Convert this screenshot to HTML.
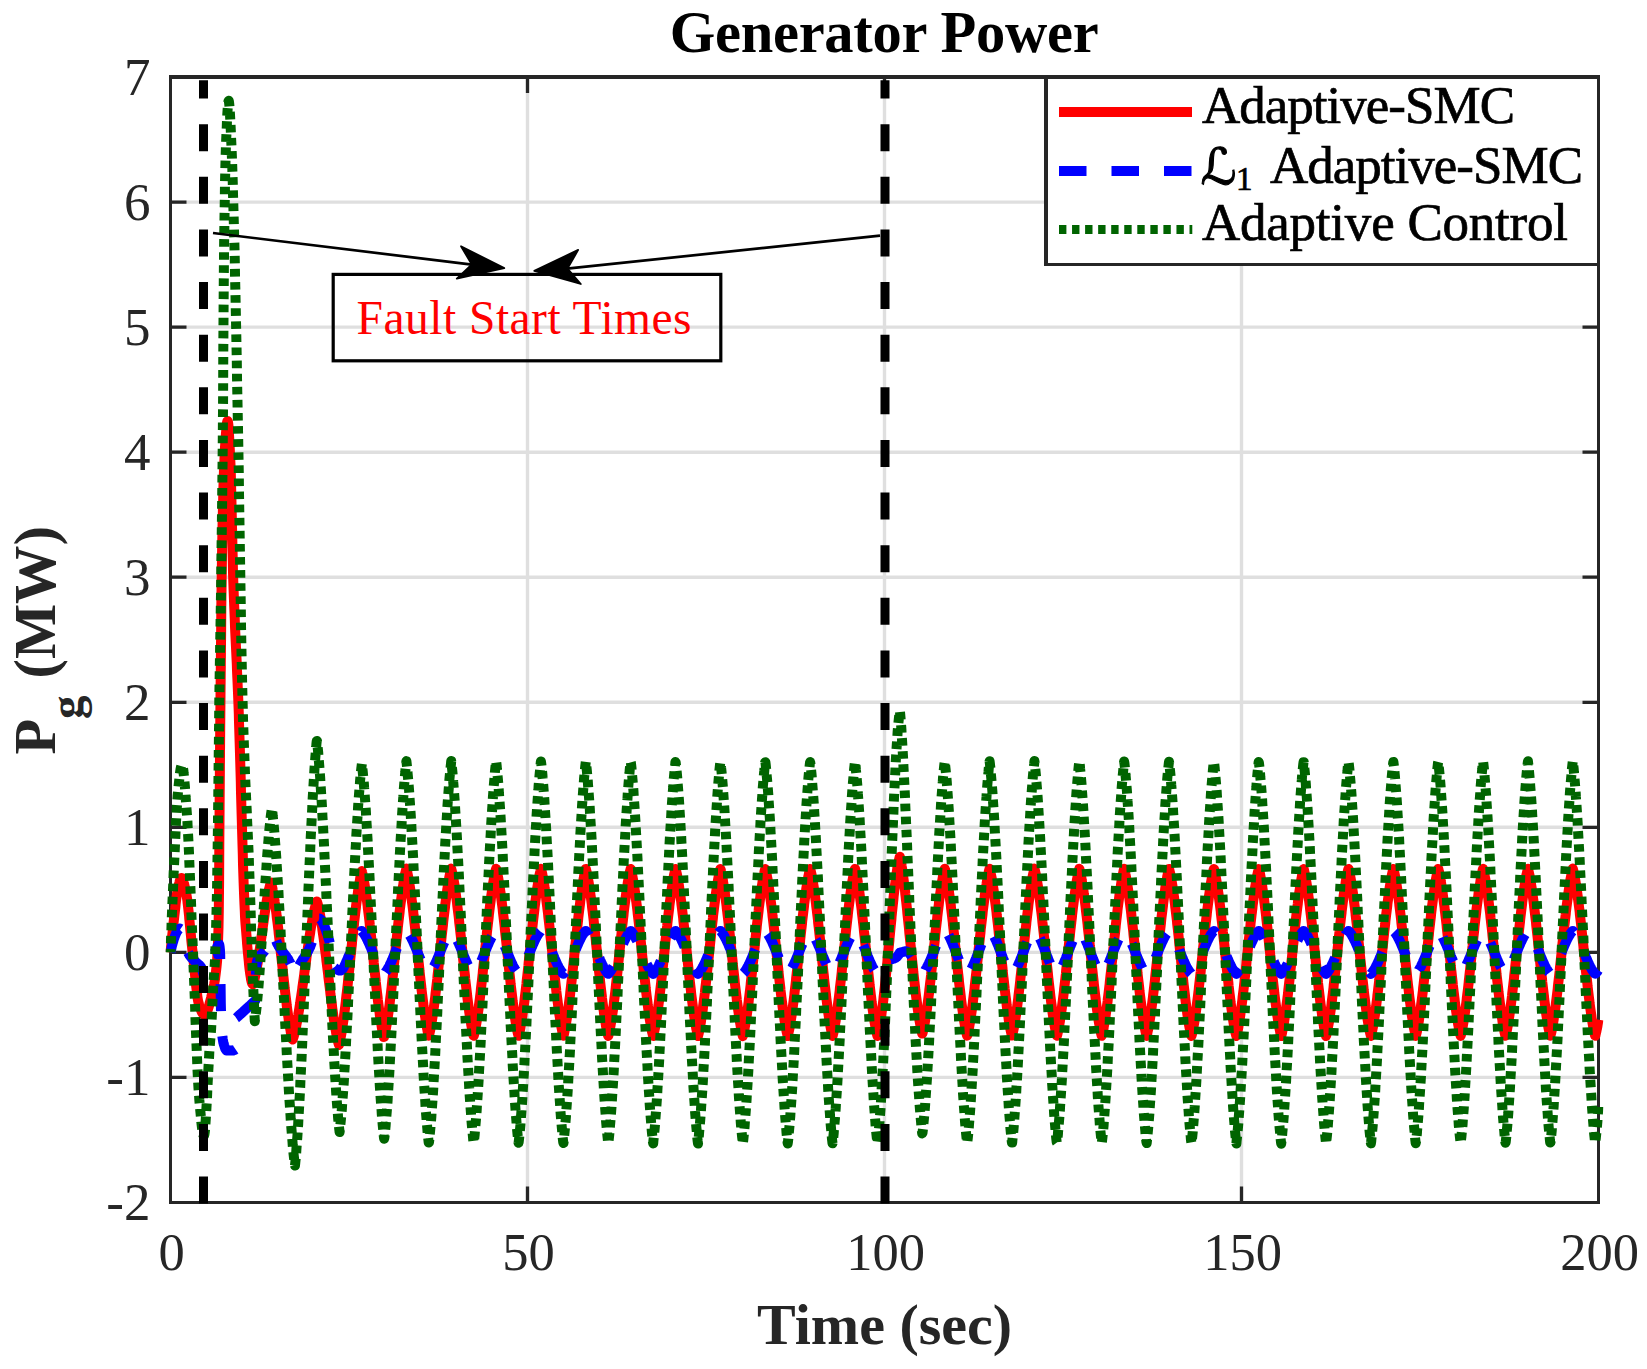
<!DOCTYPE html>
<html lang="en"><head><meta charset="utf-8"><title>Generator Power</title>
<style>html,body{margin:0;padding:0;background:#fff}svg{display:block}</style></head>
<body>
<svg width="1647" height="1369" viewBox="0 0 1647 1369" font-family="'Liberation Serif','Times New Roman',Times,serif">
<rect width="1647" height="1369" fill="#fff"/>
<clipPath id="ax"><rect x="165.5" y="77.0" width="1438.0" height="1125.5"/></clipPath>
<path d="M527.5 77.0V1202.5M884.5 77.0V1202.5M1241.5 77.0V1202.5M170.5 1077.4H1598.5M170.5 952.4H1598.5M170.5 827.3H1598.5M170.5 702.3H1598.5M170.5 577.2H1598.5M170.5 452.2H1598.5M170.5 327.1H1598.5M170.5 202.1H1598.5" stroke="#dfdfdf" stroke-width="3.4" fill="none"/>
<path d="M527.5 1202.5v-16M527.5 77.0v16M884.5 1202.5v-16M884.5 77.0v16M1241.5 1202.5v-16M1241.5 77.0v16M170.5 1077.4h16M1598.5 1077.4h-16M170.5 952.4h16M1598.5 952.4h-16M170.5 827.3h16M1598.5 827.3h-16M170.5 702.3h16M1598.5 702.3h-16M170.5 577.2h16M1598.5 577.2h-16M170.5 452.2h16M1598.5 452.2h-16M170.5 327.1h16M1598.5 327.1h-16M170.5 202.1h16M1598.5 202.1h-16" stroke="#262626" stroke-width="3.3" fill="none"/>
<path d="M170.5 1202.5V75.0M1598.5 1202.5V75.0M169.0 1202.5H1600.0" stroke="#262626" stroke-width="3" fill="none"/>
<path d="M169.0 77.0H1600.0" stroke="#262626" stroke-width="4" fill="none"/>
<g clip-path="url(#ax)" fill="none" stroke-linejoin="round">
<path d="M170.5 952.4L170.8 949.5L171.1 946.6L171.4 943.8L171.6 941.0L171.9 938.3L172.2 935.5L172.5 932.8L172.8 930.2L173.1 927.5L173.4 925.0L173.6 922.4L173.9 919.9L174.2 917.4L174.5 914.8L174.8 912.2L175.1 909.5L175.4 906.9L175.6 904.3L175.9 901.7L176.2 899.3L176.5 897.0L176.8 894.9L177.1 893.0L177.4 891.3L177.6 889.9L177.9 888.6L178.2 887.3L178.5 886.0L178.8 884.8L179.1 883.6L179.4 882.5L179.6 881.5L179.9 880.6L180.2 879.8L180.5 879.1L180.8 878.6L181.1 878.2L181.4 878.0L181.6 878.0L181.9 878.2L182.2 878.5L182.5 879.0L182.8 879.6L183.1 880.4L183.4 881.2L183.6 882.2L183.9 883.3L184.2 884.4L184.5 885.6L184.8 886.9L185.1 888.2L185.4 889.5L185.6 890.9L185.9 892.2L186.2 893.6L186.5 895.1L186.8 896.8L187.1 898.7L187.4 900.8L187.6 903.0L187.9 905.4L188.2 908.0L188.5 910.6L188.8 913.4L189.1 916.2L189.3 919.1L189.6 922.1L189.9 925.1L190.2 928.2L190.5 931.2L190.8 934.2L191.1 937.2L191.3 940.2L191.6 943.0L191.9 945.8L192.2 948.5L192.5 951.1L192.8 953.6L193.1 956.2L193.3 958.9L193.6 961.6L193.9 964.3L194.2 967.2L194.5 970.0L194.8 972.8L195.1 975.6L195.3 978.4L195.6 981.2L195.9 983.9L196.2 986.5L196.5 989.0L196.8 991.4L197.1 993.7L197.3 995.9L197.6 997.9L197.9 999.7L198.2 1001.3L198.5 1002.7L198.8 1003.9L199.1 1004.9L199.3 1005.8L199.6 1006.6L199.9 1007.4L200.2 1008.2L200.5 1008.9L200.8 1009.6L201.1 1010.3L201.3 1011.0L201.6 1011.6L201.9 1012.2L202.2 1012.7L202.5 1013.2L202.8 1013.6L203.1 1014.0L203.3 1014.3L203.6 1014.6L203.9 1014.8L204.2 1014.9L204.5 1014.9L204.8 1014.9L205.1 1014.7L205.3 1014.5L205.6 1014.2L205.9 1013.8L206.2 1013.4L206.5 1012.9L206.8 1012.3L207.1 1011.6L207.3 1010.9L207.6 1010.1L207.9 1009.3L208.2 1008.4L208.5 1007.5L208.8 1006.5L209.1 1005.5L209.3 1004.5L209.6 1003.4L209.9 1002.3L210.2 1001.2L210.5 1000.1L210.8 998.9L211.1 997.7L211.3 996.6L211.6 995.4L211.9 994.2L212.2 993.0L212.5 991.8L212.8 990.6L213.1 989.4L213.3 988.1L213.6 986.8L213.9 985.4L214.2 983.9L214.5 982.2L214.8 980.5L215.1 978.7L215.3 976.7L215.6 974.5L215.9 972.2L216.2 969.6L216.5 966.9L216.8 964.0L217.1 960.7L217.3 956.6L217.6 951.4L217.9 944.9L218.2 936.9L218.5 927.4L218.8 910.3L219.1 882.3L219.3 846.8L219.6 807.0L219.9 766.4L220.2 728.3L220.5 695.9L220.8 665.3L221.1 635.2L221.3 607.2L221.6 582.7L221.9 561.9L222.2 543.3L222.5 527.3L222.8 514.2L223.1 502.4L223.3 491.5L223.6 481.4L223.9 472.4L224.2 464.4L224.5 457.6L224.8 452.2L225.0 447.4L225.3 442.8L225.6 438.4L225.9 434.3L226.2 430.6L226.5 427.3L226.8 424.7L227.0 422.6L227.3 421.3L227.6 420.9L227.9 421.6L228.2 423.4L228.5 426.3L228.8 430.1L229.0 434.8L229.3 440.0L229.6 445.8L229.9 451.9L230.2 458.2L230.5 464.7L230.8 472.4L231.0 482.5L231.3 494.4L231.6 507.6L231.9 521.4L232.2 535.3L232.5 548.9L232.8 561.4L233.0 572.4L233.3 581.6L233.6 590.1L233.9 598.1L234.2 605.7L234.5 613.0L234.8 619.9L235.0 626.6L235.3 633.0L235.6 639.4L235.9 645.6L236.2 651.7L236.5 657.9L236.8 664.1L237.0 670.4L237.3 676.9L237.6 683.6L237.9 690.6L238.2 697.8L238.5 705.5L238.8 713.6L239.0 722.3L239.3 731.5L239.6 741.0L239.9 750.9L240.2 761.0L240.5 771.4L240.8 781.9L241.0 792.6L241.3 803.2L241.6 813.8L241.9 824.3L242.2 834.7L242.5 844.9L242.8 854.7L243.0 864.3L243.3 873.4L243.6 882.1L243.9 890.3L244.2 897.8L244.5 904.8L244.8 911.0L245.0 916.4L245.3 921.0L245.6 924.9L245.9 928.5L246.2 932.2L246.5 935.8L246.8 939.3L247.0 942.8L247.3 946.1L247.6 949.4L247.9 952.6L248.2 955.7L248.5 958.7L248.8 961.5L249.0 964.3L249.3 966.9L249.6 969.3L249.9 971.6L250.2 973.8L250.5 975.7L250.8 977.5L251.0 979.1L251.3 980.5L251.6 981.7L251.9 982.7L252.2 983.5L252.5 984.0L252.8 984.3L253.0 984.2L253.3 983.3L253.6 982.4L253.9 981.4L254.2 980.4L254.5 979.3L254.8 978.1L255.0 976.9L255.3 975.6L255.6 974.2L255.9 972.8L256.2 971.4L256.5 969.9L256.8 968.3L257.0 966.7L257.3 965.0L257.6 963.3L257.9 961.6L258.2 959.8L258.5 957.9L258.8 956.1L259.0 954.2L259.3 952.2L259.6 950.3L259.9 948.3L260.2 946.3L260.5 944.2L260.7 942.2L261.0 940.1L261.3 938.1L261.6 936.0L261.9 933.9L262.2 931.8L262.5 929.7L262.7 927.7L263.0 925.6L263.3 923.5L263.6 921.5L263.9 919.5L264.2 917.5L264.5 915.5L264.7 913.6L265.0 911.6L265.3 909.8L265.6 907.9L265.9 906.1L266.2 904.3L266.5 902.6L266.7 900.9L267.0 899.3L267.3 897.7L267.6 896.1L267.9 894.6L268.2 893.2L268.5 891.8L268.7 890.5L269.0 889.3L269.3 888.1L269.6 886.9L269.9 885.8L270.2 884.8L270.5 883.9L270.7 883.0L271.0 882.6L271.3 883.7L271.6 884.9L271.9 886.1L272.2 887.4L272.5 888.7L272.7 890.2L273.0 891.7L273.3 893.2L273.6 894.8L273.9 896.5L274.2 898.3L274.5 900.1L274.7 901.9L275.0 903.9L275.3 905.8L275.6 907.9L275.9 910.0L276.2 912.1L276.5 914.3L276.7 916.5L277.0 918.8L277.3 921.1L277.6 923.5L277.9 925.9L278.2 928.3L278.5 930.8L278.7 933.3L279.0 935.8L279.3 938.4L279.6 941.0L279.9 943.6L280.2 946.2L280.5 948.8L280.7 951.5L281.0 954.1L281.3 956.8L281.6 959.5L281.9 962.1L282.2 964.8L282.5 967.5L282.7 970.1L283.0 972.8L283.3 975.4L283.6 978.1L283.9 980.7L284.2 983.3L284.5 985.8L284.7 988.4L285.0 990.9L285.3 993.4L285.6 995.8L285.9 998.2L286.2 1000.6L286.5 1002.9L286.7 1005.2L287.0 1007.5L287.3 1009.6L287.6 1011.8L287.9 1013.9L288.2 1015.9L288.5 1017.9L288.7 1019.9L289.0 1021.8L289.3 1023.6L289.6 1025.3L289.9 1027.0L290.2 1028.7L290.5 1030.2L290.7 1031.7L291.0 1033.2L291.3 1034.6L291.6 1035.9L291.9 1037.1L292.2 1038.3L292.5 1039.4L292.7 1039.5L293.0 1038.6L293.3 1037.7L293.6 1036.8L293.9 1035.8L294.2 1034.7L294.5 1033.6L294.7 1032.5L295.0 1031.3L295.3 1030.1L295.6 1028.8L295.9 1027.4L296.2 1026.1L296.4 1024.7L296.7 1023.2L297.0 1021.7L297.3 1020.2L297.6 1018.6L297.9 1017.0L298.2 1015.4L298.4 1013.7L298.7 1012.0L299.0 1010.2L299.3 1008.5L299.6 1006.6L299.9 1004.8L300.2 1002.9L300.4 1001.0L300.7 999.1L301.0 997.2L301.3 995.2L301.6 993.2L301.9 991.2L302.2 989.2L302.4 987.2L302.7 985.1L303.0 983.1L303.3 981.0L303.6 978.9L303.9 976.8L304.2 974.7L304.4 972.6L304.7 970.5L305.0 968.4L305.3 966.3L305.6 964.2L305.9 962.1L306.2 960.1L306.4 958.0L306.7 955.9L307.0 953.9L307.3 951.8L307.6 949.8L307.9 947.8L308.2 945.8L308.4 943.9L308.7 941.9L309.0 940.0L309.3 938.1L309.6 936.2L309.9 934.4L310.2 932.6L310.4 930.8L310.7 929.1L311.0 927.3L311.3 925.7L311.6 924.0L311.9 922.4L312.2 920.8L312.4 919.3L312.7 917.8L313.0 916.4L313.3 915.0L313.6 913.6L313.9 912.3L314.2 911.0L314.4 909.8L314.7 908.6L315.0 907.4L315.3 906.3L315.6 905.3L315.9 904.3L316.2 903.3L316.4 902.4L316.7 901.5L317.0 901.6L317.3 902.6L317.6 903.6L317.9 904.7L318.2 905.9L318.4 907.1L318.7 908.4L319.0 909.7L319.3 911.1L319.6 912.6L319.9 914.1L320.2 915.6L320.4 917.2L320.7 918.9L321.0 920.6L321.3 922.4L321.6 924.2L321.9 926.0L322.2 927.9L322.4 929.9L322.7 931.9L323.0 933.9L323.3 935.9L323.6 938.0L323.9 940.2L324.2 942.3L324.4 944.5L324.7 946.8L325.0 949.0L325.3 951.3L325.6 953.6L325.9 955.9L326.2 958.2L326.4 960.6L326.7 962.9L327.0 965.3L327.3 967.7L327.6 970.0L327.9 972.4L328.2 974.8L328.4 977.2L328.7 979.6L329.0 981.9L329.3 984.3L329.6 986.7L329.9 989.0L330.2 991.3L330.4 993.6L330.7 995.9L331.0 998.2L331.3 1000.4L331.6 1002.6L331.9 1004.8L332.1 1006.9L332.4 1009.1L332.7 1011.1L333.0 1013.2L333.3 1015.2L333.6 1017.2L333.9 1019.1L334.1 1021.0L334.4 1022.8L334.7 1024.6L335.0 1026.3L335.3 1028.0L335.6 1029.6L335.9 1031.2L336.1 1032.7L336.4 1034.2L336.7 1035.6L337.0 1037.0L337.3 1038.3L337.6 1039.6L337.9 1040.7L338.1 1041.9L338.4 1043.0L338.7 1044.0L339.0 1044.9L339.3 1043.8L339.6 1042.6L339.9 1041.4L340.1 1040.0L340.4 1038.7L340.7 1037.2L341.0 1035.7L341.3 1034.1L341.6 1032.5L341.9 1030.8L342.1 1029.0L342.4 1027.2L342.7 1025.3L343.0 1023.3L343.3 1021.3L343.6 1019.2L343.9 1017.1L344.1 1015.0L344.4 1012.7L344.7 1010.5L345.0 1008.2L345.3 1005.8L345.6 1003.4L345.9 1000.9L346.1 998.5L346.4 995.9L346.7 993.4L347.0 990.8L347.3 988.2L347.6 985.5L347.9 982.8L348.1 980.1L348.4 977.4L348.7 974.7L349.0 971.9L349.3 969.2L349.6 966.4L349.9 963.6L350.1 960.8L350.4 958.0L350.7 955.2L351.0 952.4L351.3 949.6L351.6 946.9L351.9 944.1L352.1 941.4L352.4 938.6L352.7 935.9L353.0 933.2L353.3 930.5L353.6 927.9L353.9 925.3L354.1 922.7L354.4 920.1L354.7 917.6L355.0 915.1L355.3 912.6L355.6 910.2L355.9 907.9L356.1 905.6L356.4 903.3L356.7 901.1L357.0 898.9L357.3 896.8L357.6 894.7L357.9 892.7L358.1 890.8L358.4 888.9L358.7 887.0L359.0 885.3L359.3 883.6L359.6 881.9L359.9 880.3L360.1 878.8L360.4 877.4L360.7 876.0L361.0 874.7L361.3 873.4L361.6 872.2L361.9 871.1L362.1 872.2L362.4 873.4L362.7 874.6L363.0 875.9L363.3 877.3L363.6 878.8L363.9 880.3L364.1 881.9L364.4 883.5L364.7 885.2L365.0 887.0L365.3 888.8L365.6 890.7L365.9 892.6L366.1 894.7L366.4 896.7L366.7 898.8L367.0 901.0L367.3 903.2L367.6 905.5L367.8 907.8L368.1 910.2L368.4 912.6L368.7 915.0L369.0 917.5L369.3 920.0L369.6 922.6L369.8 925.2L370.1 927.8L370.4 930.4L370.7 933.1L371.0 935.8L371.3 938.5L371.6 941.2L371.8 943.9L372.1 946.7L372.4 949.4L372.7 952.2L373.0 955.0L373.3 957.7L373.6 960.5L373.8 963.2L374.1 966.0L374.4 968.7L374.7 971.4L375.0 974.1L375.3 976.8L375.6 979.4L375.8 982.0L376.1 984.6L376.4 987.2L376.7 989.8L377.0 992.3L377.3 994.7L377.6 997.2L377.8 999.5L378.1 1001.9L378.4 1004.2L378.7 1006.4L379.0 1008.6L379.3 1010.8L379.6 1012.9L379.8 1014.9L380.1 1016.9L380.4 1018.8L380.7 1020.6L381.0 1022.4L381.3 1024.2L381.6 1025.9L381.8 1027.5L382.1 1029.0L382.4 1030.5L382.7 1031.9L383.0 1033.3L383.3 1034.5L383.6 1035.7L383.8 1036.9L384.1 1036.9L384.4 1035.7L384.7 1034.5L385.0 1033.2L385.3 1031.9L385.6 1030.5L385.8 1029.0L386.1 1027.5L386.4 1025.9L386.7 1024.2L387.0 1022.5L387.3 1020.7L387.6 1018.8L387.8 1016.9L388.1 1014.9L388.4 1012.9L388.7 1010.8L389.0 1008.7L389.3 1006.5L389.6 1004.2L389.8 1002.0L390.1 999.6L390.4 997.2L390.7 994.8L391.0 992.4L391.3 989.9L391.6 987.3L391.8 984.8L392.1 982.2L392.4 979.6L392.7 976.9L393.0 974.2L393.3 971.5L393.6 968.8L393.8 966.1L394.1 963.4L394.4 960.6L394.7 957.8L395.0 955.1L395.3 952.3L395.6 949.6L395.8 946.8L396.1 944.0L396.4 941.3L396.7 938.6L397.0 935.8L397.3 933.1L397.6 930.5L397.8 927.8L398.1 925.2L398.4 922.5L398.7 920.0L399.0 917.4L399.3 914.9L399.6 912.4L399.8 910.0L400.1 907.6L400.4 905.2L400.7 902.9L401.0 900.7L401.3 898.4L401.6 896.3L401.8 894.2L402.1 892.1L402.4 890.1L402.7 888.2L403.0 886.3L403.3 884.5L403.5 882.7L403.8 881.0L404.1 879.3L404.4 877.8L404.7 876.3L405.0 874.8L405.3 873.4L405.5 872.1L405.8 870.9L406.1 869.7L406.4 868.6L406.7 869.8L407.0 871.0L407.3 872.2L407.5 873.5L407.8 874.9L408.1 876.3L408.4 877.8L408.7 879.4L409.0 881.0L409.3 882.7L409.5 884.5L409.8 886.3L410.1 888.2L410.4 890.1L410.7 892.1L411.0 894.1L411.3 896.2L411.5 898.4L411.8 900.6L412.1 902.8L412.4 905.1L412.7 907.5L413.0 909.8L413.3 912.3L413.5 914.7L413.8 917.2L414.1 919.8L414.4 922.3L414.7 924.9L415.0 927.5L415.3 930.2L415.5 932.8L415.8 935.5L416.1 938.2L416.4 940.9L416.7 943.7L417.0 946.4L417.3 949.1L417.5 951.9L417.8 954.6L418.1 957.4L418.4 960.1L418.7 962.8L419.0 965.5L419.3 968.2L419.5 970.9L419.8 973.6L420.1 976.3L420.4 978.9L420.7 981.5L421.0 984.1L421.3 986.6L421.5 989.1L421.8 991.6L422.1 994.0L422.4 996.4L422.7 998.8L423.0 1001.1L423.3 1003.4L423.5 1005.6L423.8 1007.7L424.1 1009.9L424.4 1011.9L424.7 1013.9L425.0 1015.9L425.3 1017.8L425.5 1019.6L425.8 1021.4L426.1 1023.1L426.4 1024.8L426.7 1026.4L427.0 1027.9L427.3 1029.4L427.5 1030.8L427.8 1032.1L428.1 1033.4L428.4 1034.5L428.7 1035.7L429.0 1035.6L429.3 1034.5L429.5 1033.2L429.8 1032.0L430.1 1030.6L430.4 1029.2L430.7 1027.8L431.0 1026.2L431.3 1024.6L431.5 1023.0L431.8 1021.3L432.1 1019.5L432.4 1017.6L432.7 1015.7L433.0 1013.8L433.3 1011.8L433.5 1009.7L433.8 1007.6L434.1 1005.4L434.4 1003.2L434.7 1000.9L435.0 998.6L435.3 996.2L435.5 993.8L435.8 991.4L436.1 988.9L436.4 986.4L436.7 983.8L437.0 981.3L437.3 978.7L437.5 976.0L437.8 973.4L438.1 970.7L438.4 968.0L438.7 965.3L439.0 962.6L439.2 959.9L439.5 957.1L439.8 954.4L440.1 951.6L440.4 948.9L440.7 946.2L441.0 943.4L441.2 940.7L441.5 938.0L441.8 935.3L442.1 932.6L442.4 930.0L442.7 927.3L443.0 924.7L443.2 922.1L443.5 919.5L443.8 917.0L444.1 914.5L444.4 912.1L444.7 909.6L445.0 907.3L445.2 904.9L445.5 902.6L445.8 900.4L446.1 898.2L446.4 896.1L446.7 894.0L447.0 891.9L447.2 889.9L447.5 888.0L447.8 886.1L448.1 884.3L448.4 882.6L448.7 880.9L449.0 879.3L449.2 877.7L449.5 876.2L449.8 874.8L450.1 873.4L450.4 872.1L450.7 870.9L451.0 869.7L451.2 868.6L451.5 869.7L451.8 870.9L452.1 872.1L452.4 873.4L452.7 874.8L453.0 876.2L453.2 877.7L453.5 879.3L453.8 880.9L454.1 882.6L454.4 884.3L454.7 886.1L455.0 888.0L455.2 889.9L455.5 891.9L455.8 894.0L456.1 896.1L456.4 898.2L456.7 900.4L457.0 902.6L457.2 904.9L457.5 907.3L457.8 909.7L458.1 912.1L458.4 914.5L458.7 917.0L459.0 919.6L459.2 922.1L459.5 924.7L459.8 927.3L460.1 930.0L460.4 932.6L460.7 935.3L461.0 938.0L461.2 940.7L461.5 943.4L461.8 946.2L462.1 948.9L462.4 951.7L462.7 954.4L463.0 957.1L463.2 959.9L463.5 962.6L463.8 965.3L464.1 968.0L464.4 970.7L464.7 973.4L465.0 976.0L465.2 978.7L465.5 981.3L465.8 983.9L466.1 986.4L466.4 988.9L466.7 991.4L467.0 993.8L467.2 996.2L467.5 998.6L467.8 1000.9L468.1 1003.2L468.4 1005.4L468.7 1007.6L469.0 1009.7L469.2 1011.8L469.5 1013.8L469.8 1015.7L470.1 1017.6L470.4 1019.5L470.7 1021.3L471.0 1023.0L471.2 1024.6L471.5 1026.2L471.8 1027.8L472.1 1029.2L472.4 1030.6L472.7 1032.0L473.0 1033.3L473.2 1034.5L473.5 1035.6L473.8 1035.7L474.1 1034.5L474.4 1033.3L474.7 1032.1L474.9 1030.7L475.2 1029.4L475.5 1027.9L475.8 1026.4L476.1 1024.8L476.4 1023.1L476.7 1021.4L476.9 1019.6L477.2 1017.8L477.5 1015.9L477.8 1013.9L478.1 1011.9L478.4 1009.9L478.7 1007.7L478.9 1005.6L479.2 1003.3L479.5 1001.1L479.8 998.8L480.1 996.4L480.4 994.0L480.7 991.6L480.9 989.1L481.2 986.6L481.5 984.0L481.8 981.5L482.1 978.9L482.4 976.2L482.7 973.6L482.9 970.9L483.2 968.2L483.5 965.5L483.8 962.8L484.1 960.1L484.4 957.3L484.7 954.6L484.9 951.9L485.2 949.1L485.5 946.4L485.8 943.6L486.1 940.9L486.4 938.2L486.7 935.5L486.9 932.8L487.2 930.2L487.5 927.5L487.8 924.9L488.1 922.3L488.4 919.8L488.7 917.2L488.9 914.7L489.2 912.3L489.5 909.8L489.8 907.5L490.1 905.1L490.4 902.8L490.7 900.6L490.9 898.4L491.2 896.2L491.5 894.1L491.8 892.1L492.1 890.1L492.4 888.2L492.7 886.3L492.9 884.5L493.2 882.7L493.5 881.0L493.8 879.4L494.1 877.8L494.4 876.3L494.7 874.9L494.9 873.5L495.2 872.2L495.5 871.0L495.8 869.8L496.1 868.7L496.4 869.6L496.7 870.8L496.9 872.0L497.2 873.3L497.5 874.7L497.8 876.1L498.1 877.6L498.4 879.1L498.7 880.8L498.9 882.4L499.2 884.2L499.5 886.0L499.8 887.9L500.1 889.8L500.4 891.8L500.7 893.8L500.9 895.9L501.2 898.0L501.5 900.2L501.8 902.5L502.1 904.8L502.4 907.1L502.7 909.5L502.9 911.9L503.2 914.3L503.5 916.8L503.8 919.4L504.1 921.9L504.4 924.5L504.7 927.1L504.9 929.8L505.2 932.4L505.5 935.1L505.8 937.8L506.1 940.5L506.4 943.2L506.7 946.0L506.9 948.7L507.2 951.4L507.5 954.2L507.8 956.9L508.1 959.7L508.4 962.4L508.7 965.1L508.9 967.8L509.2 970.5L509.5 973.2L509.8 975.8L510.1 978.5L510.4 981.1L510.6 983.6L510.9 986.2L511.2 988.7L511.5 991.2L511.8 993.6L512.1 996.0L512.4 998.4L512.6 1000.7L512.9 1003.0L513.2 1005.2L513.5 1007.4L513.8 1009.5L514.1 1011.6L514.4 1013.6L514.6 1015.6L514.9 1017.5L515.2 1019.3L515.5 1021.1L515.8 1022.9L516.1 1024.5L516.4 1026.1L516.6 1027.7L516.9 1029.1L517.2 1030.5L517.5 1031.9L517.8 1033.2L518.1 1034.4L518.4 1035.5L518.6 1035.8L518.9 1034.6L519.2 1033.4L519.5 1032.2L519.8 1030.9L520.1 1029.5L520.4 1028.0L520.6 1026.5L520.9 1024.9L521.2 1023.3L521.5 1021.5L521.8 1019.8L522.1 1017.9L522.4 1016.0L522.6 1014.1L522.9 1012.1L523.2 1010.0L523.5 1007.9L523.8 1005.7L524.1 1003.5L524.4 1001.3L524.6 999.0L524.9 996.6L525.2 994.2L525.5 991.8L525.8 989.3L526.1 986.8L526.4 984.2L526.6 981.7L526.9 979.1L527.2 976.5L527.5 973.8L527.8 971.1L528.1 968.4L528.4 965.7L528.6 963.0L528.9 960.3L529.2 957.6L529.5 954.8L529.8 952.1L530.1 949.3L530.4 946.6L530.6 943.9L530.9 941.1L531.2 938.4L531.5 935.7L531.8 933.0L532.1 930.4L532.4 927.7L532.6 925.1L532.9 922.5L533.2 920.0L533.5 917.4L533.8 914.9L534.1 912.5L534.4 910.0L534.6 907.6L534.9 905.3L535.2 903.0L535.5 900.7L535.8 898.5L536.1 896.4L536.4 894.3L536.6 892.2L536.9 890.2L537.2 888.3L537.5 886.4L537.8 884.6L538.1 882.8L538.4 881.1L538.6 879.5L538.9 877.9L539.2 876.4L539.5 875.0L539.8 873.6L540.1 872.3L540.4 871.1L540.6 869.9L540.9 868.8L541.2 869.5L541.5 870.7L541.8 871.9L542.1 873.2L542.4 874.6L542.6 876.0L542.9 877.5L543.2 879.0L543.5 880.6L543.8 882.3L544.1 884.0L544.4 885.8L544.6 887.7L544.9 889.6L545.2 891.6L545.5 893.6L545.8 895.7L546.1 897.9L546.3 900.1L546.6 902.3L546.9 904.6L547.2 906.9L547.5 909.3L547.8 911.7L548.1 914.1L548.3 916.6L548.6 919.2L548.9 921.7L549.2 924.3L549.5 926.9L549.8 929.5L550.1 932.2L550.3 934.9L550.6 937.6L550.9 940.3L551.2 943.0L551.5 945.7L551.8 948.5L552.1 951.2L552.3 954.0L552.6 956.7L552.9 959.4L553.2 962.2L553.5 964.9L553.8 967.6L554.1 970.3L554.3 973.0L554.6 975.6L554.9 978.3L555.2 980.9L555.5 983.4L555.8 986.0L556.1 988.5L556.3 991.0L556.6 993.4L556.9 995.9L557.2 998.2L557.5 1000.5L557.8 1002.8L558.1 1005.1L558.3 1007.2L558.6 1009.4L558.9 1011.4L559.2 1013.5L559.5 1015.4L559.8 1017.3L560.1 1019.2L560.3 1021.0L560.6 1022.7L560.9 1024.4L561.2 1026.0L561.5 1027.5L561.8 1029.0L562.1 1030.4L562.3 1031.8L562.6 1033.1L562.9 1034.3L563.2 1035.4L563.5 1035.8L563.8 1034.7L564.1 1033.5L564.3 1032.3L564.6 1031.0L564.9 1029.6L565.2 1028.1L565.5 1026.6L565.8 1025.0L566.1 1023.4L566.3 1021.7L566.6 1019.9L566.9 1018.1L567.2 1016.2L567.5 1014.2L567.8 1012.2L568.1 1010.2L568.3 1008.1L568.6 1005.9L568.9 1003.7L569.2 1001.4L569.5 999.1L569.8 996.8L570.1 994.4L570.3 992.0L570.6 989.5L570.9 987.0L571.2 984.5L571.5 981.9L571.8 979.3L572.1 976.7L572.3 974.0L572.6 971.3L572.9 968.7L573.2 966.0L573.5 963.2L573.8 960.5L574.1 957.8L574.3 955.0L574.6 952.3L574.9 949.6L575.2 946.8L575.5 944.1L575.8 941.4L576.1 938.6L576.3 935.9L576.6 933.3L576.9 930.6L577.2 927.9L577.5 925.3L577.8 922.7L578.1 920.2L578.3 917.6L578.6 915.1L578.9 912.7L579.2 910.2L579.5 907.8L579.8 905.5L580.1 903.2L580.3 900.9L580.6 898.7L580.9 896.6L581.2 894.5L581.5 892.4L581.8 890.4L582.0 888.5L582.3 886.6L582.6 884.7L582.9 883.0L583.2 881.3L583.5 879.6L583.8 878.1L584.0 876.6L584.3 875.1L584.6 873.7L584.9 872.4L585.2 871.2L585.5 870.0L585.8 868.9L586.0 869.4L586.3 870.6L586.6 871.8L586.9 873.1L587.2 874.4L587.5 875.9L587.8 877.3L588.0 878.9L588.3 880.5L588.6 882.2L588.9 883.9L589.2 885.7L589.5 887.6L589.8 889.5L590.0 891.4L590.3 893.5L590.6 895.6L590.9 897.7L591.2 899.9L591.5 902.1L591.8 904.4L592.0 906.7L592.3 909.1L592.6 911.5L592.9 913.9L593.2 916.4L593.5 919.0L593.8 921.5L594.0 924.1L594.3 926.7L594.6 929.3L594.9 932.0L595.2 934.7L595.5 937.4L595.8 940.1L596.0 942.8L596.3 945.5L596.6 948.3L596.9 951.0L597.2 953.7L597.5 956.5L597.8 959.2L598.0 962.0L598.3 964.7L598.6 967.4L598.9 970.1L599.2 972.8L599.5 975.4L599.8 978.0L600.0 980.7L600.3 983.2L600.6 985.8L600.9 988.3L601.2 990.8L601.5 993.3L601.8 995.7L602.0 998.0L602.3 1000.4L602.6 1002.6L602.9 1004.9L603.2 1007.1L603.5 1009.2L603.8 1011.3L604.0 1013.3L604.3 1015.3L604.6 1017.2L604.9 1019.1L605.2 1020.8L605.5 1022.6L605.8 1024.3L606.0 1025.9L606.3 1027.4L606.6 1028.9L606.9 1030.3L607.2 1031.7L607.5 1033.0L607.8 1034.2L608.0 1035.3L608.3 1035.9L608.6 1034.8L608.9 1033.6L609.2 1032.4L609.5 1031.1L609.8 1029.7L610.0 1028.2L610.3 1026.7L610.6 1025.2L610.9 1023.5L611.2 1021.8L611.5 1020.1L611.8 1018.2L612.0 1016.3L612.3 1014.4L612.6 1012.4L612.9 1010.4L613.2 1008.2L613.5 1006.1L613.8 1003.9L614.0 1001.6L614.3 999.3L614.6 997.0L614.9 994.6L615.2 992.2L615.5 989.7L615.8 987.2L616.0 984.7L616.3 982.1L616.6 979.5L616.9 976.9L617.2 974.2L617.5 971.6L617.7 968.9L618.0 966.2L618.3 963.5L618.6 960.7L618.9 958.0L619.2 955.3L619.5 952.5L619.7 949.8L620.0 947.0L620.3 944.3L620.6 941.6L620.9 938.9L621.2 936.2L621.5 933.5L621.7 930.8L622.0 928.2L622.3 925.5L622.6 922.9L622.9 920.4L623.2 917.8L623.5 915.3L623.7 912.8L624.0 910.4L624.3 908.0L624.6 905.7L624.9 903.4L625.2 901.1L625.5 898.9L625.7 896.7L626.0 894.6L626.3 892.6L626.6 890.6L626.9 888.6L627.2 886.7L627.5 884.9L627.7 883.1L628.0 881.4L628.3 879.8L628.6 878.2L628.9 876.7L629.2 875.2L629.5 873.8L629.7 872.5L630.0 871.3L630.3 870.1L630.6 868.9L630.9 869.3L631.2 870.5L631.5 871.7L631.7 873.0L632.0 874.3L632.3 875.7L632.6 877.2L632.9 878.8L633.2 880.4L633.5 882.0L633.7 883.8L634.0 885.6L634.3 887.4L634.6 889.3L634.9 891.3L635.2 893.3L635.5 895.4L635.7 897.5L636.0 899.7L636.3 901.9L636.6 904.2L636.9 906.5L637.2 908.9L637.5 911.3L637.7 913.7L638.0 916.2L638.3 918.8L638.6 921.3L638.9 923.9L639.2 926.5L639.5 929.1L639.7 931.8L640.0 934.5L640.3 937.1L640.6 939.9L640.9 942.6L641.2 945.3L641.5 948.0L641.7 950.8L642.0 953.5L642.3 956.3L642.6 959.0L642.9 961.7L643.2 964.5L643.5 967.2L643.7 969.9L644.0 972.5L644.3 975.2L644.6 977.8L644.9 980.4L645.2 983.0L645.5 985.6L645.7 988.1L646.0 990.6L646.3 993.1L646.6 995.5L646.9 997.8L647.2 1000.2L647.5 1002.5L647.7 1004.7L648.0 1006.9L648.3 1009.0L648.6 1011.1L648.9 1013.1L649.2 1015.1L649.5 1017.0L649.7 1018.9L650.0 1020.7L650.3 1022.4L650.6 1024.1L650.9 1025.7L651.2 1027.3L651.5 1028.8L651.7 1030.2L652.0 1031.6L652.3 1032.9L652.6 1034.1L652.9 1035.2L653.2 1036.0L653.4 1034.9L653.7 1033.7L654.0 1032.5L654.3 1031.2L654.6 1029.8L654.9 1028.4L655.2 1026.9L655.4 1025.3L655.7 1023.7L656.0 1022.0L656.3 1020.2L656.6 1018.4L656.9 1016.5L657.2 1014.6L657.4 1012.6L657.7 1010.5L658.0 1008.4L658.3 1006.3L658.6 1004.1L658.9 1001.8L659.2 999.5L659.4 997.2L659.7 994.8L660.0 992.4L660.3 989.9L660.6 987.4L660.9 984.9L661.2 982.3L661.4 979.7L661.7 977.1L662.0 974.4L662.3 971.8L662.6 969.1L662.9 966.4L663.2 963.7L663.4 960.9L663.7 958.2L664.0 955.5L664.3 952.7L664.6 950.0L664.9 947.3L665.2 944.5L665.4 941.8L665.7 939.1L666.0 936.4L666.3 933.7L666.6 931.0L666.9 928.4L667.2 925.7L667.4 923.1L667.7 920.6L668.0 918.0L668.3 915.5L668.6 913.0L668.9 910.6L669.2 908.2L669.4 905.9L669.7 903.5L670.0 901.3L670.3 899.1L670.6 896.9L670.9 894.8L671.2 892.7L671.4 890.7L671.7 888.8L672.0 886.9L672.3 885.0L672.6 883.3L672.9 881.5L673.2 879.9L673.4 878.3L673.7 876.8L674.0 875.3L674.3 873.9L674.6 872.6L674.9 871.3L675.2 870.2L675.4 869.0L675.7 869.3L676.0 870.4L676.3 871.6L676.6 872.9L676.9 874.2L677.2 875.6L677.4 877.1L677.7 878.6L678.0 880.2L678.3 881.9L678.6 883.6L678.9 885.4L679.2 887.3L679.4 889.2L679.7 891.1L680.0 893.1L680.3 895.2L680.6 897.3L680.9 899.5L681.2 901.7L681.4 904.0L681.7 906.3L682.0 908.7L682.3 911.1L682.6 913.6L682.9 916.0L683.2 918.5L683.4 921.1L683.7 923.7L684.0 926.3L684.3 928.9L684.6 931.6L684.9 934.2L685.2 936.9L685.4 939.6L685.7 942.4L686.0 945.1L686.3 947.8L686.6 950.6L686.9 953.3L687.2 956.0L687.4 958.8L687.7 961.5L688.0 964.2L688.3 967.0L688.6 969.6L688.9 972.3L689.1 975.0L689.4 977.6L689.7 980.2L690.0 982.8L690.3 985.4L690.6 987.9L690.9 990.4L691.1 992.9L691.4 995.3L691.7 997.7L692.0 1000.0L692.3 1002.3L692.6 1004.5L692.9 1006.7L693.1 1008.9L693.4 1010.9L693.7 1013.0L694.0 1015.0L694.3 1016.9L694.6 1018.8L694.9 1020.6L695.1 1022.3L695.4 1024.0L695.7 1025.6L696.0 1027.2L696.3 1028.7L696.6 1030.1L696.9 1031.5L697.1 1032.8L697.4 1034.0L697.7 1035.1L698.0 1036.1L698.3 1035.0L698.6 1033.8L698.9 1032.6L699.1 1031.3L699.4 1029.9L699.7 1028.5L700.0 1027.0L700.3 1025.4L700.6 1023.8L700.9 1022.1L701.1 1020.3L701.4 1018.5L701.7 1016.6L702.0 1014.7L702.3 1012.7L702.6 1010.7L702.9 1008.6L703.1 1006.4L703.4 1004.2L703.7 1002.0L704.0 999.7L704.3 997.4L704.6 995.0L704.9 992.5L705.1 990.1L705.4 987.6L705.7 985.1L706.0 982.5L706.3 979.9L706.6 977.3L706.9 974.6L707.1 972.0L707.4 969.3L707.7 966.6L708.0 963.9L708.3 961.2L708.6 958.4L708.9 955.7L709.1 953.0L709.4 950.2L709.7 947.5L710.0 944.7L710.3 942.0L710.6 939.3L710.9 936.6L711.1 933.9L711.4 931.2L711.7 928.6L712.0 925.9L712.3 923.3L712.6 920.8L712.9 918.2L713.1 915.7L713.4 913.2L713.7 910.8L714.0 908.4L714.3 906.0L714.6 903.7L714.9 901.5L715.1 899.2L715.4 897.1L715.7 895.0L716.0 892.9L716.3 890.9L716.6 888.9L716.9 887.0L717.1 885.2L717.4 883.4L717.7 881.7L718.0 880.0L718.3 878.4L718.6 876.9L718.9 875.4L719.1 874.0L719.4 872.7L719.7 871.4L720.0 870.2L720.3 869.1L720.6 869.2L720.9 870.3L721.1 871.5L721.4 872.8L721.7 874.1L722.0 875.5L722.3 877.0L722.6 878.5L722.9 880.1L723.1 881.8L723.4 883.5L723.7 885.3L724.0 887.1L724.3 889.0L724.6 891.0L724.8 893.0L725.1 895.1L725.4 897.2L725.7 899.3L726.0 901.6L726.3 903.8L726.6 906.2L726.8 908.5L727.1 910.9L727.4 913.4L727.7 915.8L728.0 918.3L728.3 920.9L728.6 923.5L728.8 926.1L729.1 928.7L729.4 931.4L729.7 934.0L730.0 936.7L730.3 939.4L730.6 942.1L730.8 944.9L731.1 947.6L731.4 950.3L731.7 953.1L732.0 955.8L732.3 958.6L732.6 961.3L732.8 964.0L733.1 966.7L733.4 969.4L733.7 972.1L734.0 974.8L734.3 977.4L734.6 980.0L734.8 982.6L735.1 985.2L735.4 987.7L735.7 990.2L736.0 992.7L736.3 995.1L736.6 997.5L736.8 999.8L737.1 1002.1L737.4 1004.3L737.7 1006.5L738.0 1008.7L738.3 1010.8L738.6 1012.8L738.8 1014.8L739.1 1016.7L739.4 1018.6L739.7 1020.4L740.0 1022.2L740.3 1023.9L740.6 1025.5L740.8 1027.1L741.1 1028.6L741.4 1030.0L741.7 1031.4L742.0 1032.7L742.3 1033.9L742.6 1035.1L742.8 1036.2L743.1 1035.1L743.4 1033.9L743.7 1032.7L744.0 1031.4L744.3 1030.0L744.6 1028.6L744.8 1027.1L745.1 1025.5L745.4 1023.9L745.7 1022.2L746.0 1020.5L746.3 1018.7L746.6 1016.8L746.8 1014.9L747.1 1012.9L747.4 1010.8L747.7 1008.8L748.0 1006.6L748.3 1004.4L748.6 1002.2L748.8 999.9L749.1 997.5L749.4 995.2L749.7 992.7L750.0 990.3L750.3 987.8L750.6 985.3L750.8 982.7L751.1 980.1L751.4 977.5L751.7 974.9L752.0 972.2L752.3 969.5L752.6 966.8L752.8 964.1L753.1 961.4L753.4 958.7L753.7 955.9L754.0 953.2L754.3 950.4L754.6 947.7L754.8 945.0L755.1 942.2L755.4 939.5L755.7 936.8L756.0 934.1L756.3 931.4L756.6 928.8L756.8 926.2L757.1 923.5L757.4 921.0L757.7 918.4L758.0 915.9L758.3 913.4L758.6 911.0L758.8 908.6L759.1 906.2L759.4 903.9L759.7 901.6L760.0 899.4L760.3 897.2L760.5 895.1L760.8 893.0L761.1 891.0L761.4 889.1L761.7 887.2L762.0 885.3L762.3 883.5L762.5 881.8L762.8 880.2L763.1 878.6L763.4 877.0L763.7 875.6L764.0 874.2L764.3 872.8L764.5 871.5L764.8 870.3L765.1 869.2L765.4 869.1L765.7 870.2L766.0 871.4L766.3 872.7L766.5 874.0L766.8 875.4L767.1 876.9L767.4 878.4L767.7 880.0L768.0 881.6L768.3 883.3L768.5 885.1L768.8 887.0L769.1 888.9L769.4 890.8L769.7 892.8L770.0 894.9L770.3 897.0L770.5 899.2L770.8 901.4L771.1 903.7L771.4 906.0L771.7 908.3L772.0 910.7L772.3 913.2L772.5 915.6L772.8 918.1L773.1 920.7L773.4 923.3L773.7 925.9L774.0 928.5L774.3 931.1L774.5 933.8L774.8 936.5L775.1 939.2L775.4 941.9L775.7 944.7L776.0 947.4L776.3 950.1L776.5 952.9L776.8 955.6L777.1 958.3L777.4 961.1L777.7 963.8L778.0 966.5L778.3 969.2L778.5 971.9L778.8 974.6L779.1 977.2L779.4 979.8L779.7 982.4L780.0 985.0L780.3 987.5L780.5 990.0L780.8 992.5L781.1 994.9L781.4 997.3L781.7 999.6L782.0 1001.9L782.3 1004.2L782.5 1006.4L782.8 1008.5L783.1 1010.6L783.4 1012.7L783.7 1014.7L784.0 1016.6L784.3 1018.5L784.5 1020.3L784.8 1022.0L785.1 1023.7L785.4 1025.4L785.7 1026.9L786.0 1028.4L786.3 1029.9L786.5 1031.2L786.8 1032.6L787.1 1033.8L787.4 1035.0L787.7 1036.1L788.0 1035.2L788.3 1034.0L788.5 1032.8L788.8 1031.5L789.1 1030.1L789.4 1028.7L789.7 1027.2L790.0 1025.7L790.3 1024.0L790.5 1022.4L790.8 1020.6L791.1 1018.8L791.4 1017.0L791.7 1015.0L792.0 1013.0L792.3 1011.0L792.5 1008.9L792.8 1006.8L793.1 1004.6L793.4 1002.3L793.7 1000.1L794.0 997.7L794.3 995.4L794.5 992.9L794.8 990.5L795.1 988.0L795.4 985.5L795.7 982.9L796.0 980.3L796.2 977.7L796.5 975.1L796.8 972.4L797.1 969.7L797.4 967.0L797.7 964.3L798.0 961.6L798.2 958.9L798.5 956.1L798.8 953.4L799.1 950.6L799.4 947.9L799.7 945.2L800.0 942.4L800.2 939.7L800.5 937.0L800.8 934.3L801.1 931.6L801.4 929.0L801.7 926.4L802.0 923.8L802.2 921.2L802.5 918.6L802.8 916.1L803.1 913.6L803.4 911.2L803.7 908.8L804.0 906.4L804.2 904.1L804.5 901.8L804.8 899.6L805.1 897.4L805.4 895.3L805.7 893.2L806.0 891.2L806.2 889.2L806.5 887.3L806.8 885.5L807.1 883.7L807.4 882.0L807.7 880.3L808.0 878.7L808.2 877.1L808.5 875.7L808.8 874.3L809.1 872.9L809.4 871.6L809.7 870.4L810.0 869.3L810.2 869.0L810.5 870.1L810.8 871.3L811.1 872.6L811.4 873.9L811.7 875.3L812.0 876.7L812.2 878.3L812.5 879.8L812.8 881.5L813.1 883.2L813.4 885.0L813.7 886.8L814.0 888.7L814.2 890.7L814.5 892.7L814.8 894.7L815.1 896.8L815.4 899.0L815.7 901.2L816.0 903.5L816.2 905.8L816.5 908.1L816.8 910.5L817.1 913.0L817.4 915.4L817.7 917.9L818.0 920.5L818.2 923.1L818.5 925.7L818.8 928.3L819.1 930.9L819.4 933.6L819.7 936.3L820.0 939.0L820.2 941.7L820.5 944.4L820.8 947.2L821.1 949.9L821.4 952.7L821.7 955.4L822.0 958.1L822.2 960.9L822.5 963.6L822.8 966.3L823.1 969.0L823.4 971.7L823.7 974.4L824.0 977.0L824.2 979.6L824.5 982.2L824.8 984.8L825.1 987.3L825.4 989.8L825.7 992.3L826.0 994.7L826.2 997.1L826.5 999.4L826.8 1001.7L827.1 1004.0L827.4 1006.2L827.7 1008.4L828.0 1010.5L828.2 1012.5L828.5 1014.5L828.8 1016.4L829.1 1018.3L829.4 1020.1L829.7 1021.9L830.0 1023.6L830.2 1025.2L830.5 1026.8L830.8 1028.3L831.1 1029.8L831.4 1031.1L831.7 1032.5L831.9 1033.7L832.2 1034.9L832.5 1036.0L832.8 1035.3L833.1 1034.1L833.4 1032.9L833.7 1031.6L833.9 1030.3L834.2 1028.8L834.5 1027.3L834.8 1025.8L835.1 1024.2L835.4 1022.5L835.7 1020.8L835.9 1019.0L836.2 1017.1L836.5 1015.2L836.8 1013.2L837.1 1011.2L837.4 1009.1L837.7 1007.0L837.9 1004.8L838.2 1002.5L838.5 1000.2L838.8 997.9L839.1 995.5L839.4 993.1L839.7 990.7L839.9 988.2L840.2 985.7L840.5 983.1L840.8 980.5L841.1 977.9L841.4 975.3L841.7 972.6L841.9 969.9L842.2 967.2L842.5 964.5L842.8 961.8L843.1 959.1L843.4 956.3L843.7 953.6L843.9 950.9L844.2 948.1L844.5 945.4L844.8 942.7L845.1 939.9L845.4 937.2L845.7 934.5L845.9 931.9L846.2 929.2L846.5 926.6L846.8 924.0L847.1 921.4L847.4 918.8L847.7 916.3L847.9 913.8L848.2 911.4L848.5 909.0L848.8 906.6L849.1 904.3L849.4 902.0L849.7 899.8L849.9 897.6L850.2 895.5L850.5 893.4L850.8 891.3L851.1 889.4L851.4 887.5L851.7 885.6L851.9 883.8L852.2 882.1L852.5 880.4L852.8 878.8L853.1 877.3L853.4 875.8L853.7 874.4L853.9 873.0L854.2 871.7L854.5 870.5L854.8 869.4L855.1 868.9L855.4 870.0L855.7 871.2L855.9 872.5L856.2 873.8L856.5 875.2L856.8 876.6L857.1 878.1L857.4 879.7L857.7 881.4L857.9 883.1L858.2 884.8L858.5 886.7L858.8 888.6L859.1 890.5L859.4 892.5L859.7 894.6L859.9 896.7L860.2 898.8L860.5 901.0L860.8 903.3L861.1 905.6L861.4 907.9L861.7 910.3L861.9 912.8L862.2 915.2L862.5 917.7L862.8 920.3L863.1 922.9L863.4 925.4L863.7 928.1L863.9 930.7L864.2 933.4L864.5 936.1L864.8 938.8L865.1 941.5L865.4 944.2L865.7 947.0L865.9 949.7L866.2 952.4L866.5 955.2L866.8 957.9L867.1 960.6L867.4 963.4L867.6 966.1L867.9 968.8L868.2 971.5L868.5 974.1L868.8 976.8L869.1 979.4L869.4 982.0L869.6 984.6L869.9 987.1L870.2 989.6L870.5 992.1L870.8 994.5L871.1 996.9L871.4 999.3L871.6 1001.6L871.9 1003.8L872.2 1006.0L872.5 1008.2L872.8 1010.3L873.1 1012.3L873.4 1014.3L873.6 1016.3L873.9 1018.2L874.2 1020.0L874.5 1021.8L874.8 1023.5L875.1 1025.1L875.4 1026.7L875.6 1028.2L875.9 1029.6L876.2 1031.0L876.5 1032.4L876.8 1033.6L877.1 1034.8L877.4 1035.9L877.6 1035.4L877.9 1034.2L878.2 1033.0L878.5 1031.7L878.8 1030.4L879.1 1028.9L879.4 1027.5L879.6 1025.9L879.9 1024.3L880.2 1022.6L880.5 1020.9L880.8 1019.1L881.1 1016.8L881.4 1014.8L881.6 1012.8L881.9 1010.7L882.2 1008.6L882.5 1006.4L882.8 1004.1L883.1 1001.8L883.4 999.4L883.6 997.0L883.9 994.5L884.2 992.0L884.5 989.4L884.8 986.8L885.1 984.1L885.4 981.4L885.6 978.7L885.9 975.9L886.2 973.0L886.5 970.2L886.8 967.3L887.1 964.4L887.4 961.5L887.6 958.5L887.9 955.5L888.2 952.5L888.5 949.5L888.8 946.5L889.1 943.5L889.4 940.4L889.6 937.4L889.9 934.4L890.2 931.3L890.5 928.3L890.8 925.3L891.1 922.3L891.4 919.4L891.6 916.4L891.9 913.5L892.2 910.6L892.5 907.8L892.8 905.0L893.1 902.2L893.4 899.5L893.6 896.8L893.9 894.2L894.2 891.7L894.5 889.2L894.8 886.7L895.1 884.4L895.4 882.1L895.6 879.8L895.9 877.7L896.2 875.6L896.5 873.6L896.8 871.7L897.1 869.9L897.4 868.1L897.6 866.5L897.9 864.9L898.2 863.4L898.5 862.0L898.8 860.7L899.1 859.5L899.4 858.3L899.6 857.3L899.9 856.8L900.2 858.1L900.5 859.4L900.8 860.9L901.1 862.4L901.4 864.0L901.6 865.7L901.9 867.5L902.2 869.3L902.5 871.2L902.8 873.2L903.1 875.3L903.3 877.4L903.6 879.6L903.9 881.9L904.2 884.2L904.5 886.5L904.8 889.0L905.1 891.4L905.3 894.0L905.6 896.5L905.9 899.1L906.2 901.8L906.5 904.5L906.8 907.2L907.1 909.9L907.3 912.7L907.6 915.5L907.9 918.3L908.2 921.1L908.5 923.9L908.8 926.8L909.1 929.7L909.3 932.5L909.6 935.4L909.9 938.3L910.2 941.1L910.5 944.0L910.8 946.9L911.1 949.7L911.3 952.6L911.6 955.4L911.9 958.2L912.2 961.0L912.5 963.8L912.8 966.5L913.1 969.2L913.3 971.9L913.6 974.6L913.9 977.3L914.2 979.9L914.5 982.4L914.8 985.0L915.1 987.5L915.3 989.9L915.6 992.3L915.9 994.7L916.2 997.1L916.5 999.3L916.8 1001.6L917.1 1003.8L917.3 1005.9L917.6 1008.0L917.9 1010.0L918.2 1012.0L918.5 1013.9L918.8 1015.8L919.1 1017.6L919.3 1019.4L919.6 1021.1L919.9 1022.7L920.2 1024.3L920.5 1025.8L920.8 1027.3L921.1 1028.6L921.3 1030.0L921.6 1031.2L921.9 1032.5L922.2 1033.6L922.5 1033.3L922.8 1032.1L923.1 1031.0L923.3 1029.7L923.6 1028.4L923.9 1027.0L924.2 1025.6L924.5 1024.1L924.8 1022.5L925.1 1020.9L925.3 1019.2L925.6 1017.5L925.9 1015.7L926.2 1013.9L926.5 1012.0L926.8 1010.0L927.1 1008.0L927.3 1005.9L927.6 1003.8L927.9 1001.6L928.2 999.4L928.5 997.1L928.8 994.8L929.1 992.5L929.3 990.1L929.6 987.7L929.9 985.2L930.2 982.7L930.5 980.2L930.8 977.6L931.1 975.0L931.3 972.4L931.6 969.8L931.9 967.1L932.2 964.5L932.5 961.8L932.8 959.1L933.1 956.4L933.3 953.7L933.6 951.0L933.9 948.2L934.2 945.5L934.5 942.8L934.8 940.1L935.1 937.4L935.3 934.8L935.6 932.1L935.9 929.5L936.2 926.8L936.5 924.2L936.8 921.7L937.1 919.1L937.3 916.6L937.6 914.1L937.9 911.7L938.2 909.3L938.5 906.9L938.8 904.6L939.0 902.3L939.3 900.1L939.6 897.9L939.9 895.8L940.2 893.7L940.5 891.6L940.8 889.7L941.0 887.7L941.3 885.9L941.6 884.1L941.9 882.3L942.2 880.7L942.5 879.1L942.8 877.5L943.0 876.0L943.3 874.6L943.6 873.2L943.9 871.9L944.2 870.7L944.5 869.6L944.8 868.7L945.0 869.8L945.3 871.0L945.6 872.3L945.9 873.6L946.2 874.9L946.5 876.4L946.8 877.9L947.0 879.5L947.3 881.1L947.6 882.8L947.9 884.6L948.2 886.4L948.5 888.2L948.8 890.2L949.0 892.2L949.3 894.2L949.6 896.3L949.9 898.5L950.2 900.7L950.5 902.9L950.8 905.2L951.0 907.6L951.3 910.0L951.6 912.4L951.9 914.8L952.2 917.3L952.5 919.9L952.8 922.4L953.0 925.0L953.3 927.7L953.6 930.3L953.9 933.0L954.2 935.6L954.5 938.3L954.8 941.1L955.0 943.8L955.3 946.5L955.6 949.3L955.9 952.0L956.2 954.7L956.5 957.5L956.8 960.2L957.0 962.9L957.3 965.7L957.6 968.4L957.9 971.0L958.2 973.7L958.5 976.4L958.8 979.0L959.0 981.6L959.3 984.2L959.6 986.7L959.9 989.2L960.2 991.7L960.5 994.1L960.8 996.5L961.0 998.9L961.3 1001.2L961.6 1003.5L961.9 1005.7L962.2 1007.8L962.5 1010.0L962.8 1012.0L963.0 1014.0L963.3 1016.0L963.6 1017.9L963.9 1019.7L964.2 1021.5L964.5 1023.2L964.8 1024.9L965.0 1026.4L965.3 1028.0L965.6 1029.4L965.9 1030.8L966.2 1032.1L966.5 1033.4L966.8 1034.6L967.0 1035.7L967.3 1035.5L967.6 1034.4L967.9 1033.2L968.2 1031.9L968.5 1030.6L968.8 1029.2L969.0 1027.7L969.3 1026.2L969.6 1024.6L969.9 1022.9L970.2 1021.2L970.5 1019.4L970.8 1017.6L971.0 1015.6L971.3 1013.7L971.6 1011.7L971.9 1009.6L972.2 1007.5L972.5 1005.3L972.8 1003.1L973.0 1000.8L973.3 998.5L973.6 996.1L973.9 993.7L974.2 991.3L974.5 988.8L974.7 986.3L975.0 983.7L975.3 981.1L975.6 978.5L975.9 975.9L976.2 973.3L976.5 970.6L976.7 967.9L977.0 965.2L977.3 962.5L977.6 959.7L977.9 957.0L978.2 954.3L978.5 951.5L978.7 948.8L979.0 946.0L979.3 943.3L979.6 940.6L979.9 937.9L980.2 935.2L980.5 932.5L980.7 929.8L981.0 927.2L981.3 924.6L981.6 922.0L981.9 919.4L982.2 916.9L982.5 914.4L982.7 912.0L983.0 909.5L983.3 907.2L983.6 904.8L983.9 902.5L984.2 900.3L984.5 898.1L984.7 896.0L985.0 893.9L985.3 891.8L985.6 889.8L985.9 887.9L986.2 886.1L986.5 884.2L986.7 882.5L987.0 880.8L987.3 879.2L987.6 877.6L987.9 876.1L988.2 874.7L988.5 873.3L988.7 872.0L989.0 870.8L989.3 869.6L989.6 868.7L989.9 869.8L990.2 870.9L990.5 872.2L990.7 873.5L991.0 874.8L991.3 876.3L991.6 877.8L991.9 879.3L992.2 881.0L992.5 882.7L992.7 884.4L993.0 886.2L993.3 888.1L993.6 890.0L993.9 892.0L994.2 894.1L994.5 896.2L994.7 898.3L995.0 900.5L995.3 902.7L995.6 905.0L995.9 907.4L996.2 909.8L996.5 912.2L996.7 914.6L997.0 917.1L997.3 919.7L997.6 922.2L997.9 924.8L998.2 927.4L998.5 930.1L998.7 932.7L999.0 935.4L999.3 938.1L999.6 940.8L999.9 943.6L1000.2 946.3L1000.5 949.0L1000.7 951.8L1001.0 954.5L1001.3 957.3L1001.6 960.0L1001.9 962.7L1002.2 965.4L1002.5 968.1L1002.7 970.8L1003.0 973.5L1003.3 976.2L1003.6 978.8L1003.9 981.4L1004.2 984.0L1004.5 986.5L1004.7 989.0L1005.0 991.5L1005.3 993.9L1005.6 996.3L1005.9 998.7L1006.2 1001.0L1006.5 1003.3L1006.7 1005.5L1007.0 1007.7L1007.3 1009.8L1007.6 1011.9L1007.9 1013.9L1008.2 1015.8L1008.5 1017.7L1008.7 1019.6L1009.0 1021.3L1009.3 1023.1L1009.6 1024.7L1009.9 1026.3L1010.2 1027.8L1010.4 1029.3L1010.7 1030.7L1011.0 1032.0L1011.3 1033.3L1011.6 1034.5L1011.9 1035.6L1012.2 1035.6L1012.4 1034.5L1012.7 1033.3L1013.0 1032.0L1013.3 1030.7L1013.6 1029.3L1013.9 1027.8L1014.2 1026.3L1014.4 1024.7L1014.7 1023.0L1015.0 1021.3L1015.3 1019.5L1015.6 1017.7L1015.9 1015.8L1016.2 1013.8L1016.4 1011.8L1016.7 1009.8L1017.0 1007.6L1017.3 1005.5L1017.6 1003.2L1017.9 1001.0L1018.2 998.7L1018.4 996.3L1018.7 993.9L1019.0 991.5L1019.3 989.0L1019.6 986.5L1019.9 983.9L1020.2 981.4L1020.4 978.8L1020.7 976.1L1021.0 973.5L1021.3 970.8L1021.6 968.1L1021.9 965.4L1022.2 962.7L1022.4 960.0L1022.7 957.2L1023.0 954.5L1023.3 951.7L1023.6 949.0L1023.9 946.3L1024.2 943.5L1024.4 940.8L1024.7 938.1L1025.0 935.4L1025.3 932.7L1025.6 930.0L1025.9 927.4L1026.2 924.8L1026.4 922.2L1026.7 919.6L1027.0 917.1L1027.3 914.6L1027.6 912.2L1027.9 909.7L1028.2 907.4L1028.4 905.0L1028.7 902.7L1029.0 900.5L1029.3 898.3L1029.6 896.1L1029.9 894.0L1030.2 892.0L1030.4 890.0L1030.7 888.1L1031.0 886.2L1031.3 884.4L1031.6 882.6L1031.9 880.9L1032.2 879.3L1032.4 877.8L1032.7 876.3L1033.0 874.8L1033.3 873.4L1033.6 872.1L1033.9 870.9L1034.2 869.7L1034.4 868.6L1034.7 869.7L1035.0 870.8L1035.3 872.1L1035.6 873.4L1035.9 874.7L1036.2 876.2L1036.4 877.7L1036.7 879.2L1037.0 880.8L1037.3 882.5L1037.6 884.3L1037.9 886.1L1038.2 887.9L1038.4 889.9L1038.7 891.9L1039.0 893.9L1039.3 896.0L1039.6 898.1L1039.9 900.3L1040.2 902.6L1040.4 904.9L1040.7 907.2L1041.0 909.6L1041.3 912.0L1041.6 914.4L1041.9 916.9L1042.2 919.5L1042.4 922.0L1042.7 924.6L1043.0 927.2L1043.3 929.9L1043.6 932.5L1043.9 935.2L1044.2 937.9L1044.4 940.6L1044.7 943.3L1045.0 946.1L1045.3 948.8L1045.6 951.6L1045.9 954.3L1046.1 957.0L1046.4 959.8L1046.7 962.5L1047.0 965.2L1047.3 967.9L1047.6 970.6L1047.9 973.3L1048.1 975.9L1048.4 978.6L1048.7 981.2L1049.0 983.8L1049.3 986.3L1049.6 988.8L1049.9 991.3L1050.1 993.7L1050.4 996.1L1050.7 998.5L1051.0 1000.8L1051.3 1003.1L1051.6 1005.3L1051.9 1007.5L1052.1 1009.6L1052.4 1011.7L1052.7 1013.7L1053.0 1015.7L1053.3 1017.6L1053.6 1019.4L1053.9 1021.2L1054.1 1022.9L1054.4 1024.6L1054.7 1026.2L1055.0 1027.7L1055.3 1029.2L1055.6 1030.6L1055.9 1031.9L1056.1 1033.2L1056.4 1034.4L1056.7 1035.6L1057.0 1035.7L1057.3 1034.6L1057.6 1033.4L1057.9 1032.1L1058.1 1030.8L1058.4 1029.4L1058.7 1027.9L1059.0 1026.4L1059.3 1024.8L1059.6 1023.2L1059.9 1021.5L1060.1 1019.7L1060.4 1017.8L1060.7 1016.0L1061.0 1014.0L1061.3 1012.0L1061.6 1009.9L1061.9 1007.8L1062.1 1005.6L1062.4 1003.4L1062.7 1001.2L1063.0 998.8L1063.3 996.5L1063.6 994.1L1063.9 991.7L1064.1 989.2L1064.4 986.7L1064.7 984.1L1065.0 981.6L1065.3 979.0L1065.6 976.3L1065.9 973.7L1066.1 971.0L1066.4 968.3L1066.7 965.6L1067.0 962.9L1067.3 960.2L1067.6 957.4L1067.9 954.7L1068.1 952.0L1068.4 949.2L1068.7 946.5L1069.0 943.7L1069.3 941.0L1069.6 938.3L1069.9 935.6L1070.1 932.9L1070.4 930.3L1070.7 927.6L1071.0 925.0L1071.3 922.4L1071.6 919.8L1071.9 917.3L1072.1 914.8L1072.4 912.3L1072.7 909.9L1073.0 907.5L1073.3 905.2L1073.6 902.9L1073.9 900.6L1074.1 898.4L1074.4 896.3L1074.7 894.2L1075.0 892.1L1075.3 890.2L1075.6 888.2L1075.9 886.3L1076.1 884.5L1076.4 882.8L1076.7 881.1L1077.0 879.4L1077.3 877.9L1077.6 876.4L1077.9 874.9L1078.1 873.6L1078.4 872.2L1078.7 871.0L1079.0 869.8L1079.3 868.7L1079.6 869.6L1079.9 870.7L1080.1 872.0L1080.4 873.3L1080.7 874.6L1081.0 876.0L1081.3 877.5L1081.6 879.1L1081.8 880.7L1082.1 882.4L1082.4 884.1L1082.7 885.9L1083.0 887.8L1083.3 889.7L1083.6 891.7L1083.8 893.7L1084.1 895.8L1084.4 898.0L1084.7 900.1L1085.0 902.4L1085.3 904.7L1085.6 907.0L1085.8 909.4L1086.1 911.8L1086.4 914.3L1086.7 916.7L1087.0 919.3L1087.3 921.8L1087.6 924.4L1087.8 927.0L1088.1 929.7L1088.4 932.3L1088.7 935.0L1089.0 937.7L1089.3 940.4L1089.6 943.1L1089.8 945.9L1090.1 948.6L1090.4 951.3L1090.7 954.1L1091.0 956.8L1091.3 959.6L1091.6 962.3L1091.8 965.0L1092.1 967.7L1092.4 970.4L1092.7 973.1L1093.0 975.7L1093.3 978.4L1093.6 981.0L1093.8 983.6L1094.1 986.1L1094.4 988.6L1094.7 991.1L1095.0 993.6L1095.3 996.0L1095.6 998.3L1095.8 1000.6L1096.1 1002.9L1096.4 1005.1L1096.7 1007.3L1097.0 1009.5L1097.3 1011.5L1097.6 1013.6L1097.8 1015.5L1098.1 1017.4L1098.4 1019.3L1098.7 1021.1L1099.0 1022.8L1099.3 1024.5L1099.6 1026.1L1099.8 1027.6L1100.1 1029.1L1100.4 1030.5L1100.7 1031.8L1101.0 1033.1L1101.3 1034.3L1101.6 1035.5L1101.8 1035.8L1102.1 1034.7L1102.4 1033.5L1102.7 1032.2L1103.0 1030.9L1103.3 1029.5L1103.6 1028.1L1103.8 1026.5L1104.1 1025.0L1104.4 1023.3L1104.7 1021.6L1105.0 1019.8L1105.3 1018.0L1105.6 1016.1L1105.8 1014.2L1106.1 1012.2L1106.4 1010.1L1106.7 1008.0L1107.0 1005.8L1107.3 1003.6L1107.6 1001.3L1107.8 999.0L1108.1 996.7L1108.4 994.3L1108.7 991.9L1109.0 989.4L1109.3 986.9L1109.6 984.3L1109.8 981.8L1110.1 979.2L1110.4 976.5L1110.7 973.9L1111.0 971.2L1111.3 968.5L1111.6 965.8L1111.8 963.1L1112.1 960.4L1112.4 957.7L1112.7 954.9L1113.0 952.2L1113.3 949.4L1113.6 946.7L1113.8 944.0L1114.1 941.2L1114.4 938.5L1114.7 935.8L1115.0 933.1L1115.3 930.5L1115.6 927.8L1115.8 925.2L1116.1 922.6L1116.4 920.0L1116.7 917.5L1117.0 915.0L1117.3 912.5L1117.5 910.1L1117.8 907.7L1118.1 905.4L1118.4 903.1L1118.7 900.8L1119.0 898.6L1119.3 896.5L1119.5 894.4L1119.8 892.3L1120.1 890.3L1120.4 888.4L1120.7 886.5L1121.0 884.7L1121.3 882.9L1121.5 881.2L1121.8 879.6L1122.1 878.0L1122.4 876.5L1122.7 875.0L1123.0 873.7L1123.3 872.3L1123.5 871.1L1123.8 869.9L1124.1 868.8L1124.4 869.5L1124.7 870.6L1125.0 871.9L1125.3 873.1L1125.5 874.5L1125.8 875.9L1126.1 877.4L1126.4 879.0L1126.7 880.6L1127.0 882.2L1127.3 884.0L1127.5 885.8L1127.8 887.6L1128.1 889.6L1128.4 891.5L1128.7 893.6L1129.0 895.6L1129.3 897.8L1129.5 900.0L1129.8 902.2L1130.1 904.5L1130.4 906.8L1130.7 909.2L1131.0 911.6L1131.3 914.1L1131.5 916.5L1131.8 919.1L1132.1 921.6L1132.4 924.2L1132.7 926.8L1133.0 929.5L1133.3 932.1L1133.5 934.8L1133.8 937.5L1134.1 940.2L1134.4 942.9L1134.7 945.6L1135.0 948.4L1135.3 951.1L1135.5 953.9L1135.8 956.6L1136.1 959.3L1136.4 962.1L1136.7 964.8L1137.0 967.5L1137.3 970.2L1137.5 972.9L1137.8 975.5L1138.1 978.2L1138.4 980.8L1138.7 983.4L1139.0 985.9L1139.3 988.4L1139.5 990.9L1139.8 993.4L1140.1 995.8L1140.4 998.1L1140.7 1000.5L1141.0 1002.7L1141.3 1005.0L1141.5 1007.2L1141.8 1009.3L1142.1 1011.4L1142.4 1013.4L1142.7 1015.4L1143.0 1017.3L1143.3 1019.1L1143.5 1020.9L1143.8 1022.7L1144.1 1024.3L1144.4 1025.9L1144.7 1027.5L1145.0 1029.0L1145.3 1030.4L1145.5 1031.7L1145.8 1033.0L1146.1 1034.2L1146.4 1035.4L1146.7 1035.9L1147.0 1034.8L1147.3 1033.6L1147.5 1032.3L1147.8 1031.0L1148.1 1029.6L1148.4 1028.2L1148.7 1026.7L1149.0 1025.1L1149.3 1023.4L1149.5 1021.7L1149.8 1020.0L1150.1 1018.1L1150.4 1016.3L1150.7 1014.3L1151.0 1012.3L1151.3 1010.3L1151.5 1008.2L1151.8 1006.0L1152.1 1003.8L1152.4 1001.5L1152.7 999.2L1153.0 996.9L1153.2 994.5L1153.5 992.1L1153.8 989.6L1154.1 987.1L1154.4 984.5L1154.7 982.0L1155.0 979.4L1155.2 976.8L1155.5 974.1L1155.8 971.4L1156.1 968.8L1156.4 966.1L1156.7 963.3L1157.0 960.6L1157.2 957.9L1157.5 955.1L1157.8 952.4L1158.1 949.7L1158.4 946.9L1158.7 944.2L1159.0 941.5L1159.2 938.7L1159.5 936.0L1159.8 933.3L1160.1 930.7L1160.4 928.0L1160.7 925.4L1161.0 922.8L1161.2 920.2L1161.5 917.7L1161.8 915.2L1162.1 912.7L1162.4 910.3L1162.7 907.9L1163.0 905.6L1163.2 903.3L1163.5 901.0L1163.8 898.8L1164.1 896.6L1164.4 894.5L1164.7 892.5L1165.0 890.5L1165.2 888.5L1165.5 886.6L1165.8 884.8L1166.1 883.0L1166.4 881.3L1166.7 879.7L1167.0 878.1L1167.2 876.6L1167.5 875.2L1167.8 873.8L1168.1 872.5L1168.4 871.2L1168.7 870.0L1169.0 868.9L1169.2 869.4L1169.5 870.5L1169.8 871.8L1170.1 873.0L1170.4 874.4L1170.7 875.8L1171.0 877.3L1171.2 878.8L1171.5 880.4L1171.8 882.1L1172.1 883.8L1172.4 885.6L1172.7 887.5L1173.0 889.4L1173.2 891.4L1173.5 893.4L1173.8 895.5L1174.1 897.6L1174.4 899.8L1174.7 902.0L1175.0 904.3L1175.2 906.6L1175.5 909.0L1175.8 911.4L1176.1 913.9L1176.4 916.3L1176.7 918.9L1177.0 921.4L1177.2 924.0L1177.5 926.6L1177.8 929.2L1178.1 931.9L1178.4 934.6L1178.7 937.3L1179.0 940.0L1179.2 942.7L1179.5 945.4L1179.8 948.2L1180.1 950.9L1180.4 953.6L1180.7 956.4L1181.0 959.1L1181.2 961.9L1181.5 964.6L1181.8 967.3L1182.1 970.0L1182.4 972.7L1182.7 975.3L1183.0 978.0L1183.2 980.6L1183.5 983.1L1183.8 985.7L1184.1 988.2L1184.4 990.7L1184.7 993.2L1185.0 995.6L1185.2 997.9L1185.5 1000.3L1185.8 1002.6L1186.1 1004.8L1186.4 1007.0L1186.7 1009.1L1187.0 1011.2L1187.2 1013.2L1187.5 1015.2L1187.8 1017.1L1188.1 1019.0L1188.4 1020.8L1188.7 1022.5L1188.9 1024.2L1189.2 1025.8L1189.5 1027.4L1189.8 1028.8L1190.1 1030.3L1190.4 1031.6L1190.7 1032.9L1190.9 1034.1L1191.2 1035.3L1191.5 1036.0L1191.8 1034.9L1192.1 1033.7L1192.4 1032.4L1192.7 1031.1L1192.9 1029.7L1193.2 1028.3L1193.5 1026.8L1193.8 1025.2L1194.1 1023.6L1194.4 1021.9L1194.7 1020.1L1194.9 1018.3L1195.2 1016.4L1195.5 1014.5L1195.8 1012.5L1196.1 1010.4L1196.4 1008.3L1196.7 1006.2L1196.9 1004.0L1197.2 1001.7L1197.5 999.4L1197.8 997.1L1198.1 994.7L1198.4 992.2L1198.7 989.8L1198.9 987.3L1199.2 984.7L1199.5 982.2L1199.8 979.6L1200.1 977.0L1200.4 974.3L1200.7 971.7L1200.9 969.0L1201.2 966.3L1201.5 963.6L1201.8 960.8L1202.1 958.1L1202.4 955.4L1202.7 952.6L1202.9 949.9L1203.2 947.1L1203.5 944.4L1203.8 941.7L1204.1 939.0L1204.4 936.2L1204.7 933.6L1204.9 930.9L1205.2 928.2L1205.5 925.6L1205.8 923.0L1206.1 920.4L1206.4 917.9L1206.7 915.4L1206.9 912.9L1207.2 910.5L1207.5 908.1L1207.8 905.8L1208.1 903.4L1208.4 901.2L1208.7 899.0L1208.9 896.8L1209.2 894.7L1209.5 892.6L1209.8 890.6L1210.1 888.7L1210.4 886.8L1210.7 885.0L1210.9 883.2L1211.2 881.5L1211.5 879.8L1211.8 878.2L1212.1 876.7L1212.4 875.3L1212.7 873.9L1212.9 872.6L1213.2 871.3L1213.5 870.1L1213.8 869.0L1214.1 869.3L1214.4 870.5L1214.7 871.7L1214.9 872.9L1215.2 874.3L1215.5 875.7L1215.8 877.2L1216.1 878.7L1216.4 880.3L1216.7 882.0L1216.9 883.7L1217.2 885.5L1217.5 887.3L1217.8 889.3L1218.1 891.2L1218.4 893.2L1218.7 895.3L1218.9 897.4L1219.2 899.6L1219.5 901.8L1219.8 904.1L1220.1 906.4L1220.4 908.8L1220.7 911.2L1220.9 913.7L1221.2 916.1L1221.5 918.7L1221.8 921.2L1222.1 923.8L1222.4 926.4L1222.7 929.0L1222.9 931.7L1223.2 934.4L1223.5 937.1L1223.8 939.8L1224.1 942.5L1224.4 945.2L1224.6 947.9L1224.9 950.7L1225.2 953.4L1225.5 956.2L1225.8 958.9L1226.1 961.6L1226.4 964.4L1226.6 967.1L1226.9 969.8L1227.2 972.4L1227.5 975.1L1227.8 977.7L1228.1 980.4L1228.4 982.9L1228.6 985.5L1228.9 988.0L1229.2 990.5L1229.5 993.0L1229.8 995.4L1230.1 997.8L1230.4 1000.1L1230.6 1002.4L1230.9 1004.6L1231.2 1006.8L1231.5 1009.0L1231.8 1011.0L1232.1 1013.1L1232.4 1015.1L1232.6 1017.0L1232.9 1018.8L1233.2 1020.6L1233.5 1022.4L1233.8 1024.1L1234.1 1025.7L1234.4 1027.2L1234.6 1028.7L1234.9 1030.2L1235.2 1031.5L1235.5 1032.8L1235.8 1034.0L1236.1 1035.2L1236.4 1036.1L1236.6 1035.0L1236.9 1033.8L1237.2 1032.5L1237.5 1031.2L1237.8 1029.9L1238.1 1028.4L1238.4 1026.9L1238.6 1025.3L1238.9 1023.7L1239.2 1022.0L1239.5 1020.3L1239.8 1018.4L1240.1 1016.6L1240.4 1014.6L1240.6 1012.6L1240.9 1010.6L1241.2 1008.5L1241.5 1006.3L1241.8 1004.1L1242.1 1001.9L1242.4 999.6L1242.6 997.2L1242.9 994.9L1243.2 992.4L1243.5 990.0L1243.8 987.5L1244.1 984.9L1244.4 982.4L1244.6 979.8L1244.9 977.2L1245.2 974.5L1245.5 971.9L1245.8 969.2L1246.1 966.5L1246.4 963.8L1246.6 961.0L1246.9 958.3L1247.2 955.6L1247.5 952.8L1247.8 950.1L1248.1 947.3L1248.4 944.6L1248.6 941.9L1248.9 939.2L1249.2 936.5L1249.5 933.8L1249.8 931.1L1250.1 928.5L1250.4 925.8L1250.6 923.2L1250.9 920.7L1251.2 918.1L1251.5 915.6L1251.8 913.1L1252.1 910.7L1252.4 908.3L1252.6 905.9L1252.9 903.6L1253.2 901.4L1253.5 899.1L1253.8 897.0L1254.1 894.9L1254.4 892.8L1254.6 890.8L1254.9 888.8L1255.2 886.9L1255.5 885.1L1255.8 883.3L1256.1 881.6L1256.4 880.0L1256.6 878.4L1256.9 876.8L1257.2 875.4L1257.5 874.0L1257.8 872.7L1258.1 871.4L1258.4 870.2L1258.6 869.1L1258.9 869.2L1259.2 870.4L1259.5 871.6L1259.8 872.8L1260.1 874.2L1260.3 875.6L1260.6 877.0L1260.9 878.6L1261.2 880.2L1261.5 881.8L1261.8 883.6L1262.1 885.3L1262.3 887.2L1262.6 889.1L1262.9 891.1L1263.2 893.1L1263.5 895.1L1263.8 897.3L1264.1 899.4L1264.3 901.7L1264.6 903.9L1264.9 906.3L1265.2 908.6L1265.5 911.0L1265.8 913.5L1266.1 915.9L1266.3 918.5L1266.6 921.0L1266.9 923.6L1267.2 926.2L1267.5 928.8L1267.8 931.5L1268.1 934.1L1268.3 936.8L1268.6 939.5L1268.9 942.3L1269.2 945.0L1269.5 947.7L1269.8 950.5L1270.1 953.2L1270.3 956.0L1270.6 958.7L1270.9 961.4L1271.2 964.1L1271.5 966.9L1271.8 969.6L1272.1 972.2L1272.3 974.9L1272.6 977.5L1272.9 980.2L1273.2 982.7L1273.5 985.3L1273.8 987.8L1274.1 990.3L1274.3 992.8L1274.6 995.2L1274.9 997.6L1275.2 999.9L1275.5 1002.2L1275.8 1004.4L1276.1 1006.6L1276.3 1008.8L1276.6 1010.9L1276.9 1012.9L1277.2 1014.9L1277.5 1016.8L1277.8 1018.7L1278.1 1020.5L1278.3 1022.3L1278.6 1023.9L1278.9 1025.6L1279.2 1027.1L1279.5 1028.6L1279.8 1030.0L1280.1 1031.4L1280.3 1032.7L1280.6 1033.9L1280.9 1035.1L1281.2 1036.1L1281.5 1035.0L1281.8 1033.9L1282.1 1032.6L1282.3 1031.3L1282.6 1030.0L1282.9 1028.5L1283.2 1027.0L1283.5 1025.5L1283.8 1023.8L1284.1 1022.2L1284.3 1020.4L1284.6 1018.6L1284.9 1016.7L1285.2 1014.8L1285.5 1012.8L1285.8 1010.8L1286.1 1008.7L1286.3 1006.5L1286.6 1004.3L1286.9 1002.1L1287.2 999.8L1287.5 997.4L1287.8 995.1L1288.1 992.6L1288.3 990.2L1288.6 987.7L1288.9 985.2L1289.2 982.6L1289.5 980.0L1289.8 977.4L1290.1 974.7L1290.3 972.1L1290.6 969.4L1290.9 966.7L1291.2 964.0L1291.5 961.3L1291.8 958.5L1292.1 955.8L1292.3 953.0L1292.6 950.3L1292.9 947.6L1293.2 944.8L1293.5 942.1L1293.8 939.4L1294.1 936.7L1294.3 934.0L1294.6 931.3L1294.9 928.7L1295.2 926.0L1295.5 923.4L1295.8 920.9L1296.0 918.3L1296.3 915.8L1296.6 913.3L1296.9 910.9L1297.2 908.5L1297.5 906.1L1297.8 903.8L1298.0 901.5L1298.3 899.3L1298.6 897.1L1298.9 895.0L1299.2 893.0L1299.5 890.9L1299.8 889.0L1300.0 887.1L1300.3 885.2L1300.6 883.5L1300.9 881.7L1301.2 880.1L1301.5 878.5L1301.8 877.0L1302.0 875.5L1302.3 874.1L1302.6 872.8L1302.9 871.5L1303.2 870.3L1303.5 869.2L1303.8 869.1L1304.0 870.3L1304.3 871.5L1304.6 872.7L1304.9 874.1L1305.2 875.5L1305.5 876.9L1305.8 878.5L1306.0 880.1L1306.3 881.7L1306.6 883.4L1306.9 885.2L1307.2 887.0L1307.5 888.9L1307.8 890.9L1308.0 892.9L1308.3 895.0L1308.6 897.1L1308.9 899.3L1309.2 901.5L1309.5 903.8L1309.8 906.1L1310.0 908.4L1310.3 910.8L1310.6 913.3L1310.9 915.7L1311.2 918.3L1311.5 920.8L1311.8 923.4L1312.0 926.0L1312.3 928.6L1312.6 931.3L1312.9 933.9L1313.2 936.6L1313.5 939.3L1313.8 942.0L1314.0 944.8L1314.3 947.5L1314.6 950.2L1314.9 953.0L1315.2 955.7L1315.5 958.5L1315.8 961.2L1316.0 963.9L1316.3 966.6L1316.6 969.3L1316.9 972.0L1317.2 974.7L1317.5 977.3L1317.8 979.9L1318.0 982.5L1318.3 985.1L1318.6 987.6L1318.9 990.1L1319.2 992.6L1319.5 995.0L1319.8 997.4L1320.0 999.7L1320.3 1002.0L1320.6 1004.3L1320.9 1006.5L1321.2 1008.6L1321.5 1010.7L1321.8 1012.8L1322.0 1014.7L1322.3 1016.7L1322.6 1018.5L1322.9 1020.4L1323.2 1022.1L1323.5 1023.8L1323.8 1025.4L1324.0 1027.0L1324.3 1028.5L1324.6 1029.9L1324.9 1031.3L1325.2 1032.6L1325.5 1033.8L1325.8 1035.0L1326.0 1036.1L1326.3 1035.1L1326.6 1034.0L1326.9 1032.7L1327.2 1031.4L1327.5 1030.1L1327.8 1028.6L1328.0 1027.2L1328.3 1025.6L1328.6 1024.0L1328.9 1022.3L1329.2 1020.5L1329.5 1018.7L1329.8 1016.9L1330.0 1014.9L1330.3 1013.0L1330.6 1010.9L1330.9 1008.8L1331.2 1006.7L1331.5 1004.5L1331.7 1002.2L1332.0 1000.0L1332.3 997.6L1332.6 995.2L1332.9 992.8L1333.2 990.4L1333.5 987.9L1333.7 985.4L1334.0 982.8L1334.3 980.2L1334.6 977.6L1334.9 975.0L1335.2 972.3L1335.5 969.6L1335.7 966.9L1336.0 964.2L1336.3 961.5L1336.6 958.7L1336.9 956.0L1337.2 953.3L1337.5 950.5L1337.7 947.8L1338.0 945.0L1338.3 942.3L1338.6 939.6L1338.9 936.9L1339.2 934.2L1339.5 931.5L1339.7 928.9L1340.0 926.2L1340.3 923.6L1340.6 921.1L1340.9 918.5L1341.2 916.0L1341.5 913.5L1341.7 911.1L1342.0 908.7L1342.3 906.3L1342.6 904.0L1342.9 901.7L1343.2 899.5L1343.5 897.3L1343.7 895.2L1344.0 893.1L1344.3 891.1L1344.6 889.1L1344.9 887.2L1345.2 885.4L1345.5 883.6L1345.7 881.9L1346.0 880.2L1346.3 878.6L1346.6 877.1L1346.9 875.6L1347.2 874.2L1347.5 872.9L1347.7 871.6L1348.0 870.4L1348.3 869.2L1348.6 869.0L1348.9 870.2L1349.2 871.4L1349.5 872.6L1349.7 874.0L1350.0 875.3L1350.3 876.8L1350.6 878.3L1350.9 879.9L1351.2 881.6L1351.5 883.3L1351.7 885.1L1352.0 886.9L1352.3 888.8L1352.6 890.7L1352.9 892.8L1353.2 894.8L1353.5 896.9L1353.7 899.1L1354.0 901.3L1354.3 903.6L1354.6 905.9L1354.9 908.2L1355.2 910.6L1355.5 913.1L1355.7 915.5L1356.0 918.1L1356.3 920.6L1356.6 923.2L1356.9 925.8L1357.2 928.4L1357.5 931.0L1357.7 933.7L1358.0 936.4L1358.3 939.1L1358.6 941.8L1358.9 944.6L1359.2 947.3L1359.5 950.0L1359.7 952.8L1360.0 955.5L1360.3 958.3L1360.6 961.0L1360.9 963.7L1361.2 966.4L1361.5 969.1L1361.7 971.8L1362.0 974.5L1362.3 977.1L1362.6 979.7L1362.9 982.3L1363.2 984.9L1363.5 987.4L1363.7 989.9L1364.0 992.4L1364.3 994.8L1364.6 997.2L1364.9 999.5L1365.2 1001.8L1365.5 1004.1L1365.7 1006.3L1366.0 1008.4L1366.3 1010.5L1366.6 1012.6L1366.9 1014.6L1367.2 1016.5L1367.4 1018.4L1367.7 1020.2L1368.0 1022.0L1368.3 1023.7L1368.6 1025.3L1368.9 1026.9L1369.2 1028.4L1369.4 1029.8L1369.7 1031.2L1370.0 1032.5L1370.3 1033.8L1370.6 1034.9L1370.9 1036.0L1371.2 1035.2L1371.4 1034.1L1371.7 1032.8L1372.0 1031.5L1372.3 1030.2L1372.6 1028.8L1372.9 1027.3L1373.2 1025.7L1373.4 1024.1L1373.7 1022.4L1374.0 1020.7L1374.3 1018.9L1374.6 1017.0L1374.9 1015.1L1375.2 1013.1L1375.4 1011.1L1375.7 1009.0L1376.0 1006.9L1376.3 1004.7L1376.6 1002.4L1376.9 1000.1L1377.2 997.8L1377.4 995.4L1377.7 993.0L1378.0 990.6L1378.3 988.1L1378.6 985.6L1378.9 983.0L1379.2 980.4L1379.4 977.8L1379.7 975.2L1380.0 972.5L1380.3 969.8L1380.6 967.1L1380.9 964.4L1381.2 961.7L1381.4 959.0L1381.7 956.2L1382.0 953.5L1382.3 950.7L1382.6 948.0L1382.9 945.3L1383.2 942.5L1383.4 939.8L1383.7 937.1L1384.0 934.4L1384.3 931.7L1384.6 929.1L1384.9 926.5L1385.2 923.8L1385.4 921.3L1385.7 918.7L1386.0 916.2L1386.3 913.7L1386.6 911.3L1386.9 908.9L1387.2 906.5L1387.4 904.2L1387.7 901.9L1388.0 899.7L1388.3 897.5L1388.6 895.4L1388.9 893.3L1389.2 891.3L1389.4 889.3L1389.7 887.4L1390.0 885.5L1390.3 883.7L1390.6 882.0L1390.9 880.3L1391.2 878.7L1391.4 877.2L1391.7 875.7L1392.0 874.3L1392.3 873.0L1392.6 871.7L1392.9 870.5L1393.2 869.3L1393.4 869.0L1393.7 870.1L1394.0 871.3L1394.3 872.5L1394.6 873.8L1394.9 875.2L1395.2 876.7L1395.4 878.2L1395.7 879.8L1396.0 881.4L1396.3 883.1L1396.6 884.9L1396.9 886.7L1397.2 888.6L1397.4 890.6L1397.7 892.6L1398.0 894.6L1398.3 896.8L1398.6 898.9L1398.9 901.1L1399.2 903.4L1399.4 905.7L1399.7 908.1L1400.0 910.4L1400.3 912.9L1400.6 915.3L1400.9 917.9L1401.2 920.4L1401.4 923.0L1401.7 925.6L1402.0 928.2L1402.3 930.8L1402.6 933.5L1402.9 936.2L1403.1 938.9L1403.4 941.6L1403.7 944.3L1404.0 947.1L1404.3 949.8L1404.6 952.6L1404.9 955.3L1405.1 958.0L1405.4 960.8L1405.7 963.5L1406.0 966.2L1406.3 968.9L1406.6 971.6L1406.9 974.3L1407.1 976.9L1407.4 979.5L1407.7 982.1L1408.0 984.7L1408.3 987.2L1408.6 989.7L1408.9 992.2L1409.1 994.6L1409.4 997.0L1409.7 999.4L1410.0 1001.7L1410.3 1003.9L1410.6 1006.1L1410.9 1008.3L1411.1 1010.4L1411.4 1012.4L1411.7 1014.4L1412.0 1016.4L1412.3 1018.3L1412.6 1020.1L1412.9 1021.8L1413.1 1023.5L1413.4 1025.2L1413.7 1026.8L1414.0 1028.3L1414.3 1029.7L1414.6 1031.1L1414.9 1032.4L1415.1 1033.7L1415.4 1034.8L1415.7 1036.0L1416.0 1035.3L1416.3 1034.2L1416.6 1032.9L1416.9 1031.7L1417.1 1030.3L1417.4 1028.9L1417.7 1027.4L1418.0 1025.8L1418.3 1024.2L1418.6 1022.6L1418.9 1020.8L1419.1 1019.0L1419.4 1017.2L1419.7 1015.3L1420.0 1013.3L1420.3 1011.2L1420.6 1009.2L1420.9 1007.0L1421.1 1004.8L1421.4 1002.6L1421.7 1000.3L1422.0 998.0L1422.3 995.6L1422.6 993.2L1422.9 990.8L1423.1 988.3L1423.4 985.8L1423.7 983.2L1424.0 980.6L1424.3 978.0L1424.6 975.4L1424.9 972.7L1425.1 970.0L1425.4 967.3L1425.7 964.6L1426.0 961.9L1426.3 959.2L1426.6 956.4L1426.9 953.7L1427.1 951.0L1427.4 948.2L1427.7 945.5L1428.0 942.8L1428.3 940.0L1428.6 937.3L1428.9 934.6L1429.1 932.0L1429.4 929.3L1429.7 926.7L1430.0 924.1L1430.3 921.5L1430.6 918.9L1430.9 916.4L1431.1 913.9L1431.4 911.5L1431.7 909.1L1432.0 906.7L1432.3 904.4L1432.6 902.1L1432.9 899.8L1433.1 897.7L1433.4 895.5L1433.7 893.4L1434.0 891.4L1434.3 889.4L1434.6 887.5L1434.9 885.7L1435.1 883.9L1435.4 882.1L1435.7 880.5L1436.0 878.9L1436.3 877.3L1436.6 875.8L1436.9 874.4L1437.1 873.1L1437.4 871.8L1437.7 870.6L1438.0 869.4L1438.3 868.9L1438.6 870.0L1438.8 871.2L1439.1 872.4L1439.4 873.7L1439.7 875.1L1440.0 876.6L1440.3 878.1L1440.6 879.7L1440.8 881.3L1441.1 883.0L1441.4 884.8L1441.7 886.6L1442.0 888.5L1442.3 890.4L1442.6 892.4L1442.8 894.5L1443.1 896.6L1443.4 898.7L1443.7 901.0L1444.0 903.2L1444.3 905.5L1444.6 907.9L1444.8 910.3L1445.1 912.7L1445.4 915.2L1445.7 917.7L1446.0 920.2L1446.3 922.8L1446.6 925.4L1446.8 928.0L1447.1 930.6L1447.4 933.3L1447.7 936.0L1448.0 938.7L1448.3 941.4L1448.6 944.1L1448.8 946.9L1449.1 949.6L1449.4 952.3L1449.7 955.1L1450.0 957.8L1450.3 960.6L1450.6 963.3L1450.8 966.0L1451.1 968.7L1451.4 971.4L1451.7 974.0L1452.0 976.7L1452.3 979.3L1452.6 981.9L1452.8 984.5L1453.1 987.0L1453.4 989.5L1453.7 992.0L1454.0 994.4L1454.3 996.8L1454.6 999.2L1454.8 1001.5L1455.1 1003.7L1455.4 1005.9L1455.7 1008.1L1456.0 1010.2L1456.3 1012.3L1456.6 1014.3L1456.8 1016.2L1457.1 1018.1L1457.4 1019.9L1457.7 1021.7L1458.0 1023.4L1458.3 1025.1L1458.6 1026.6L1458.8 1028.1L1459.1 1029.6L1459.4 1031.0L1459.7 1032.3L1460.0 1033.6L1460.3 1034.7L1460.6 1035.9L1460.8 1035.4L1461.1 1034.3L1461.4 1033.0L1461.7 1031.8L1462.0 1030.4L1462.3 1029.0L1462.6 1027.5L1462.8 1026.0L1463.1 1024.4L1463.4 1022.7L1463.7 1021.0L1464.0 1019.2L1464.3 1017.3L1464.6 1015.4L1464.8 1013.4L1465.1 1011.4L1465.4 1009.3L1465.7 1007.2L1466.0 1005.0L1466.3 1002.8L1466.6 1000.5L1466.8 998.2L1467.1 995.8L1467.4 993.4L1467.7 991.0L1468.0 988.5L1468.3 986.0L1468.6 983.4L1468.8 980.8L1469.1 978.2L1469.4 975.6L1469.7 972.9L1470.0 970.3L1470.3 967.6L1470.6 964.9L1470.8 962.1L1471.1 959.4L1471.4 956.7L1471.7 953.9L1472.0 951.2L1472.3 948.4L1472.6 945.7L1472.8 943.0L1473.1 940.2L1473.4 937.5L1473.7 934.8L1474.0 932.2L1474.3 929.5L1474.5 926.9L1474.8 924.3L1475.1 921.7L1475.4 919.1L1475.7 916.6L1476.0 914.1L1476.3 911.7L1476.5 909.2L1476.8 906.9L1477.1 904.5L1477.4 902.3L1477.7 900.0L1478.0 897.8L1478.3 895.7L1478.5 893.6L1478.8 891.6L1479.1 889.6L1479.4 887.7L1479.7 885.8L1480.0 884.0L1480.3 882.3L1480.5 880.6L1480.8 879.0L1481.1 877.4L1481.4 876.0L1481.7 874.5L1482.0 873.2L1482.3 871.9L1482.5 870.7L1482.8 869.5L1483.1 868.8L1483.4 869.9L1483.7 871.1L1484.0 872.3L1484.3 873.6L1484.5 875.0L1484.8 876.5L1485.1 878.0L1485.4 879.5L1485.7 881.2L1486.0 882.9L1486.3 884.6L1486.5 886.5L1486.8 888.3L1487.1 890.3L1487.4 892.3L1487.7 894.3L1488.0 896.4L1488.3 898.6L1488.5 900.8L1488.8 903.0L1489.1 905.3L1489.4 907.7L1489.7 910.1L1490.0 912.5L1490.3 915.0L1490.5 917.5L1490.8 920.0L1491.1 922.6L1491.4 925.1L1491.7 927.8L1492.0 930.4L1492.3 933.1L1492.5 935.8L1492.8 938.5L1493.1 941.2L1493.4 943.9L1493.7 946.6L1494.0 949.4L1494.3 952.1L1494.5 954.9L1494.8 957.6L1495.1 960.3L1495.4 963.1L1495.7 965.8L1496.0 968.5L1496.3 971.2L1496.5 973.8L1496.8 976.5L1497.1 979.1L1497.4 981.7L1497.7 984.3L1498.0 986.8L1498.3 989.3L1498.5 991.8L1498.8 994.2L1499.1 996.6L1499.4 999.0L1499.7 1001.3L1500.0 1003.6L1500.3 1005.8L1500.5 1007.9L1500.8 1010.0L1501.1 1012.1L1501.4 1014.1L1501.7 1016.1L1502.0 1018.0L1502.3 1019.8L1502.5 1021.6L1502.8 1023.3L1503.1 1024.9L1503.4 1026.5L1503.7 1028.0L1504.0 1029.5L1504.3 1030.9L1504.5 1032.2L1504.8 1033.5L1505.1 1034.7L1505.4 1035.8L1505.7 1035.5L1506.0 1034.3L1506.3 1033.1L1506.5 1031.9L1506.8 1030.5L1507.1 1029.1L1507.4 1027.6L1507.7 1026.1L1508.0 1024.5L1508.3 1022.8L1508.5 1021.1L1508.8 1019.3L1509.1 1017.5L1509.4 1015.6L1509.7 1013.6L1510.0 1011.6L1510.2 1009.5L1510.5 1007.4L1510.8 1005.2L1511.1 1003.0L1511.4 1000.7L1511.7 998.4L1512.0 996.0L1512.2 993.6L1512.5 991.2L1512.8 988.7L1513.1 986.2L1513.4 983.6L1513.7 981.0L1514.0 978.4L1514.2 975.8L1514.5 973.1L1514.8 970.5L1515.1 967.8L1515.4 965.1L1515.7 962.3L1516.0 959.6L1516.2 956.9L1516.5 954.1L1516.8 951.4L1517.1 948.7L1517.4 945.9L1517.7 943.2L1518.0 940.5L1518.2 937.8L1518.5 935.1L1518.8 932.4L1519.1 929.7L1519.4 927.1L1519.7 924.5L1520.0 921.9L1520.2 919.3L1520.5 916.8L1520.8 914.3L1521.1 911.8L1521.4 909.4L1521.7 907.1L1522.0 904.7L1522.2 902.4L1522.5 900.2L1522.8 898.0L1523.1 895.9L1523.4 893.8L1523.7 891.7L1524.0 889.8L1524.2 887.8L1524.5 886.0L1524.8 884.2L1525.1 882.4L1525.4 880.7L1525.7 879.1L1526.0 877.6L1526.2 876.1L1526.5 874.6L1526.8 873.3L1527.1 872.0L1527.4 870.8L1527.7 869.6L1528.0 868.7L1528.2 869.8L1528.5 871.0L1528.8 872.2L1529.1 873.5L1529.4 874.9L1529.7 876.3L1530.0 877.8L1530.2 879.4L1530.5 881.0L1530.8 882.7L1531.1 884.5L1531.4 886.3L1531.7 888.2L1532.0 890.1L1532.2 892.1L1532.5 894.2L1532.8 896.2L1533.1 898.4L1533.4 900.6L1533.7 902.9L1534.0 905.1L1534.2 907.5L1534.5 909.9L1534.8 912.3L1535.1 914.8L1535.4 917.3L1535.7 919.8L1536.0 922.3L1536.2 924.9L1536.5 927.6L1536.8 930.2L1537.1 932.9L1537.4 935.5L1537.7 938.2L1538.0 941.0L1538.2 943.7L1538.5 946.4L1538.8 949.2L1539.1 951.9L1539.4 954.6L1539.7 957.4L1540.0 960.1L1540.2 962.8L1540.5 965.6L1540.8 968.3L1541.1 971.0L1541.4 973.6L1541.7 976.3L1542.0 978.9L1542.2 981.5L1542.5 984.1L1542.8 986.6L1543.1 989.1L1543.4 991.6L1543.7 994.0L1544.0 996.4L1544.2 998.8L1544.5 1001.1L1544.8 1003.4L1545.1 1005.6L1545.4 1007.8L1545.7 1009.9L1545.9 1011.9L1546.2 1014.0L1546.5 1015.9L1546.8 1017.8L1547.1 1019.6L1547.4 1021.4L1547.7 1023.1L1547.9 1024.8L1548.2 1026.4L1548.5 1027.9L1548.8 1029.4L1549.1 1030.8L1549.4 1032.1L1549.7 1033.4L1549.9 1034.6L1550.2 1035.7L1550.5 1035.6L1550.8 1034.4L1551.1 1033.2L1551.4 1032.0L1551.7 1030.6L1551.9 1029.2L1552.2 1027.8L1552.5 1026.2L1552.8 1024.6L1553.1 1023.0L1553.4 1021.2L1553.7 1019.5L1553.9 1017.6L1554.2 1015.7L1554.5 1013.8L1554.8 1011.7L1555.1 1009.7L1555.4 1007.5L1555.7 1005.4L1555.9 1003.1L1556.2 1000.9L1556.5 998.6L1556.8 996.2L1557.1 993.8L1557.4 991.4L1557.7 988.9L1557.9 986.4L1558.2 983.8L1558.5 981.2L1558.8 978.6L1559.1 976.0L1559.4 973.4L1559.7 970.7L1559.9 968.0L1560.2 965.3L1560.5 962.6L1560.8 959.8L1561.1 957.1L1561.4 954.4L1561.7 951.6L1561.9 948.9L1562.2 946.1L1562.5 943.4L1562.8 940.7L1563.1 938.0L1563.4 935.3L1563.7 932.6L1563.9 929.9L1564.2 927.3L1564.5 924.7L1564.8 922.1L1565.1 919.5L1565.4 917.0L1565.7 914.5L1565.9 912.0L1566.2 909.6L1566.5 907.2L1566.8 904.9L1567.1 902.6L1567.4 900.4L1567.7 898.2L1567.9 896.0L1568.2 893.9L1568.5 891.9L1568.8 889.9L1569.1 888.0L1569.4 886.1L1569.7 884.3L1569.9 882.6L1570.2 880.9L1570.5 879.2L1570.8 877.7L1571.1 876.2L1571.4 874.8L1571.7 873.4L1571.9 872.1L1572.2 870.9L1572.5 869.7L1572.8 868.6L1573.1 869.7L1573.4 870.9L1573.7 872.1L1573.9 873.4L1574.2 874.8L1574.5 876.2L1574.8 877.7L1575.1 879.3L1575.4 880.9L1575.7 882.6L1575.9 884.3L1576.2 886.2L1576.5 888.0L1576.8 890.0L1577.1 891.9L1577.4 894.0L1577.7 896.1L1577.9 898.2L1578.2 900.4L1578.5 902.7L1578.8 905.0L1579.1 907.3L1579.4 909.7L1579.7 912.1L1579.9 914.6L1580.2 917.1L1580.5 919.6L1580.8 922.1L1581.1 924.7L1581.4 927.3L1581.6 930.0L1581.9 932.7L1582.2 935.3L1582.5 938.0L1582.8 940.7L1583.1 943.5L1583.4 946.2L1583.6 948.9L1583.9 951.7L1584.2 954.4L1584.5 957.2L1584.8 959.9L1585.1 962.6L1585.4 965.3L1585.6 968.1L1585.9 970.7L1586.2 973.4L1586.5 976.1L1586.8 978.7L1587.1 981.3L1587.4 983.9L1587.6 986.4L1587.9 988.9L1588.2 991.4L1588.5 993.9L1588.8 996.3L1589.1 998.6L1589.4 1000.9L1589.6 1003.2L1589.9 1005.4L1590.2 1007.6L1590.5 1009.7L1590.8 1011.8L1591.1 1013.8L1591.4 1015.8L1591.6 1017.7L1591.9 1019.5L1592.2 1021.3L1592.5 1023.0L1592.8 1024.7L1593.1 1026.3L1593.4 1027.8L1593.6 1029.3L1593.9 1030.7L1594.2 1032.0L1594.5 1033.3L1594.8 1034.5L1595.1 1035.6L1595.4 1035.7L1595.6 1034.5L1595.9 1033.3L1596.2 1032.1L1596.5 1030.7L1596.8 1029.3L1597.1 1027.9L1597.4 1026.3L1597.6 1024.8L1597.9 1023.1L1598.2 1021.4L1598.5 1019.6" stroke="#ff0000" stroke-width="10"/>
<path d="M170.5 952.4L170.8 951.1L171.1 949.8L171.4 948.5L171.6 947.3L171.9 946.1L172.2 945.0L172.5 943.9L172.8 942.8L173.1 941.8L173.4 940.8L173.6 939.9L173.9 939.0L174.2 938.2L174.5 937.4L174.8 936.6L175.1 935.8L175.4 935.1L175.6 934.4L175.9 933.7L176.2 933.0L176.5 932.4L176.8 931.8L177.1 931.3L177.4 930.9L177.6 930.5L177.9 930.2L178.2 929.8L178.5 929.5L178.8 929.2L179.1 928.9L179.4 928.7L179.6 928.6L179.9 928.6L180.2 928.7L180.5 928.9L180.8 929.1L181.1 929.4L181.4 929.7L181.6 930.1L181.9 930.5L182.2 931.0L182.5 931.5L182.8 932.0L183.1 932.5L183.4 933.1L183.6 933.6L183.9 934.3L184.2 935.2L184.5 936.3L184.8 937.6L185.1 939.0L185.4 940.5L185.6 942.0L185.9 943.5L186.2 945.1L186.5 946.6L186.8 948.0L187.1 949.3L187.4 950.5L187.6 951.5L187.9 952.2L188.2 952.8L188.5 953.4L188.8 953.9L189.1 954.4L189.3 954.9L189.6 955.3L189.9 955.7L190.2 956.1L190.5 956.5L190.8 956.9L191.1 957.2L191.3 957.5L191.6 957.9L191.9 958.2L192.2 958.5L192.5 958.8L192.8 959.1L193.1 959.4L193.3 959.6L193.6 959.9L193.9 960.2L194.2 960.5L194.5 960.8L194.8 961.1L195.1 961.4L195.3 961.7L195.6 962.0L195.9 962.3L196.2 962.5L196.5 962.8L196.8 963.0L197.1 963.2L197.3 963.4L197.6 963.7L197.9 963.9L198.2 964.1L198.5 964.4L198.8 964.6L199.1 964.9L199.3 965.1L199.6 965.4L199.9 965.7L200.2 966.1L200.5 966.4L200.8 966.8L201.1 967.2L201.3 967.6L201.6 968.3L201.9 969.2L202.2 970.1L202.5 971.2L202.8 972.2L203.1 973.1L203.3 973.9L203.6 974.5L203.9 974.9L204.2 974.9L204.5 974.5L204.8 973.8L205.1 972.9L205.3 971.8L205.6 970.5L205.9 969.2L206.2 967.9L206.5 966.6L206.8 965.4L207.1 964.4L207.3 963.3L207.6 962.1L207.9 960.9L208.2 959.7L208.5 958.6L208.8 957.6L209.1 956.8L209.3 956.2L209.6 955.9L209.9 955.6L210.2 955.3L210.5 955.1L210.8 954.8L211.1 954.7L211.3 954.5L211.6 954.3L211.9 954.2L212.2 954.1L212.5 953.9L212.8 953.8L213.1 953.6L213.3 953.5L213.6 953.3L213.9 953.1L214.2 952.9L214.5 952.7L214.8 952.4L215.1 952.0L215.3 951.5L215.6 951.0L215.9 950.3L216.2 949.6L216.5 948.9L216.8 948.1L217.1 947.4L217.3 946.7L217.6 946.0L217.9 945.5L218.2 945.0L218.5 944.6L218.8 944.3L219.1 944.3L219.3 944.8L219.6 946.5L219.9 949.4L220.2 954.8L220.5 977.4L220.8 1003.1L221.1 1015.8L221.3 1023.6L221.6 1028.4L221.9 1032.0L222.2 1035.0L222.5 1037.5L222.8 1039.5L223.1 1041.2L223.3 1042.4L223.6 1043.5L223.9 1044.5L224.2 1045.5L224.5 1046.4L224.8 1047.3L225.0 1048.0L225.3 1048.7L225.6 1049.3L225.9 1049.8L226.2 1050.1L226.5 1050.4L226.8 1050.5L227.0 1050.6L227.3 1050.6L227.6 1050.6L227.9 1050.6L228.2 1050.6L228.5 1050.6L228.8 1050.6L229.0 1050.6L229.3 1050.6L229.6 1050.6L229.9 1050.6L230.2 1050.6L230.5 1050.6L230.8 1050.6L231.0 1050.6L231.3 1050.6L231.6 1050.6L231.9 1050.5L232.2 1050.5L232.5 1050.5L232.8 1050.5L233.0 1050.4L233.3 1050.4L233.6 1050.3L233.9 1050.2L234.2 1050.1L234.5 1050.0L234.8 1049.8L235.0 1049.7L235.3 1049.5L235.6 1049.3" stroke="#0000ff" stroke-width="10" stroke-dasharray="27 25"/>
<path d="M236.2 1018.0L236.5 1017.8L236.8 1017.5L237.0 1017.3L237.3 1017.0L237.6 1016.7L237.9 1016.5L238.2 1016.2L238.5 1016.0L238.8 1015.7L239.0 1015.4L239.3 1015.2L239.6 1014.9L239.9 1014.7L240.2 1014.4L240.5 1014.2L240.8 1013.9L241.0 1013.6L241.3 1013.4L241.6 1013.1L241.9 1012.9L242.2 1012.6L242.5 1012.3L242.8 1012.1L243.0 1011.8L243.3 1011.6L243.6 1011.3L243.9 1011.0L244.2 1010.8L244.5 1010.5L244.8 1010.3L245.0 1010.0L245.3 1009.7L245.6 1009.5L245.9 1009.2L246.2 1009.0L246.5 1008.7L246.8 1008.4L247.0 1008.2L247.3 1007.9L247.6 1007.7L247.9 1007.4L248.2 1007.1L248.5 1006.9L248.8 1006.6L249.0 1006.4L249.3 1006.1L249.6 1005.9L249.9 1005.6L250.2 1005.3L250.5 1005.1L250.8 1004.8L251.0 1004.6L251.3 1004.3L251.6 1004.0L251.9 1003.8L252.2 1003.5L252.5 1003.3L252.8 1003.0L253.0 1002.7L253.3 1002.5L253.6 1002.2L253.9 1002.0L254.2 1001.7L254.5 1001.4L254.8 1001.2L255.0 1000.9L255.3 1000.7L255.6 996.7L255.9 977.7L256.2 964.9L256.5 963.7L256.8 962.5L257.0 961.5L257.3 960.6L257.6 959.8L257.9 959.0L258.2 958.4L258.5 957.8L258.8 957.2L259.0 956.8L259.3 956.4L259.6 956.0L259.9 955.7L260.2 955.4L260.5 955.1L260.7 954.9L261.0 954.6L261.3 954.4L261.6 954.2L261.9 953.9L262.2 953.7L262.5 953.4L262.7 953.1L263.0 952.8L263.3 952.4L263.6 952.0L263.9 951.6L264.2 951.3L264.5 951.0L264.7 950.7L265.0 950.4L265.3 950.1L265.6 949.8L265.9 949.5L266.2 949.2L266.5 949.0L266.7 948.7L267.0 948.4L267.3 948.1L267.6 947.8L267.9 947.5L268.2 947.1L268.5 946.8L268.7 946.4L269.0 946.0L269.3 945.6L269.6 945.1L269.9 944.6L270.2 943.9L270.5 943.1L270.7 942.1L271.0 941.0L271.3 939.9L271.6 938.8L271.9 937.8L272.2 936.9L272.5 936.1L272.7 935.4L273.0 935.0L273.3 934.9L273.6 935.0L273.9 935.2L274.2 935.6L274.5 936.1L274.7 936.7L275.0 937.4L275.3 938.2L275.6 939.0L275.9 939.8L276.2 940.7L276.5 941.5L276.7 942.3L277.0 943.0L277.3 943.7L277.6 944.3L277.9 944.8L278.2 945.3L278.5 945.8L278.7 946.3L279.0 946.7L279.3 947.2L279.6 947.6L279.9 948.0L280.2 948.5L280.5 948.9L280.7 949.3L281.0 949.7L281.3 950.1L281.6 950.4L281.9 950.8L282.2 951.2L282.5 951.6L282.7 951.9L283.0 952.3L283.3 952.6L283.6 953.0L283.9 953.4L284.2 953.7L284.5 954.1L284.7 954.4L285.0 954.8L285.3 955.2L285.6 955.6L285.9 955.9L286.2 956.3L286.5 956.7L286.7 957.1L287.0 957.5L287.3 957.9L287.6 958.4L287.9 958.8L288.2 959.3L288.5 959.7L288.7 960.2L289.0 960.7L289.3 961.2L289.6 961.7L289.9 962.3L290.2 962.8L290.5 963.4L290.7 964.0L291.0 964.6L291.3 965.2L291.6 966.1L291.9 967.1L292.2 968.2L292.5 969.4L292.7 970.6L293.0 971.8L293.3 972.9L293.6 974.0L293.9 974.9L294.2 975.5L294.5 976.0L294.7 976.1L295.0 976.0L295.3 975.7L295.6 975.2L295.9 974.6L296.2 973.8L296.4 972.9L296.7 972.0L297.0 971.1L297.3 970.2L297.6 969.3L297.9 968.4L298.2 967.7L298.4 967.1L298.7 966.5L299.0 965.9L299.3 965.4L299.6 964.8L299.9 964.3L300.2 963.8L300.4 963.3L300.7 962.8L301.0 962.3L301.3 961.8L301.6 961.4L301.9 960.9L302.2 960.5L302.4 960.0L302.7 959.6L303.0 959.1L303.3 958.7L303.6 958.3L303.9 957.8L304.2 957.4L304.4 957.0L304.7 956.5L305.0 956.1L305.3 955.6L305.6 955.2L305.9 954.7L306.2 954.3L306.4 953.8L306.7 953.3L307.0 952.9L307.3 952.4L307.6 951.9L307.9 951.4L308.2 950.8L308.4 950.3L308.7 949.8L309.0 949.2L309.3 948.6L309.6 948.0L309.9 947.4L310.2 946.8L310.4 946.1L310.7 945.4L311.0 944.6L311.3 943.8L311.6 942.8L311.9 941.8L312.2 940.7L312.4 939.6L312.7 938.5L313.0 937.3L313.3 936.1L313.6 934.8L313.9 933.6L314.2 932.4L314.4 931.1L314.7 929.9L315.0 928.7L315.3 927.5L315.6 926.4L315.9 925.3L316.2 924.3L316.4 923.3L316.7 922.4L317.0 921.6L317.3 920.9L317.6 920.2L317.9 919.7L318.2 919.2L318.4 918.9L318.7 918.7L319.0 918.6L319.3 918.6L319.6 918.7L319.9 918.8L320.2 919.0L320.4 919.2L320.7 919.5L321.0 919.8L321.3 920.1L321.6 920.5L321.9 921.0L322.2 921.4L322.4 921.9L322.7 922.4L323.0 923.0L323.3 923.6L323.6 924.2L323.9 924.9L324.2 925.6L324.4 926.3L324.7 927.0L325.0 927.8L325.3 928.5L325.6 929.3L325.9 930.1L326.2 931.0L326.4 931.8L326.7 932.7L327.0 933.5L327.3 934.4L327.6 935.3L327.9 936.2L328.2 937.1L328.4 938.0L328.7 939.0L329.0 939.9L329.3 940.9L329.6 942.3L329.9 943.8L330.2 945.5L330.4 947.4L330.7 949.4L331.0 951.4L331.3 953.5L331.6 955.6L331.9 957.6L332.1 959.5L332.4 961.4L332.7 963.0L333.0 964.5L333.3 965.7L333.6 966.6L333.9 967.2L334.1 967.5L334.4 967.8L334.7 968.0L335.0 968.3L335.3 968.5L335.6 968.7L335.9 968.9L336.1 969.1L336.4 969.3L336.7 969.4L337.0 969.6L337.3 969.7L337.6 969.9L337.9 970.0L338.1 970.1L338.4 970.2L338.7 970.3L339.0 970.4L339.3 970.4L339.6 970.5L339.9 970.5L340.1 970.5L340.4 970.5L340.7 970.5L341.0 970.4L341.3 970.3L341.6 970.1L341.9 969.8L342.1 969.6L342.4 969.2L342.7 968.9L343.0 968.5L343.3 968.0L343.6 967.5L343.9 967.0L344.1 966.5L344.4 965.9L344.7 965.3L345.0 964.7L345.3 964.1L345.6 963.5L345.9 962.8L346.1 962.1L346.4 961.5L346.7 960.8L347.0 960.1L347.3 959.4L347.6 958.7L347.9 958.0L348.1 957.3L348.4 956.7L348.7 956.0L349.0 955.4L349.3 954.7L349.6 954.1L349.9 953.5L350.1 952.9L350.4 952.4L350.7 951.9L351.0 951.3L351.3 950.8L351.6 950.3L351.9 949.7L352.1 949.2L352.4 948.6L352.7 948.1L353.0 947.6L353.3 947.0L353.6 946.5L353.9 945.9L354.1 945.4L354.4 944.9L354.7 944.3L355.0 943.8L355.3 943.2L355.6 942.7L355.9 942.1L356.1 941.6L356.4 941.0L356.7 940.5L357.0 939.9L357.3 939.4L357.6 938.8L357.9 938.3L358.1 937.7L358.4 937.2L358.7 936.6L359.0 936.0L359.3 935.5L359.6 934.9L359.9 934.4L360.1 933.8L360.4 933.2L360.7 932.7L361.0 932.1L361.3 931.6L361.6 930.9L361.9 931.2L362.1 931.5L362.4 931.8L362.7 932.2L363.0 932.5L363.3 932.9L363.6 933.3L363.9 933.7L364.1 934.1L364.4 934.5L364.7 935.0L365.0 935.5L365.3 935.9L365.6 936.4L365.9 936.9L366.1 937.5L366.4 938.0L366.7 938.6L367.0 939.1L367.3 939.7L367.6 940.3L367.8 940.9L368.1 941.5L368.4 942.1L368.7 942.8L369.0 943.4L369.3 944.1L369.6 944.7L369.8 945.4L370.1 946.1L370.4 946.7L370.7 947.4L371.0 948.1L371.3 948.8L371.6 949.5L371.8 950.2L372.1 950.9L372.4 951.6L372.7 952.3L373.0 953.0L373.3 953.7L373.6 954.4L373.8 955.1L374.1 955.8L374.4 956.5L374.7 957.2L375.0 957.9L375.3 958.6L375.6 959.3L375.8 959.9L376.1 960.6L376.4 961.2L376.7 961.9L377.0 962.5L377.3 963.1L377.6 963.8L377.8 964.4L378.1 965.0L378.4 965.5L378.7 966.1L379.0 966.7L379.3 967.2L379.6 967.7L379.8 968.3L380.1 968.8L380.4 969.2L380.7 969.7L381.0 970.2L381.3 970.6L381.6 971.0L381.8 971.4L382.1 971.8L382.4 972.2L382.7 972.6L383.0 972.9L383.3 973.2L383.6 973.5L383.8 973.8L384.1 973.8L384.4 973.5L384.7 973.2L385.0 972.8L385.3 972.5L385.6 972.1L385.8 971.7L386.1 971.3L386.4 970.9L386.7 970.5L387.0 970.1L387.3 969.6L387.6 969.1L387.8 968.6L388.1 968.1L388.4 967.6L388.7 967.1L389.0 966.5L389.3 966.0L389.6 965.4L389.8 964.8L390.1 964.2L390.4 963.6L390.7 963.0L391.0 962.4L391.3 961.7L391.6 961.1L391.8 960.4L392.1 959.8L392.4 959.1L392.7 958.4L393.0 957.7L393.3 957.0L393.6 956.4L393.8 955.7L394.1 955.0L394.4 954.3L394.7 953.6L395.0 952.8L395.3 952.1L395.6 951.4L395.8 950.7L396.1 950.0L396.4 949.3L396.7 948.6L397.0 947.9L397.3 947.2L397.6 946.6L397.8 945.9L398.1 945.2L398.4 944.5L398.7 943.9L399.0 943.2L399.3 942.6L399.6 942.0L399.8 941.3L400.1 940.7L400.4 940.1L400.7 939.5L401.0 939.0L401.3 938.4L401.6 937.9L401.8 937.3L402.1 936.8L402.4 936.3L402.7 935.8L403.0 935.3L403.3 934.8L403.5 934.4L403.8 934.0L404.1 933.5L404.4 933.1L404.7 932.8L405.0 932.4L405.3 932.0L405.5 931.7L405.8 931.4L406.1 931.1L406.4 930.9L406.7 931.1L407.0 931.4L407.3 931.8L407.5 932.1L407.8 932.5L408.1 932.8L408.4 933.2L408.7 933.6L409.0 934.0L409.3 934.5L409.5 934.9L409.8 935.4L410.1 935.9L410.4 936.4L410.7 936.9L411.0 937.4L411.3 937.9L411.5 938.5L411.8 939.1L412.1 939.6L412.4 940.2L412.7 940.8L413.0 941.4L413.3 942.1L413.5 942.7L413.8 943.3L414.1 944.0L414.4 944.7L414.7 945.3L415.0 946.0L415.3 946.7L415.5 947.4L415.8 948.1L416.1 948.7L416.4 949.4L416.7 950.1L417.0 950.8L417.3 951.6L417.5 952.3L417.8 953.0L418.1 953.7L418.4 954.4L418.7 955.1L419.0 955.8L419.3 956.5L419.5 957.2L419.8 957.8L420.1 958.5L420.4 959.2L420.7 959.9L421.0 960.5L421.3 961.2L421.5 961.8L421.8 962.5L422.1 963.1L422.4 963.7L422.7 964.3L423.0 964.9L423.3 965.5L423.5 966.1L423.8 966.6L424.1 967.2L424.4 967.7L424.7 968.2L425.0 968.7L425.3 969.2L425.5 969.7L425.8 970.1L426.1 970.6L426.4 971.0L426.7 971.4L427.0 971.8L427.3 972.2L427.5 972.5L427.8 972.9L428.1 973.2L428.4 973.5L428.7 973.8L429.0 973.8L429.3 973.5L429.5 973.2L429.8 972.9L430.1 972.5L430.4 972.2L430.7 971.8L431.0 971.4L431.3 971.0L431.5 970.5L431.8 970.1L432.1 969.6L432.4 969.2L432.7 968.7L433.0 968.2L433.3 967.7L433.5 967.1L433.8 966.6L434.1 966.0L434.4 965.4L434.7 964.9L435.0 964.3L435.3 963.7L435.5 963.0L435.8 962.4L436.1 961.8L436.4 961.1L436.7 960.5L437.0 959.8L437.3 959.1L437.5 958.5L437.8 957.8L438.1 957.1L438.4 956.4L438.7 955.7L439.0 955.0L439.2 954.3L439.5 953.6L439.8 952.9L440.1 952.2L440.4 951.5L440.7 950.8L441.0 950.1L441.2 949.4L441.5 948.7L441.8 948.0L442.1 947.3L442.4 946.6L442.7 945.9L443.0 945.3L443.2 944.6L443.5 943.9L443.8 943.3L444.1 942.7L444.4 942.0L444.7 941.4L445.0 940.8L445.2 940.2L445.5 939.6L445.8 939.0L446.1 938.5L446.4 937.9L446.7 937.4L447.0 936.8L447.2 936.3L447.5 935.8L447.8 935.3L448.1 934.9L448.4 934.4L448.7 934.0L449.0 933.6L449.2 933.2L449.5 932.8L449.8 932.4L450.1 932.1L450.4 931.7L450.7 931.4L451.0 931.1L451.2 930.8L451.5 931.1L451.8 931.4L452.1 931.7L452.4 932.1L452.7 932.4L453.0 932.8L453.2 933.2L453.5 933.6L453.8 934.0L454.1 934.4L454.4 934.9L454.7 935.4L455.0 935.8L455.2 936.3L455.5 936.8L455.8 937.4L456.1 937.9L456.4 938.5L456.7 939.0L457.0 939.6L457.2 940.2L457.5 940.8L457.8 941.4L458.1 942.0L458.4 942.7L458.7 943.3L459.0 943.9L459.2 944.6L459.5 945.3L459.8 945.9L460.1 946.6L460.4 947.3L460.7 948.0L461.0 948.7L461.2 949.4L461.5 950.1L461.8 950.8L462.1 951.5L462.4 952.2L462.7 952.9L463.0 953.6L463.2 954.3L463.5 955.0L463.8 955.7L464.1 956.4L464.4 957.1L464.7 957.8L465.0 958.5L465.2 959.1L465.5 959.8L465.8 960.5L466.1 961.1L466.4 961.8L466.7 962.4L467.0 963.0L467.2 963.7L467.5 964.3L467.8 964.9L468.1 965.5L468.4 966.0L468.7 966.6L469.0 967.1L469.2 967.7L469.5 968.2L469.8 968.7L470.1 969.2L470.4 969.6L470.7 970.1L471.0 970.5L471.2 971.0L471.5 971.4L471.8 971.8L472.1 972.2L472.4 972.5L472.7 972.9L473.0 973.2L473.2 973.5L473.5 973.8L473.8 973.8L474.1 973.5L474.4 973.2L474.7 972.9L474.9 972.5L475.2 972.2L475.5 971.8L475.8 971.4L476.1 971.0L476.4 970.6L476.7 970.1L476.9 969.7L477.2 969.2L477.5 968.7L477.8 968.2L478.1 967.7L478.4 967.2L478.7 966.6L478.9 966.1L479.2 965.5L479.5 964.9L479.8 964.3L480.1 963.7L480.4 963.1L480.7 962.5L480.9 961.8L481.2 961.2L481.5 960.5L481.8 959.9L482.1 959.2L482.4 958.5L482.7 957.8L482.9 957.2L483.2 956.5L483.5 955.8L483.8 955.1L484.1 954.4L484.4 953.7L484.7 953.0L484.9 952.3L485.2 951.5L485.5 950.8L485.8 950.1L486.1 949.4L486.4 948.7L486.7 948.0L486.9 947.4L487.2 946.7L487.5 946.0L487.8 945.3L488.1 944.7L488.4 944.0L488.7 943.3L488.9 942.7L489.2 942.1L489.5 941.4L489.8 940.8L490.1 940.2L490.4 939.6L490.7 939.1L490.9 938.5L491.2 937.9L491.5 937.4L491.8 936.9L492.1 936.4L492.4 935.9L492.7 935.4L492.9 934.9L493.2 934.5L493.5 934.0L493.8 933.6L494.1 933.2L494.4 932.8L494.7 932.5L494.9 932.1L495.2 931.8L495.5 931.4L495.8 931.1L496.1 930.9L496.4 931.1L496.7 931.4L496.9 931.7L497.2 932.0L497.5 932.4L497.8 932.8L498.1 933.2L498.4 933.6L498.7 934.0L498.9 934.4L499.2 934.8L499.5 935.3L499.8 935.8L500.1 936.3L500.4 936.8L500.7 937.3L500.9 937.9L501.2 938.4L501.5 939.0L501.8 939.6L502.1 940.1L502.4 940.7L502.7 941.4L502.9 942.0L503.2 942.6L503.5 943.2L503.8 943.9L504.1 944.6L504.4 945.2L504.7 945.9L504.9 946.6L505.2 947.3L505.5 947.9L505.8 948.6L506.1 949.3L506.4 950.0L506.7 950.7L506.9 951.4L507.2 952.1L507.5 952.8L507.8 953.6L508.1 954.3L508.4 955.0L508.7 955.7L508.9 956.4L509.2 957.0L509.5 957.7L509.8 958.4L510.1 959.1L510.4 959.8L510.6 960.4L510.9 961.1L511.2 961.7L511.5 962.4L511.8 963.0L512.1 963.6L512.4 964.2L512.6 964.8L512.9 965.4L513.2 966.0L513.5 966.5L513.8 967.1L514.1 967.6L514.4 968.1L514.6 968.6L514.9 969.1L515.2 969.6L515.5 970.1L515.8 970.5L516.1 970.9L516.4 971.4L516.6 971.7L516.9 972.1L517.2 972.5L517.5 972.8L517.8 973.2L518.1 973.5L518.4 973.8L518.6 973.8L518.9 973.5L519.2 973.2L519.5 972.9L519.8 972.6L520.1 972.2L520.4 971.8L520.6 971.4L520.9 971.0L521.2 970.6L521.5 970.2L521.8 969.7L522.1 969.2L522.4 968.8L522.6 968.3L522.9 967.7L523.2 967.2L523.5 966.7L523.8 966.1L524.1 965.5L524.4 965.0L524.6 964.4L524.9 963.8L525.2 963.1L525.5 962.5L525.8 961.9L526.1 961.2L526.4 960.6L526.6 959.9L526.9 959.3L527.2 958.6L527.5 957.9L527.8 957.2L528.1 956.5L528.4 955.8L528.6 955.1L528.9 954.4L529.2 953.7L529.5 953.0L529.8 952.3L530.1 951.6L530.4 950.9L530.6 950.2L530.9 949.5L531.2 948.8L531.5 948.1L531.8 947.4L532.1 946.7L532.4 946.0L532.6 945.4L532.9 944.7L533.2 944.0L533.5 943.4L533.8 942.8L534.1 942.1L534.4 941.5L534.6 940.9L534.9 940.3L535.2 939.7L535.5 939.1L535.8 938.5L536.1 938.0L536.4 937.4L536.6 936.9L536.9 936.4L537.2 935.9L537.5 935.4L537.8 935.0L538.1 934.5L538.4 934.1L538.6 933.6L538.9 933.2L539.2 932.9L539.5 932.5L539.8 932.1L540.1 931.8L540.4 931.5L540.6 931.2L540.9 930.9L541.2 931.1L541.5 931.4L541.8 931.7L542.1 932.0L542.4 932.4L542.6 932.7L542.9 933.1L543.2 933.5L543.5 933.9L543.8 934.4L544.1 934.8L544.4 935.3L544.6 935.8L544.9 936.2L545.2 936.8L545.5 937.3L545.8 937.8L546.1 938.4L546.3 938.9L546.6 939.5L546.9 940.1L547.2 940.7L547.5 941.3L547.8 941.9L548.1 942.6L548.3 943.2L548.6 943.8L548.9 944.5L549.2 945.2L549.5 945.8L549.8 946.5L550.1 947.2L550.3 947.9L550.6 948.6L550.9 949.3L551.2 950.0L551.5 950.7L551.8 951.4L552.1 952.1L552.3 952.8L552.6 953.5L552.9 954.2L553.2 954.9L553.5 955.6L553.8 956.3L554.1 957.0L554.3 957.7L554.6 958.4L554.9 959.0L555.2 959.7L555.5 960.4L555.8 961.0L556.1 961.7L556.3 962.3L556.6 962.9L556.9 963.5L557.2 964.2L557.5 964.8L557.8 965.3L558.1 965.9L558.3 966.5L558.6 967.0L558.9 967.5L559.2 968.1L559.5 968.6L559.8 969.1L560.1 969.5L560.3 970.0L560.6 970.4L560.9 970.9L561.2 971.3L561.5 971.7L561.8 972.1L562.1 972.4L562.3 972.8L562.6 973.1L562.9 973.4L563.2 973.7L563.5 973.8L563.8 973.5L564.1 973.2L564.3 972.9L564.6 972.6L564.9 972.2L565.2 971.8L565.5 971.4L565.8 971.0L566.1 970.6L566.3 970.2L566.6 969.7L566.9 969.3L567.2 968.8L567.5 968.3L567.8 967.8L568.1 967.2L568.3 966.7L568.6 966.1L568.9 965.6L569.2 965.0L569.5 964.4L569.8 963.8L570.1 963.2L570.3 962.5L570.6 961.9L570.9 961.3L571.2 960.6L571.5 960.0L571.8 959.3L572.1 958.6L572.3 957.9L572.6 957.3L572.9 956.6L573.2 955.9L573.5 955.2L573.8 954.5L574.1 953.8L574.3 953.1L574.6 952.4L574.9 951.7L575.2 951.0L575.5 950.3L575.8 949.6L576.1 948.9L576.3 948.2L576.6 947.5L576.9 946.8L577.2 946.1L577.5 945.4L577.8 944.8L578.1 944.1L578.3 943.5L578.6 942.8L578.9 942.2L579.2 941.6L579.5 941.0L579.8 940.3L580.1 939.8L580.3 939.2L580.6 938.6L580.9 938.1L581.2 937.5L581.5 937.0L581.8 936.5L582.0 936.0L582.3 935.5L582.6 935.0L582.9 934.6L583.2 934.1L583.5 933.7L583.8 933.3L584.0 932.9L584.3 932.5L584.6 932.2L584.9 931.9L585.2 931.5L585.5 931.2L585.8 930.9L586.0 931.1L586.3 931.4L586.6 931.7L586.9 932.0L587.2 932.4L587.5 932.7L587.8 933.1L588.0 933.5L588.3 933.9L588.6 934.4L588.9 934.8L589.2 935.3L589.5 935.7L589.8 936.2L590.0 936.7L590.3 937.3L590.6 937.8L590.9 938.3L591.2 938.9L591.5 939.5L591.8 940.1L592.0 940.7L592.3 941.3L592.6 941.9L592.9 942.5L593.2 943.2L593.5 943.8L593.8 944.5L594.0 945.1L594.3 945.8L594.6 946.5L594.9 947.2L595.2 947.8L595.5 948.5L595.8 949.2L596.0 949.9L596.3 950.6L596.6 951.3L596.9 952.0L597.2 952.7L597.5 953.4L597.8 954.1L598.0 954.8L598.3 955.5L598.6 956.2L598.9 956.9L599.2 957.6L599.5 958.3L599.8 959.0L600.0 959.6L600.3 960.3L600.6 961.0L600.9 961.6L601.2 962.2L601.5 962.9L601.8 963.5L602.0 964.1L602.3 964.7L602.6 965.3L602.9 965.9L603.2 966.4L603.5 967.0L603.8 967.5L604.0 968.0L604.3 968.5L604.6 969.0L604.9 969.5L605.2 970.0L605.5 970.4L605.8 970.8L606.0 971.3L606.3 971.6L606.6 972.0L606.9 972.4L607.2 972.7L607.5 973.1L607.8 973.4L608.0 973.7L608.3 973.8L608.6 973.6L608.9 973.2L609.2 972.9L609.5 972.6L609.8 972.2L610.0 971.9L610.3 971.5L610.6 971.1L610.9 970.6L611.2 970.2L611.5 969.8L611.8 969.3L612.0 968.8L612.3 968.3L612.6 967.8L612.9 967.3L613.2 966.7L613.5 966.2L613.8 965.6L614.0 965.0L614.3 964.4L614.6 963.8L614.9 963.2L615.2 962.6L615.5 962.0L615.8 961.3L616.0 960.7L616.3 960.0L616.6 959.3L616.9 958.7L617.2 958.0L617.5 957.3L617.7 956.6L618.0 955.9L618.3 955.2L618.6 954.5L618.9 953.8L619.2 953.1L619.5 952.4L619.7 951.7L620.0 951.0L620.3 950.3L620.6 949.6L620.9 948.9L621.2 948.2L621.5 947.5L621.7 946.8L622.0 946.2L622.3 945.5L622.6 944.8L622.9 944.2L623.2 943.5L623.5 942.9L623.7 942.2L624.0 941.6L624.3 941.0L624.6 940.4L624.9 939.8L625.2 939.2L625.5 938.7L625.7 938.1L626.0 937.6L626.3 937.0L626.6 936.5L626.9 936.0L627.2 935.5L627.5 935.1L627.7 934.6L628.0 934.2L628.3 933.7L628.6 933.3L628.9 933.0L629.2 932.6L629.5 932.2L629.7 931.9L630.0 931.6L630.3 931.3L630.6 931.0L630.9 931.1L631.2 931.4L631.5 931.7L631.7 932.0L632.0 932.4L632.3 932.7L632.6 933.1L632.9 933.5L633.2 933.9L633.5 934.3L633.7 934.8L634.0 935.2L634.3 935.7L634.6 936.2L634.9 936.7L635.2 937.2L635.5 937.8L635.7 938.3L636.0 938.9L636.3 939.4L636.6 940.0L636.9 940.6L637.2 941.2L637.5 941.8L637.7 942.5L638.0 943.1L638.3 943.8L638.6 944.4L638.9 945.1L639.2 945.7L639.5 946.4L639.7 947.1L640.0 947.8L640.3 948.5L640.6 949.2L640.9 949.9L641.2 950.6L641.5 951.3L641.7 952.0L642.0 952.7L642.3 953.4L642.6 954.1L642.9 954.8L643.2 955.5L643.5 956.2L643.7 956.9L644.0 957.6L644.3 958.2L644.6 958.9L644.9 959.6L645.2 960.3L645.5 960.9L645.7 961.6L646.0 962.2L646.3 962.8L646.6 963.4L646.9 964.1L647.2 964.7L647.5 965.2L647.7 965.8L648.0 966.4L648.3 966.9L648.6 967.5L648.9 968.0L649.2 968.5L649.5 969.0L649.7 969.5L650.0 969.9L650.3 970.4L650.6 970.8L650.9 971.2L651.2 971.6L651.5 972.0L651.7 972.4L652.0 972.7L652.3 973.0L652.6 973.4L652.9 973.7L653.2 973.9L653.4 973.6L653.7 973.3L654.0 973.0L654.3 972.6L654.6 972.3L654.9 971.9L655.2 971.5L655.4 971.1L655.7 970.7L656.0 970.2L656.3 969.8L656.6 969.3L656.9 968.8L657.2 968.3L657.4 967.8L657.7 967.3L658.0 966.8L658.3 966.2L658.6 965.7L658.9 965.1L659.2 964.5L659.4 963.9L659.7 963.3L660.0 962.6L660.3 962.0L660.6 961.4L660.9 960.7L661.2 960.1L661.4 959.4L661.7 958.7L662.0 958.0L662.3 957.4L662.6 956.7L662.9 956.0L663.2 955.3L663.4 954.6L663.7 953.9L664.0 953.2L664.3 952.5L664.6 951.8L664.9 951.1L665.2 950.4L665.4 949.7L665.7 949.0L666.0 948.3L666.3 947.6L666.6 946.9L666.9 946.2L667.2 945.5L667.4 944.9L667.7 944.2L668.0 943.6L668.3 942.9L668.6 942.3L668.9 941.7L669.2 941.0L669.4 940.4L669.7 939.9L670.0 939.3L670.3 938.7L670.6 938.1L670.9 937.6L671.2 937.1L671.4 936.6L671.7 936.1L672.0 935.6L672.3 935.1L672.6 934.6L672.9 934.2L673.2 933.8L673.4 933.4L673.7 933.0L674.0 932.6L674.3 932.2L674.6 931.9L674.9 931.6L675.2 931.3L675.4 931.0L675.7 931.0L676.0 931.3L676.3 931.7L676.6 932.0L676.9 932.3L677.2 932.7L677.4 933.1L677.7 933.5L678.0 933.9L678.3 934.3L678.6 934.7L678.9 935.2L679.2 935.7L679.4 936.2L679.7 936.7L680.0 937.2L680.3 937.7L680.6 938.3L680.9 938.8L681.2 939.4L681.4 940.0L681.7 940.6L682.0 941.2L682.3 941.8L682.6 942.4L682.9 943.1L683.2 943.7L683.4 944.4L683.7 945.0L684.0 945.7L684.3 946.4L684.6 947.0L684.9 947.7L685.2 948.4L685.4 949.1L685.7 949.8L686.0 950.5L686.3 951.2L686.6 951.9L686.9 952.6L687.2 953.3L687.4 954.0L687.7 954.7L688.0 955.4L688.3 956.1L688.6 956.8L688.9 957.5L689.1 958.2L689.4 958.9L689.7 959.5L690.0 960.2L690.3 960.9L690.6 961.5L690.9 962.1L691.1 962.8L691.4 963.4L691.7 964.0L692.0 964.6L692.3 965.2L692.6 965.8L692.9 966.3L693.1 966.9L693.4 967.4L693.7 967.9L694.0 968.5L694.3 968.9L694.6 969.4L694.9 969.9L695.1 970.3L695.4 970.8L695.7 971.2L696.0 971.6L696.3 972.0L696.6 972.3L696.9 972.7L697.1 973.0L697.4 973.3L697.7 973.6L698.0 973.9L698.3 973.6L698.6 973.3L698.9 973.0L699.1 972.6L699.4 972.3L699.7 971.9L700.0 971.5L700.3 971.1L700.6 970.7L700.9 970.3L701.1 969.8L701.4 969.4L701.7 968.9L702.0 968.4L702.3 967.9L702.6 967.4L702.9 966.8L703.1 966.3L703.4 965.7L703.7 965.1L704.0 964.5L704.3 963.9L704.6 963.3L704.9 962.7L705.1 962.1L705.4 961.4L705.7 960.8L706.0 960.1L706.3 959.5L706.6 958.8L706.9 958.1L707.1 957.4L707.4 956.7L707.7 956.0L708.0 955.3L708.3 954.6L708.6 953.9L708.9 953.2L709.1 952.5L709.4 951.8L709.7 951.1L710.0 950.4L710.3 949.7L710.6 949.0L710.9 948.3L711.1 947.6L711.4 947.0L711.7 946.3L712.0 945.6L712.3 944.9L712.6 944.3L712.9 943.6L713.1 943.0L713.4 942.3L713.7 941.7L714.0 941.1L714.3 940.5L714.6 939.9L714.9 939.3L715.1 938.7L715.4 938.2L715.7 937.6L716.0 937.1L716.3 936.6L716.6 936.1L716.9 935.6L717.1 935.1L717.4 934.7L717.7 934.2L718.0 933.8L718.3 933.4L718.6 933.0L718.9 932.6L719.1 932.3L719.4 931.9L719.7 931.6L720.0 931.3L720.3 931.0L720.6 931.0L720.9 931.3L721.1 931.6L721.4 932.0L721.7 932.3L722.0 932.7L722.3 933.0L722.6 933.4L722.9 933.8L723.1 934.3L723.4 934.7L723.7 935.2L724.0 935.6L724.3 936.1L724.6 936.6L724.8 937.1L725.1 937.7L725.4 938.2L725.7 938.8L726.0 939.3L726.3 939.9L726.6 940.5L726.8 941.1L727.1 941.7L727.4 942.4L727.7 943.0L728.0 943.6L728.3 944.3L728.6 945.0L728.8 945.6L729.1 946.3L729.4 947.0L729.7 947.7L730.0 948.4L730.3 949.1L730.6 949.8L730.8 950.5L731.1 951.2L731.4 951.9L731.7 952.6L732.0 953.3L732.3 954.0L732.6 954.7L732.8 955.4L733.1 956.1L733.4 956.8L733.7 957.5L734.0 958.1L734.3 958.8L734.6 959.5L734.8 960.2L735.1 960.8L735.4 961.5L735.7 962.1L736.0 962.7L736.3 963.4L736.6 964.0L736.8 964.6L737.1 965.2L737.4 965.7L737.7 966.3L738.0 966.8L738.3 967.4L738.6 967.9L738.8 968.4L739.1 968.9L739.4 969.4L739.7 969.9L740.0 970.3L740.3 970.7L740.6 971.2L740.8 971.6L741.1 971.9L741.4 972.3L741.7 972.7L742.0 973.0L742.3 973.3L742.6 973.6L742.8 973.9L743.1 973.6L743.4 973.3L743.7 973.0L744.0 972.7L744.3 972.3L744.6 972.0L744.8 971.6L745.1 971.2L745.4 970.8L745.7 970.3L746.0 969.9L746.3 969.4L746.6 968.9L746.8 968.4L747.1 967.9L747.4 967.4L747.7 966.9L748.0 966.3L748.3 965.7L748.6 965.2L748.8 964.6L749.1 964.0L749.4 963.4L749.7 962.7L750.0 962.1L750.3 961.5L750.6 960.8L750.8 960.2L751.1 959.5L751.4 958.8L751.7 958.2L752.0 957.5L752.3 956.8L752.6 956.1L752.8 955.4L753.1 954.7L753.4 954.0L753.7 953.3L754.0 952.6L754.3 951.9L754.6 951.2L754.8 950.5L755.1 949.8L755.4 949.1L755.7 948.4L756.0 947.7L756.3 947.0L756.6 946.3L756.8 945.7L757.1 945.0L757.4 944.3L757.7 943.7L758.0 943.0L758.3 942.4L758.6 941.8L758.8 941.1L759.1 940.5L759.4 939.9L759.7 939.4L760.0 938.8L760.3 938.2L760.5 937.7L760.8 937.2L761.1 936.6L761.4 936.1L761.7 935.6L762.0 935.2L762.3 934.7L762.5 934.3L762.8 933.8L763.1 933.4L763.4 933.0L763.7 932.7L764.0 932.3L764.3 932.0L764.5 931.6L764.8 931.3L765.1 931.0L765.4 931.0L765.7 931.3L766.0 931.6L766.3 931.9L766.5 932.3L766.8 932.6L767.1 933.0L767.4 933.4L767.7 933.8L768.0 934.2L768.3 934.7L768.5 935.1L768.8 935.6L769.1 936.1L769.4 936.6L769.7 937.1L770.0 937.6L770.3 938.2L770.5 938.7L770.8 939.3L771.1 939.9L771.4 940.5L771.7 941.1L772.0 941.7L772.3 942.3L772.5 943.0L772.8 943.6L773.1 944.3L773.4 944.9L773.7 945.6L774.0 946.3L774.3 946.9L774.5 947.6L774.8 948.3L775.1 949.0L775.4 949.7L775.7 950.4L776.0 951.1L776.3 951.8L776.5 952.5L776.8 953.2L777.1 953.9L777.4 954.6L777.7 955.3L778.0 956.0L778.3 956.7L778.5 957.4L778.8 958.1L779.1 958.8L779.4 959.4L779.7 960.1L780.0 960.8L780.3 961.4L780.5 962.0L780.8 962.7L781.1 963.3L781.4 963.9L781.7 964.5L782.0 965.1L782.3 965.7L782.5 966.2L782.8 966.8L783.1 967.3L783.4 967.9L783.7 968.4L784.0 968.9L784.3 969.4L784.5 969.8L784.8 970.3L785.1 970.7L785.4 971.1L785.7 971.5L786.0 971.9L786.3 972.3L786.5 972.6L786.8 973.0L787.1 973.3L787.4 973.6L787.7 973.9L788.0 973.6L788.3 973.3L788.5 973.0L788.8 972.7L789.1 972.3L789.4 972.0L789.7 971.6L790.0 971.2L790.3 970.8L790.5 970.4L790.8 969.9L791.1 969.4L791.4 969.0L791.7 968.5L792.0 968.0L792.3 967.4L792.5 966.9L792.8 966.4L793.1 965.8L793.4 965.2L793.7 964.6L794.0 964.0L794.3 963.4L794.5 962.8L794.8 962.2L795.1 961.5L795.4 960.9L795.7 960.2L796.0 959.6L796.2 958.9L796.5 958.2L796.8 957.5L797.1 956.8L797.4 956.1L797.7 955.5L798.0 954.8L798.2 954.1L798.5 953.3L798.8 952.6L799.1 951.9L799.4 951.2L799.7 950.5L800.0 949.8L800.2 949.1L800.5 948.4L800.8 947.8L801.1 947.1L801.4 946.4L801.7 945.7L802.0 945.0L802.2 944.4L802.5 943.7L802.8 943.1L803.1 942.4L803.4 941.8L803.7 941.2L804.0 940.6L804.2 940.0L804.5 939.4L804.8 938.8L805.1 938.3L805.4 937.7L805.7 937.2L806.0 936.7L806.2 936.2L806.5 935.7L806.8 935.2L807.1 934.8L807.4 934.3L807.7 933.9L808.0 933.5L808.2 933.1L808.5 932.7L808.8 932.3L809.1 932.0L809.4 931.7L809.7 931.4L810.0 931.1L810.2 931.0L810.5 931.3L810.8 931.6L811.1 931.9L811.4 932.2L811.7 932.6L812.0 933.0L812.2 933.4L812.5 933.8L812.8 934.2L813.1 934.6L813.4 935.1L813.7 935.6L814.0 936.0L814.2 936.5L814.5 937.1L814.8 937.6L815.1 938.1L815.4 938.7L815.7 939.3L816.0 939.8L816.2 940.4L816.5 941.0L816.8 941.6L817.1 942.3L817.4 942.9L817.7 943.5L818.0 944.2L818.2 944.9L818.5 945.5L818.8 946.2L819.1 946.9L819.4 947.6L819.7 948.3L820.0 948.9L820.2 949.6L820.5 950.3L820.8 951.0L821.1 951.8L821.4 952.5L821.7 953.2L822.0 953.9L822.2 954.6L822.5 955.3L822.8 956.0L823.1 956.7L823.4 957.3L823.7 958.0L824.0 958.7L824.2 959.4L824.5 960.0L824.8 960.7L825.1 961.4L825.4 962.0L825.7 962.6L826.0 963.3L826.2 963.9L826.5 964.5L826.8 965.1L827.1 965.6L827.4 966.2L827.7 966.8L828.0 967.3L828.2 967.8L828.5 968.3L828.8 968.8L829.1 969.3L829.4 969.8L829.7 970.2L830.0 970.7L830.2 971.1L830.5 971.5L830.8 971.9L831.1 972.3L831.4 972.6L831.7 972.9L831.9 973.3L832.2 973.6L832.5 973.9L832.8 973.7L833.1 973.4L833.4 973.1L833.7 972.7L833.9 972.4L834.2 972.0L834.5 971.6L834.8 971.2L835.1 970.8L835.4 970.4L835.7 969.9L835.9 969.5L836.2 969.0L836.5 968.5L836.8 968.0L837.1 967.5L837.4 966.9L837.7 966.4L837.9 965.8L838.2 965.3L838.5 964.7L838.8 964.1L839.1 963.5L839.4 962.8L839.7 962.2L839.9 961.6L840.2 960.9L840.5 960.3L840.8 959.6L841.1 958.9L841.4 958.3L841.7 957.6L841.9 956.9L842.2 956.2L842.5 955.5L842.8 954.8L843.1 954.1L843.4 953.4L843.7 952.7L843.9 952.0L844.2 951.3L844.5 950.6L844.8 949.9L845.1 949.2L845.4 948.5L845.7 947.8L845.9 947.1L846.2 946.4L846.5 945.8L846.8 945.1L847.1 944.4L847.4 943.8L847.7 943.1L847.9 942.5L848.2 941.9L848.5 941.2L848.8 940.6L849.1 940.0L849.4 939.5L849.7 938.9L849.9 938.3L850.2 937.8L850.5 937.2L850.8 936.7L851.1 936.2L851.4 935.7L851.7 935.2L851.9 934.8L852.2 934.3L852.5 933.9L852.8 933.5L853.1 933.1L853.4 932.7L853.7 932.4L853.9 932.0L854.2 931.7L854.5 931.4L854.8 931.1L855.1 931.0L855.4 931.2L855.7 931.6L855.9 931.9L856.2 932.2L856.5 932.6L856.8 932.9L857.1 933.3L857.4 933.7L857.7 934.2L857.9 934.6L858.2 935.0L858.5 935.5L858.8 936.0L859.1 936.5L859.4 937.0L859.7 937.5L859.9 938.1L860.2 938.6L860.5 939.2L860.8 939.8L861.1 940.4L861.4 941.0L861.7 941.6L861.9 942.2L862.2 942.9L862.5 943.5L862.8 944.1L863.1 944.8L863.4 945.5L863.7 946.1L863.9 946.8L864.2 947.5L864.5 948.2L864.8 948.9L865.1 949.6L865.4 950.3L865.7 951.0L865.9 951.7L866.2 952.4L866.5 953.1L866.8 953.8L867.1 954.5L867.4 955.2L867.6 955.9L867.9 956.6L868.2 957.3L868.5 958.0L868.8 958.7L869.1 959.3L869.4 960.0L869.6 960.7L869.9 961.3L870.2 961.9L870.5 962.6L870.8 963.2L871.1 963.8L871.4 964.4L871.6 965.0L871.9 965.6L872.2 966.2L872.5 966.7L872.8 967.3L873.1 967.8L873.4 968.3L873.6 968.8L873.9 969.3L874.2 969.7L874.5 970.2L874.8 970.6L875.1 971.1L875.4 971.5L875.6 971.9L875.9 972.2L876.2 972.6L876.5 972.9L876.8 973.2L877.1 973.5L877.4 973.8L877.6 973.7L877.9 973.4L878.2 973.1L878.5 972.8L878.8 972.4L879.1 972.0L879.4 971.7L879.6 971.3L879.9 970.9L880.2 970.4L880.5 970.0L880.8 969.5L881.1 969.8L881.4 969.4L881.6 969.0L881.9 968.6L882.2 968.2L882.5 967.8L882.8 967.4L883.1 967.0L883.4 966.5L883.6 966.1L883.9 965.7L884.2 965.3L884.5 964.9L884.8 964.5L885.1 964.2L885.4 963.8L885.6 963.4L885.9 963.1L886.2 962.7L886.5 962.4L886.8 962.1L887.1 961.8L887.4 961.5L887.6 961.2L887.9 961.0L888.2 960.8L888.5 960.5L888.8 960.3L889.1 960.1L889.4 960.0L889.6 959.8L889.9 959.7L890.2 959.6L890.5 959.4L890.8 959.3L891.1 959.2L891.4 959.2L891.6 959.1L891.9 959.0L892.2 958.9L892.5 958.9L892.8 958.8L893.1 958.8L893.4 958.7L893.6 958.6L893.9 958.5L894.2 958.4L894.5 958.3L894.8 958.2L895.1 958.1L895.4 957.9L895.6 957.8L895.9 957.6L896.2 957.4L896.5 957.2L896.8 956.9L897.1 956.6L897.4 956.3L897.6 956.0L897.9 955.6L898.2 955.3L898.5 954.9L898.8 954.4L899.1 954.0L899.4 953.5L899.6 953.0L899.9 952.6L900.2 952.6L900.5 952.5L900.8 952.5L901.1 952.5L901.4 952.4L901.6 952.3L901.9 952.2L902.2 952.1L902.5 952.1L902.8 952.0L903.1 951.9L903.3 951.8L903.6 951.7L903.9 951.6L904.2 951.5L904.5 951.4L904.8 951.4L905.1 951.3L905.3 951.3L905.6 951.3L905.9 951.3L906.2 951.4L906.5 951.4L906.8 951.5L907.1 951.6L907.3 951.7L907.6 951.9L907.9 952.0L908.2 952.2L908.5 952.5L908.8 952.7L909.1 953.0L909.3 953.3L909.6 953.6L909.9 953.9L910.2 954.3L910.5 954.7L910.8 955.1L911.1 955.5L911.3 956.0L911.6 956.4L911.9 956.9L912.2 957.4L912.5 957.9L912.8 958.4L913.1 958.9L913.3 959.4L913.6 960.0L913.9 960.5L914.2 961.0L914.5 961.6L914.8 962.1L915.1 962.7L915.3 963.2L915.6 963.8L915.9 964.3L916.2 964.9L916.5 965.4L916.8 965.9L917.1 966.5L917.3 967.0L917.6 967.5L917.9 968.0L918.2 968.5L918.5 968.9L918.8 969.4L919.1 969.8L919.3 970.3L919.6 970.7L919.9 971.1L920.2 971.5L920.5 971.9L920.8 972.3L921.1 972.6L921.3 972.9L921.6 973.2L921.9 973.5L922.2 973.8L922.5 973.7L922.8 973.4L923.1 973.1L923.3 972.8L923.6 972.4L923.9 972.1L924.2 971.7L924.5 971.3L924.8 970.9L925.1 970.5L925.3 970.0L925.6 969.6L925.9 969.1L926.2 968.6L926.5 968.1L926.8 967.6L927.1 967.0L927.3 966.5L927.6 965.9L927.9 965.4L928.2 964.8L928.5 964.2L928.8 963.6L929.1 962.9L929.3 962.3L929.6 961.7L929.9 961.0L930.2 960.4L930.5 959.7L930.8 959.0L931.1 958.4L931.3 957.7L931.6 957.0L931.9 956.3L932.2 955.6L932.5 954.9L932.8 954.2L933.1 953.5L933.3 952.8L933.6 952.1L933.9 951.3L934.2 950.6L934.5 949.9L934.8 949.1L935.1 948.4L935.3 947.6L935.6 946.9L935.9 946.2L936.2 945.5L936.5 944.8L936.8 944.1L937.1 943.4L937.3 942.7L937.6 942.0L937.9 941.3L938.2 940.7L938.5 940.0L938.8 939.4L939.0 938.8L939.3 938.2L939.6 937.6L939.9 937.0L940.2 936.4L940.5 935.9L940.8 935.3L941.0 934.8L941.3 934.3L941.6 933.8L941.9 933.3L942.2 932.9L942.5 932.4L942.8 932.0L943.0 931.6L943.3 931.2L943.6 930.9L943.9 930.5L944.2 930.2L944.5 929.9L944.8 929.6L945.0 929.9L945.3 930.3L945.6 930.6L945.9 931.0L946.2 931.3L946.5 931.7L946.8 932.1L947.0 932.6L947.3 933.0L947.6 933.5L947.9 933.9L948.2 934.4L948.5 934.9L948.8 935.5L949.0 936.0L949.3 936.6L949.6 937.1L949.9 937.7L950.2 938.3L950.5 938.9L950.8 939.6L951.0 940.2L951.3 940.8L951.6 941.5L951.9 942.2L952.2 942.9L952.5 943.5L952.8 944.2L953.0 944.9L953.3 945.7L953.6 946.4L953.9 947.1L954.2 947.8L954.5 948.6L954.8 949.3L955.0 950.0L955.3 950.8L955.6 951.5L955.9 952.3L956.2 953.0L956.5 953.8L956.8 954.5L957.0 955.3L957.3 956.0L957.6 956.7L957.9 957.5L958.2 958.2L958.5 958.9L958.8 959.6L959.0 960.3L959.3 961.0L959.6 961.7L959.9 962.4L960.2 963.1L960.5 963.7L960.8 964.4L961.0 965.0L961.3 965.7L961.6 966.3L961.9 966.9L962.2 967.5L962.5 968.0L962.8 968.6L963.0 969.2L963.3 969.7L963.6 970.2L963.9 970.7L964.2 971.2L964.5 971.6L964.8 972.1L965.0 972.5L965.3 972.9L965.6 973.3L965.9 973.7L966.2 974.1L966.5 974.4L966.8 974.8L967.0 975.1L967.3 975.0L967.6 974.7L967.9 974.4L968.2 974.0L968.5 973.7L968.8 973.3L969.0 972.9L969.3 972.5L969.6 972.0L969.9 971.6L970.2 971.1L970.5 970.6L970.8 970.1L971.0 969.6L971.3 969.1L971.6 968.5L971.9 967.9L972.2 967.4L972.5 966.8L972.8 966.2L973.0 965.6L973.3 964.9L973.6 964.3L973.9 963.6L974.2 963.0L974.5 962.3L974.7 961.6L975.0 960.9L975.3 960.2L975.6 959.5L975.9 958.8L976.2 958.1L976.5 957.3L976.7 956.6L977.0 955.9L977.3 955.1L977.6 954.4L977.9 953.6L978.2 952.9L978.5 952.2L978.7 951.4L979.0 950.7L979.3 949.9L979.6 949.2L979.9 948.4L980.2 947.7L980.5 947.0L980.7 946.3L981.0 945.5L981.3 944.8L981.6 944.1L981.9 943.4L982.2 942.7L982.5 942.1L982.7 941.4L983.0 940.7L983.3 940.1L983.6 939.5L983.9 938.8L984.2 938.2L984.5 937.6L984.7 937.0L985.0 936.5L985.3 935.9L985.6 935.4L985.9 934.9L986.2 934.3L986.5 933.9L986.7 933.4L987.0 932.9L987.3 932.5L987.6 932.1L987.9 931.6L988.2 931.3L988.5 930.9L988.7 930.5L989.0 930.2L989.3 929.9L989.6 929.6L989.9 929.9L990.2 930.2L990.5 930.6L990.7 930.9L991.0 931.3L991.3 931.7L991.6 932.1L991.9 932.5L992.2 933.0L992.5 933.4L992.7 933.9L993.0 934.4L993.3 934.9L993.6 935.4L993.9 936.0L994.2 936.5L994.5 937.1L994.7 937.7L995.0 938.3L995.3 938.9L995.6 939.5L995.9 940.1L996.2 940.8L996.5 941.5L996.7 942.1L997.0 942.8L997.3 943.5L997.6 944.2L997.9 944.9L998.2 945.6L998.5 946.3L998.7 947.0L999.0 947.8L999.3 948.5L999.6 949.2L999.9 950.0L1000.2 950.7L1000.5 951.5L1000.7 952.2L1001.0 953.0L1001.3 953.7L1001.6 954.5L1001.9 955.2L1002.2 955.9L1002.5 956.7L1002.7 957.4L1003.0 958.1L1003.3 958.9L1003.6 959.6L1003.9 960.3L1004.2 961.0L1004.5 961.7L1004.7 962.4L1005.0 963.0L1005.3 963.7L1005.6 964.3L1005.9 965.0L1006.2 965.6L1006.5 966.2L1006.7 966.8L1007.0 967.4L1007.3 968.0L1007.6 968.6L1007.9 969.1L1008.2 969.6L1008.5 970.2L1008.7 970.7L1009.0 971.1L1009.3 971.6L1009.6 972.1L1009.9 972.5L1010.2 972.9L1010.4 973.3L1010.7 973.7L1011.0 974.1L1011.3 974.4L1011.6 974.7L1011.9 975.0L1012.2 975.0L1012.4 974.7L1012.7 974.4L1013.0 974.0L1013.3 973.7L1013.6 973.3L1013.9 972.9L1014.2 972.5L1014.4 972.1L1014.7 971.6L1015.0 971.1L1015.3 970.7L1015.6 970.2L1015.9 969.6L1016.2 969.1L1016.4 968.6L1016.7 968.0L1017.0 967.4L1017.3 966.8L1017.6 966.2L1017.9 965.6L1018.2 965.0L1018.4 964.3L1018.7 963.7L1019.0 963.0L1019.3 962.3L1019.6 961.7L1019.9 961.0L1020.2 960.3L1020.4 959.6L1020.7 958.8L1021.0 958.1L1021.3 957.4L1021.6 956.7L1021.9 955.9L1022.2 955.2L1022.4 954.4L1022.7 953.7L1023.0 953.0L1023.3 952.2L1023.6 951.5L1023.9 950.7L1024.2 950.0L1024.4 949.2L1024.7 948.5L1025.0 947.8L1025.3 947.0L1025.6 946.3L1025.9 945.6L1026.2 944.9L1026.4 944.2L1026.7 943.5L1027.0 942.8L1027.3 942.1L1027.6 941.4L1027.9 940.8L1028.2 940.1L1028.4 939.5L1028.7 938.9L1029.0 938.3L1029.3 937.7L1029.6 937.1L1029.9 936.5L1030.2 936.0L1030.4 935.4L1030.7 934.9L1031.0 934.4L1031.3 933.9L1031.6 933.4L1031.9 933.0L1032.2 932.5L1032.4 932.1L1032.7 931.7L1033.0 931.3L1033.3 930.9L1033.6 930.6L1033.9 930.2L1034.2 929.9L1034.4 929.6L1034.7 929.9L1035.0 930.2L1035.3 930.5L1035.6 930.9L1035.9 931.3L1036.2 931.7L1036.4 932.1L1036.7 932.5L1037.0 932.9L1037.3 933.4L1037.6 933.9L1037.9 934.4L1038.2 934.9L1038.4 935.4L1038.7 935.9L1039.0 936.5L1039.3 937.0L1039.6 937.6L1039.9 938.2L1040.2 938.8L1040.4 939.5L1040.7 940.1L1041.0 940.7L1041.3 941.4L1041.6 942.1L1041.9 942.7L1042.2 943.4L1042.4 944.1L1042.7 944.8L1043.0 945.5L1043.3 946.3L1043.6 947.0L1043.9 947.7L1044.2 948.5L1044.4 949.2L1044.7 949.9L1045.0 950.7L1045.3 951.4L1045.6 952.2L1045.9 952.9L1046.1 953.7L1046.4 954.4L1046.7 955.1L1047.0 955.9L1047.3 956.6L1047.6 957.3L1047.9 958.1L1048.1 958.8L1048.4 959.5L1048.7 960.2L1049.0 960.9L1049.3 961.6L1049.6 962.3L1049.9 963.0L1050.1 963.6L1050.4 964.3L1050.7 964.9L1051.0 965.6L1051.3 966.2L1051.6 966.8L1051.9 967.4L1052.1 968.0L1052.4 968.5L1052.7 969.1L1053.0 969.6L1053.3 970.1L1053.6 970.6L1053.9 971.1L1054.1 971.6L1054.4 972.0L1054.7 972.5L1055.0 972.9L1055.3 973.3L1055.6 973.7L1055.9 974.0L1056.1 974.4L1056.4 974.7L1056.7 975.0L1057.0 975.1L1057.3 974.7L1057.6 974.4L1057.9 974.1L1058.1 973.7L1058.4 973.3L1058.7 972.9L1059.0 972.5L1059.3 972.1L1059.6 971.6L1059.9 971.2L1060.1 970.7L1060.4 970.2L1060.7 969.7L1061.0 969.1L1061.3 968.6L1061.6 968.0L1061.9 967.5L1062.1 966.9L1062.4 966.3L1062.7 965.7L1063.0 965.0L1063.3 964.4L1063.6 963.7L1063.9 963.1L1064.1 962.4L1064.4 961.7L1064.7 961.0L1065.0 960.3L1065.3 959.6L1065.6 958.9L1065.9 958.2L1066.1 957.5L1066.4 956.7L1066.7 956.0L1067.0 955.2L1067.3 954.5L1067.6 953.8L1067.9 953.0L1068.1 952.3L1068.4 951.5L1068.7 950.8L1069.0 950.0L1069.3 949.3L1069.6 948.6L1069.9 947.8L1070.1 947.1L1070.4 946.4L1070.7 945.7L1071.0 944.9L1071.3 944.2L1071.6 943.5L1071.9 942.8L1072.1 942.2L1072.4 941.5L1072.7 940.8L1073.0 940.2L1073.3 939.6L1073.6 938.9L1073.9 938.3L1074.1 937.7L1074.4 937.1L1074.7 936.6L1075.0 936.0L1075.3 935.5L1075.6 934.9L1075.9 934.4L1076.1 933.9L1076.4 933.5L1076.7 933.0L1077.0 932.5L1077.3 932.1L1077.6 931.7L1077.9 931.3L1078.1 930.9L1078.4 930.6L1078.7 930.3L1079.0 929.9L1079.3 929.6L1079.6 929.9L1079.9 930.2L1080.1 930.5L1080.4 930.9L1080.7 931.2L1081.0 931.6L1081.3 932.0L1081.6 932.4L1081.8 932.9L1082.1 933.3L1082.4 933.8L1082.7 934.3L1083.0 934.8L1083.3 935.3L1083.6 935.9L1083.8 936.4L1084.1 937.0L1084.4 937.6L1084.7 938.2L1085.0 938.8L1085.3 939.4L1085.6 940.0L1085.8 940.7L1086.1 941.3L1086.4 942.0L1086.7 942.7L1087.0 943.4L1087.3 944.1L1087.6 944.8L1087.8 945.5L1088.1 946.2L1088.4 946.9L1088.7 947.7L1089.0 948.4L1089.3 949.1L1089.6 949.9L1089.8 950.6L1090.1 951.4L1090.4 952.1L1090.7 952.8L1091.0 953.6L1091.3 954.3L1091.6 955.1L1091.8 955.8L1092.1 956.6L1092.4 957.3L1092.7 958.0L1093.0 958.7L1093.3 959.5L1093.6 960.2L1093.8 960.9L1094.1 961.6L1094.4 962.2L1094.7 962.9L1095.0 963.6L1095.3 964.2L1095.6 964.9L1095.8 965.5L1096.1 966.1L1096.4 966.7L1096.7 967.3L1097.0 967.9L1097.3 968.5L1097.6 969.0L1097.8 969.6L1098.1 970.1L1098.4 970.6L1098.7 971.1L1099.0 971.5L1099.3 972.0L1099.6 972.4L1099.8 972.8L1100.1 973.2L1100.4 973.6L1100.7 974.0L1101.0 974.3L1101.3 974.7L1101.6 975.0L1101.8 975.1L1102.1 974.8L1102.4 974.4L1102.7 974.1L1103.0 973.7L1103.3 973.4L1103.6 973.0L1103.8 972.6L1104.1 972.1L1104.4 971.7L1104.7 971.2L1105.0 970.7L1105.3 970.2L1105.6 969.7L1105.8 969.2L1106.1 968.6L1106.4 968.1L1106.7 967.5L1107.0 966.9L1107.3 966.3L1107.6 965.7L1107.8 965.1L1108.1 964.4L1108.4 963.8L1108.7 963.1L1109.0 962.5L1109.3 961.8L1109.6 961.1L1109.8 960.4L1110.1 959.7L1110.4 959.0L1110.7 958.2L1111.0 957.5L1111.3 956.8L1111.6 956.0L1111.8 955.3L1112.1 954.6L1112.4 953.8L1112.7 953.1L1113.0 952.3L1113.3 951.6L1113.6 950.9L1113.8 950.2L1114.1 949.5L1114.4 948.8L1114.7 948.1L1115.0 947.4L1115.3 946.8L1115.6 946.1L1115.8 945.4L1116.1 944.7L1116.4 944.1L1116.7 943.4L1117.0 942.8L1117.3 942.2L1117.5 941.5L1117.8 940.9L1118.1 940.3L1118.4 939.7L1118.7 939.2L1119.0 938.6L1119.3 938.0L1119.5 937.5L1119.8 937.0L1120.1 936.5L1120.4 936.0L1120.7 935.5L1121.0 935.0L1121.3 934.6L1121.5 934.1L1121.8 933.7L1122.1 933.3L1122.4 932.9L1122.7 932.5L1123.0 932.2L1123.3 931.8L1123.5 931.5L1123.8 931.2L1124.1 930.9L1124.4 931.1L1124.7 931.4L1125.0 931.7L1125.3 932.0L1125.5 932.4L1125.8 932.8L1126.1 933.1L1126.4 933.5L1126.7 934.0L1127.0 934.4L1127.3 934.8L1127.5 935.3L1127.8 935.8L1128.1 936.3L1128.4 936.8L1128.7 937.3L1129.0 937.8L1129.3 938.4L1129.5 938.9L1129.8 939.5L1130.1 940.1L1130.4 940.7L1130.7 941.3L1131.0 941.9L1131.3 942.5L1131.5 943.2L1131.8 943.8L1132.1 944.5L1132.4 945.2L1132.7 945.8L1133.0 946.5L1133.3 947.2L1133.5 947.9L1133.8 948.6L1134.1 949.3L1134.4 950.0L1134.7 950.7L1135.0 951.4L1135.3 952.1L1135.5 952.8L1135.8 953.5L1136.1 954.2L1136.4 954.9L1136.7 955.6L1137.0 956.3L1137.3 957.0L1137.5 957.6L1137.8 958.3L1138.1 959.0L1138.4 959.7L1138.7 960.3L1139.0 961.0L1139.3 961.6L1139.5 962.3L1139.8 962.9L1140.1 963.5L1140.4 964.1L1140.7 964.7L1141.0 965.3L1141.3 965.9L1141.5 966.4L1141.8 967.0L1142.1 967.5L1142.4 968.0L1142.7 968.6L1143.0 969.0L1143.3 969.5L1143.5 970.0L1143.8 970.4L1144.1 970.9L1144.4 971.3L1144.7 971.7L1145.0 972.0L1145.3 972.4L1145.5 972.8L1145.8 973.1L1146.1 973.4L1146.4 973.7L1146.7 973.8L1147.0 973.5L1147.3 973.2L1147.5 972.9L1147.8 972.6L1148.1 972.2L1148.4 971.8L1148.7 971.5L1149.0 971.1L1149.3 970.6L1149.5 970.2L1149.8 969.7L1150.1 969.3L1150.4 968.8L1150.7 968.3L1151.0 967.8L1151.3 967.2L1151.5 966.7L1151.8 966.1L1152.1 965.6L1152.4 965.0L1152.7 964.4L1153.0 963.8L1153.2 963.2L1153.5 962.6L1153.8 961.9L1154.1 961.3L1154.4 960.6L1154.7 960.0L1155.0 959.3L1155.2 958.6L1155.5 958.0L1155.8 957.3L1156.1 956.6L1156.4 955.9L1156.7 955.2L1157.0 954.5L1157.2 953.8L1157.5 953.1L1157.8 952.4L1158.1 951.7L1158.4 951.0L1158.7 950.3L1159.0 949.6L1159.2 948.9L1159.5 948.2L1159.8 947.5L1160.1 946.8L1160.4 946.1L1160.7 945.5L1161.0 944.8L1161.2 944.1L1161.5 943.5L1161.8 942.8L1162.1 942.2L1162.4 941.6L1162.7 941.0L1163.0 940.4L1163.2 939.8L1163.5 939.2L1163.8 938.6L1164.1 938.1L1164.4 937.5L1164.7 937.0L1165.0 936.5L1165.2 936.0L1165.5 935.5L1165.8 935.0L1166.1 934.6L1166.4 934.1L1166.7 933.7L1167.0 933.3L1167.2 932.9L1167.5 932.6L1167.8 932.2L1168.1 931.9L1168.4 931.5L1168.7 931.2L1169.0 931.0L1169.2 931.1L1169.5 931.4L1169.8 931.7L1170.1 932.0L1170.4 932.4L1170.7 932.7L1171.0 933.1L1171.2 933.5L1171.5 933.9L1171.8 934.3L1172.1 934.8L1172.4 935.3L1172.7 935.7L1173.0 936.2L1173.2 936.7L1173.5 937.2L1173.8 937.8L1174.1 938.3L1174.4 938.9L1174.7 939.5L1175.0 940.0L1175.2 940.6L1175.5 941.3L1175.8 941.9L1176.1 942.5L1176.4 943.1L1176.7 943.8L1177.0 944.4L1177.2 945.1L1177.5 945.8L1177.8 946.4L1178.1 947.1L1178.4 947.8L1178.7 948.5L1179.0 949.2L1179.2 949.9L1179.5 950.6L1179.8 951.3L1180.1 952.0L1180.4 952.7L1180.7 953.4L1181.0 954.1L1181.2 954.8L1181.5 955.5L1181.8 956.2L1182.1 956.9L1182.4 957.6L1182.7 958.3L1183.0 959.0L1183.2 959.6L1183.5 960.3L1183.8 960.9L1184.1 961.6L1184.4 962.2L1184.7 962.9L1185.0 963.5L1185.2 964.1L1185.5 964.7L1185.8 965.3L1186.1 965.8L1186.4 966.4L1186.7 967.0L1187.0 967.5L1187.2 968.0L1187.5 968.5L1187.8 969.0L1188.1 969.5L1188.4 969.9L1188.7 970.4L1188.9 970.8L1189.2 971.2L1189.5 971.6L1189.8 972.0L1190.1 972.4L1190.4 972.7L1190.7 973.1L1190.9 973.4L1191.2 973.7L1191.5 973.8L1191.8 973.6L1192.1 973.3L1192.4 972.9L1192.7 972.6L1192.9 972.2L1193.2 971.9L1193.5 971.5L1193.8 971.1L1194.1 970.7L1194.4 970.2L1194.7 969.8L1194.9 969.3L1195.2 968.8L1195.5 968.3L1195.8 967.8L1196.1 967.3L1196.4 966.7L1196.7 966.2L1196.9 965.6L1197.2 965.0L1197.5 964.5L1197.8 963.9L1198.1 963.2L1198.4 962.6L1198.7 962.0L1198.9 961.3L1199.2 960.7L1199.5 960.0L1199.8 959.4L1200.1 958.7L1200.4 958.0L1200.7 957.3L1200.9 956.6L1201.2 956.0L1201.5 955.3L1201.8 954.6L1202.1 953.9L1202.4 953.2L1202.7 952.4L1202.9 951.7L1203.2 951.0L1203.5 950.3L1203.8 949.6L1204.1 948.9L1204.4 948.2L1204.7 947.6L1204.9 946.9L1205.2 946.2L1205.5 945.5L1205.8 944.8L1206.1 944.2L1206.4 943.5L1206.7 942.9L1206.9 942.3L1207.2 941.6L1207.5 941.0L1207.8 940.4L1208.1 939.8L1208.4 939.2L1208.7 938.7L1208.9 938.1L1209.2 937.6L1209.5 937.0L1209.8 936.5L1210.1 936.0L1210.4 935.5L1210.7 935.1L1210.9 934.6L1211.2 934.2L1211.5 933.8L1211.8 933.4L1212.1 933.0L1212.4 932.6L1212.7 932.2L1212.9 931.9L1213.2 931.6L1213.5 931.3L1213.8 931.0L1214.1 931.1L1214.4 931.4L1214.7 931.7L1214.9 932.0L1215.2 932.3L1215.5 932.7L1215.8 933.1L1216.1 933.5L1216.4 933.9L1216.7 934.3L1216.9 934.8L1217.2 935.2L1217.5 935.7L1217.8 936.2L1218.1 936.7L1218.4 937.2L1218.7 937.7L1218.9 938.3L1219.2 938.8L1219.5 939.4L1219.8 940.0L1220.1 940.6L1220.4 941.2L1220.7 941.8L1220.9 942.4L1221.2 943.1L1221.5 943.7L1221.8 944.4L1222.1 945.0L1222.4 945.7L1222.7 946.4L1222.9 947.1L1223.2 947.8L1223.5 948.5L1223.8 949.1L1224.1 949.8L1224.4 950.5L1224.6 951.2L1224.9 952.0L1225.2 952.7L1225.5 953.4L1225.8 954.1L1226.1 954.8L1226.4 955.5L1226.6 956.2L1226.9 956.9L1227.2 957.5L1227.5 958.2L1227.8 958.9L1228.1 959.6L1228.4 960.2L1228.6 960.9L1228.9 961.5L1229.2 962.2L1229.5 962.8L1229.8 963.4L1230.1 964.0L1230.4 964.6L1230.6 965.2L1230.9 965.8L1231.2 966.4L1231.5 966.9L1231.8 967.4L1232.1 968.0L1232.4 968.5L1232.6 969.0L1232.9 969.4L1233.2 969.9L1233.5 970.4L1233.8 970.8L1234.1 971.2L1234.4 971.6L1234.6 972.0L1234.9 972.4L1235.2 972.7L1235.5 973.0L1235.8 973.3L1236.1 973.6L1236.4 973.9L1236.6 973.6L1236.9 973.3L1237.2 973.0L1237.5 972.6L1237.8 972.3L1238.1 971.9L1238.4 971.5L1238.6 971.1L1238.9 970.7L1239.2 970.3L1239.5 969.8L1239.8 969.3L1240.1 968.9L1240.4 968.4L1240.6 967.9L1240.9 967.3L1241.2 966.8L1241.5 966.2L1241.8 965.7L1242.1 965.1L1242.4 964.5L1242.6 963.9L1242.9 963.3L1243.2 962.7L1243.5 962.0L1243.8 961.4L1244.1 960.7L1244.4 960.1L1244.6 959.4L1244.9 958.8L1245.2 958.1L1245.5 957.4L1245.8 956.7L1246.1 956.0L1246.4 955.3L1246.6 954.6L1246.9 953.9L1247.2 953.2L1247.5 952.5L1247.8 951.8L1248.1 951.1L1248.4 950.4L1248.6 949.7L1248.9 949.0L1249.2 948.3L1249.5 947.6L1249.8 946.9L1250.1 946.2L1250.4 945.6L1250.6 944.9L1250.9 944.2L1251.2 943.6L1251.5 942.9L1251.8 942.3L1252.1 941.7L1252.4 941.1L1252.6 940.5L1252.9 939.9L1253.2 939.3L1253.5 938.7L1253.8 938.2L1254.1 937.6L1254.4 937.1L1254.6 936.6L1254.9 936.1L1255.2 935.6L1255.5 935.1L1255.8 934.7L1256.1 934.2L1256.4 933.8L1256.6 933.4L1256.9 933.0L1257.2 932.6L1257.5 932.3L1257.8 931.9L1258.1 931.6L1258.4 931.3L1258.6 931.0L1258.9 931.0L1259.2 931.3L1259.5 931.6L1259.8 932.0L1260.1 932.3L1260.3 932.7L1260.6 933.0L1260.9 933.4L1261.2 933.9L1261.5 934.3L1261.8 934.7L1262.1 935.2L1262.3 935.7L1262.6 936.1L1262.9 936.6L1263.2 937.2L1263.5 937.7L1263.8 938.2L1264.1 938.8L1264.3 939.4L1264.6 940.0L1264.9 940.5L1265.2 941.2L1265.5 941.8L1265.8 942.4L1266.1 943.0L1266.3 943.7L1266.6 944.3L1266.9 945.0L1267.2 945.7L1267.5 946.3L1267.8 947.0L1268.1 947.7L1268.3 948.4L1268.6 949.1L1268.9 949.8L1269.2 950.5L1269.5 951.2L1269.8 951.9L1270.1 952.6L1270.3 953.3L1270.6 954.0L1270.9 954.7L1271.2 955.4L1271.5 956.1L1271.8 956.8L1272.1 957.5L1272.3 958.2L1272.6 958.8L1272.9 959.5L1273.2 960.2L1273.5 960.8L1273.8 961.5L1274.1 962.1L1274.3 962.8L1274.6 963.4L1274.9 964.0L1275.2 964.6L1275.5 965.2L1275.8 965.8L1276.1 966.3L1276.3 966.9L1276.6 967.4L1276.9 967.9L1277.2 968.4L1277.5 968.9L1277.8 969.4L1278.1 969.9L1278.3 970.3L1278.6 970.8L1278.9 971.2L1279.2 971.6L1279.5 972.0L1279.8 972.3L1280.1 972.7L1280.3 973.0L1280.6 973.3L1280.9 973.6L1281.2 973.9L1281.5 973.6L1281.8 973.3L1282.1 973.0L1282.3 972.7L1282.6 972.3L1282.9 971.9L1283.2 971.6L1283.5 971.1L1283.8 970.7L1284.1 970.3L1284.3 969.8L1284.6 969.4L1284.9 968.9L1285.2 968.4L1285.5 967.9L1285.8 967.4L1286.1 966.8L1286.3 966.3L1286.6 965.7L1286.9 965.1L1287.2 964.6L1287.5 964.0L1287.8 963.3L1288.1 962.7L1288.3 962.1L1288.6 961.4L1288.9 960.8L1289.2 960.1L1289.5 959.5L1289.8 958.8L1290.1 958.1L1290.3 957.4L1290.6 956.8L1290.9 956.1L1291.2 955.4L1291.5 954.7L1291.8 954.0L1292.1 953.3L1292.3 952.6L1292.6 951.9L1292.9 951.2L1293.2 950.4L1293.5 949.7L1293.8 949.1L1294.1 948.4L1294.3 947.7L1294.6 947.0L1294.9 946.3L1295.2 945.6L1295.5 945.0L1295.8 944.3L1296.0 943.6L1296.3 943.0L1296.6 942.4L1296.9 941.7L1297.2 941.1L1297.5 940.5L1297.8 939.9L1298.0 939.3L1298.3 938.8L1298.6 938.2L1298.9 937.7L1299.2 937.1L1299.5 936.6L1299.8 936.1L1300.0 935.6L1300.3 935.2L1300.6 934.7L1300.9 934.3L1301.2 933.8L1301.5 933.4L1301.8 933.0L1302.0 932.6L1302.3 932.3L1302.6 931.9L1302.9 931.6L1303.2 931.3L1303.5 931.0L1303.8 931.0L1304.0 931.3L1304.3 931.6L1304.6 931.9L1304.9 932.3L1305.2 932.6L1305.5 933.0L1305.8 933.4L1306.0 933.8L1306.3 934.2L1306.6 934.7L1306.9 935.1L1307.2 935.6L1307.5 936.1L1307.8 936.6L1308.0 937.1L1308.3 937.7L1308.6 938.2L1308.9 938.8L1309.2 939.3L1309.5 939.9L1309.8 940.5L1310.0 941.1L1310.3 941.7L1310.6 942.3L1310.9 943.0L1311.2 943.6L1311.5 944.3L1311.8 944.9L1312.0 945.6L1312.3 946.3L1312.6 947.0L1312.9 947.7L1313.2 948.3L1313.5 949.0L1313.8 949.7L1314.0 950.4L1314.3 951.1L1314.6 951.8L1314.9 952.5L1315.2 953.2L1315.5 954.0L1315.8 954.7L1316.0 955.4L1316.3 956.0L1316.6 956.7L1316.9 957.4L1317.2 958.1L1317.5 958.8L1317.8 959.5L1318.0 960.1L1318.3 960.8L1318.6 961.4L1318.9 962.1L1319.2 962.7L1319.5 963.3L1319.8 963.9L1320.0 964.5L1320.3 965.1L1320.6 965.7L1320.9 966.3L1321.2 966.8L1321.5 967.4L1321.8 967.9L1322.0 968.4L1322.3 968.9L1322.6 969.4L1322.9 969.8L1323.2 970.3L1323.5 970.7L1323.8 971.1L1324.0 971.5L1324.3 971.9L1324.6 972.3L1324.9 972.6L1325.2 973.0L1325.5 973.3L1325.8 973.6L1326.0 973.9L1326.3 973.6L1326.6 973.3L1326.9 973.0L1327.2 972.7L1327.5 972.3L1327.8 972.0L1328.0 971.6L1328.3 971.2L1328.6 970.8L1328.9 970.3L1329.2 969.9L1329.5 969.4L1329.8 968.9L1330.0 968.4L1330.3 967.9L1330.6 967.4L1330.9 966.9L1331.2 966.3L1331.5 965.8L1331.7 965.2L1332.0 964.6L1332.3 964.0L1332.6 963.4L1332.9 962.8L1333.2 962.1L1333.5 961.5L1333.7 960.9L1334.0 960.2L1334.3 959.5L1334.6 958.9L1334.9 958.2L1335.2 957.5L1335.5 956.8L1335.7 956.1L1336.0 955.4L1336.3 954.7L1336.6 954.0L1336.9 953.3L1337.2 952.6L1337.5 951.9L1337.7 951.2L1338.0 950.5L1338.3 949.8L1338.6 949.1L1338.9 948.4L1339.2 947.7L1339.5 947.0L1339.7 946.4L1340.0 945.7L1340.3 945.0L1340.6 944.3L1340.9 943.7L1341.2 943.0L1341.5 942.4L1341.7 941.8L1342.0 941.2L1342.3 940.6L1342.6 940.0L1342.9 939.4L1343.2 938.8L1343.5 938.3L1343.7 937.7L1344.0 937.2L1344.3 936.7L1344.6 936.2L1344.9 935.7L1345.2 935.2L1345.5 934.7L1345.7 934.3L1346.0 933.9L1346.3 933.4L1346.6 933.1L1346.9 932.7L1347.2 932.3L1347.5 932.0L1347.7 931.6L1348.0 931.3L1348.3 931.0L1348.6 931.0L1348.9 931.3L1349.2 931.6L1349.5 931.9L1349.7 932.3L1350.0 932.6L1350.3 933.0L1350.6 933.4L1350.9 933.8L1351.2 934.2L1351.5 934.6L1351.7 935.1L1352.0 935.6L1352.3 936.1L1352.6 936.6L1352.9 937.1L1353.2 937.6L1353.5 938.2L1353.7 938.7L1354.0 939.3L1354.3 939.9L1354.6 940.5L1354.9 941.1L1355.2 941.7L1355.5 942.3L1355.7 942.9L1356.0 943.6L1356.3 944.2L1356.6 944.9L1356.9 945.6L1357.2 946.2L1357.5 946.9L1357.7 947.6L1358.0 948.3L1358.3 949.0L1358.6 949.7L1358.9 950.4L1359.2 951.1L1359.5 951.8L1359.7 952.5L1360.0 953.2L1360.3 953.9L1360.6 954.6L1360.9 955.3L1361.2 956.0L1361.5 956.7L1361.7 957.4L1362.0 958.1L1362.3 958.7L1362.6 959.4L1362.9 960.1L1363.2 960.7L1363.5 961.4L1363.7 962.0L1364.0 962.7L1364.3 963.3L1364.6 963.9L1364.9 964.5L1365.2 965.1L1365.5 965.7L1365.7 966.2L1366.0 966.8L1366.3 967.3L1366.6 967.8L1366.9 968.4L1367.2 968.9L1367.4 969.3L1367.7 969.8L1368.0 970.3L1368.3 970.7L1368.6 971.1L1368.9 971.5L1369.2 971.9L1369.4 972.3L1369.7 972.6L1370.0 973.0L1370.3 973.3L1370.6 973.6L1370.9 973.9L1371.2 973.7L1371.4 973.4L1371.7 973.0L1372.0 972.7L1372.3 972.4L1372.6 972.0L1372.9 971.6L1373.2 971.2L1373.4 970.8L1373.7 970.4L1374.0 969.9L1374.3 969.5L1374.6 969.0L1374.9 968.5L1375.2 968.0L1375.4 967.5L1375.7 966.9L1376.0 966.4L1376.3 965.8L1376.6 965.2L1376.9 964.6L1377.2 964.0L1377.4 963.4L1377.7 962.8L1378.0 962.2L1378.3 961.6L1378.6 960.9L1378.9 960.2L1379.2 959.6L1379.4 958.9L1379.7 958.2L1380.0 957.6L1380.3 956.9L1380.6 956.2L1380.9 955.5L1381.2 954.8L1381.4 954.1L1381.7 953.4L1382.0 952.7L1382.3 952.0L1382.6 951.3L1382.9 950.6L1383.2 949.9L1383.4 949.2L1383.7 948.5L1384.0 947.8L1384.3 947.1L1384.6 946.4L1384.9 945.7L1385.2 945.1L1385.4 944.4L1385.7 943.7L1386.0 943.1L1386.3 942.5L1386.6 941.8L1386.9 941.2L1387.2 940.6L1387.4 940.0L1387.7 939.4L1388.0 938.9L1388.3 938.3L1388.6 937.7L1388.9 937.2L1389.2 936.7L1389.4 936.2L1389.7 935.7L1390.0 935.2L1390.3 934.8L1390.6 934.3L1390.9 933.9L1391.2 933.5L1391.4 933.1L1391.7 932.7L1392.0 932.3L1392.3 932.0L1392.6 931.7L1392.9 931.4L1393.2 931.1L1393.4 931.0L1393.7 931.3L1394.0 931.6L1394.3 931.9L1394.6 932.2L1394.9 932.6L1395.2 933.0L1395.4 933.3L1395.7 933.8L1396.0 934.2L1396.3 934.6L1396.6 935.1L1396.9 935.5L1397.2 936.0L1397.4 936.5L1397.7 937.0L1398.0 937.6L1398.3 938.1L1398.6 938.7L1398.9 939.2L1399.2 939.8L1399.4 940.4L1399.7 941.0L1400.0 941.6L1400.3 942.2L1400.6 942.9L1400.9 943.5L1401.2 944.2L1401.4 944.8L1401.7 945.5L1402.0 946.2L1402.3 946.9L1402.6 947.5L1402.9 948.2L1403.1 948.9L1403.4 949.6L1403.7 950.3L1404.0 951.0L1404.3 951.7L1404.6 952.4L1404.9 953.1L1405.1 953.8L1405.4 954.5L1405.7 955.2L1406.0 955.9L1406.3 956.6L1406.6 957.3L1406.9 958.0L1407.1 958.7L1407.4 959.4L1407.7 960.0L1408.0 960.7L1408.3 961.3L1408.6 962.0L1408.9 962.6L1409.1 963.2L1409.4 963.8L1409.7 964.4L1410.0 965.0L1410.3 965.6L1410.6 966.2L1410.9 966.7L1411.1 967.3L1411.4 967.8L1411.7 968.3L1412.0 968.8L1412.3 969.3L1412.6 969.8L1412.9 970.2L1413.1 970.7L1413.4 971.1L1413.7 971.5L1414.0 971.9L1414.3 972.2L1414.6 972.6L1414.9 972.9L1415.1 973.3L1415.4 973.6L1415.7 973.8L1416.0 973.7L1416.3 973.4L1416.6 973.1L1416.9 972.7L1417.1 972.4L1417.4 972.0L1417.7 971.6L1418.0 971.2L1418.3 970.8L1418.6 970.4L1418.9 970.0L1419.1 969.5L1419.4 969.0L1419.7 968.5L1420.0 968.0L1420.3 967.5L1420.6 967.0L1420.9 966.4L1421.1 965.9L1421.4 965.3L1421.7 964.7L1422.0 964.1L1422.3 963.5L1422.6 962.9L1422.9 962.2L1423.1 961.6L1423.4 961.0L1423.7 960.3L1424.0 959.6L1424.3 959.0L1424.6 958.3L1424.9 957.6L1425.1 956.9L1425.4 956.2L1425.7 955.5L1426.0 954.8L1426.3 954.1L1426.6 953.4L1426.9 952.7L1427.1 952.0L1427.4 951.3L1427.7 950.6L1428.0 949.9L1428.3 949.2L1428.6 948.5L1428.9 947.8L1429.1 947.1L1429.4 946.5L1429.7 945.8L1430.0 945.1L1430.3 944.5L1430.6 943.8L1430.9 943.1L1431.1 942.5L1431.4 941.9L1431.7 941.3L1432.0 940.7L1432.3 940.1L1432.6 939.5L1432.9 938.9L1433.1 938.3L1433.4 937.8L1433.7 937.3L1434.0 936.7L1434.3 936.2L1434.6 935.7L1434.9 935.3L1435.1 934.8L1435.4 934.4L1435.7 933.9L1436.0 933.5L1436.3 933.1L1436.6 932.7L1436.9 932.4L1437.1 932.0L1437.4 931.7L1437.7 931.4L1438.0 931.1L1438.3 930.9L1438.6 931.2L1438.8 931.5L1439.1 931.9L1439.4 932.2L1439.7 932.6L1440.0 932.9L1440.3 933.3L1440.6 933.7L1440.8 934.1L1441.1 934.6L1441.4 935.0L1441.7 935.5L1442.0 936.0L1442.3 936.5L1442.6 937.0L1442.8 937.5L1443.1 938.1L1443.4 938.6L1443.7 939.2L1444.0 939.8L1444.3 940.4L1444.6 941.0L1444.8 941.6L1445.1 942.2L1445.4 942.8L1445.7 943.5L1446.0 944.1L1446.3 944.8L1446.6 945.4L1446.8 946.1L1447.1 946.8L1447.4 947.5L1447.7 948.2L1448.0 948.9L1448.3 949.6L1448.6 950.3L1448.8 951.0L1449.1 951.7L1449.4 952.4L1449.7 953.1L1450.0 953.8L1450.3 954.5L1450.6 955.2L1450.8 955.9L1451.1 956.6L1451.4 957.3L1451.7 957.9L1452.0 958.6L1452.3 959.3L1452.6 960.0L1452.8 960.6L1453.1 961.3L1453.4 961.9L1453.7 962.6L1454.0 963.2L1454.3 963.8L1454.6 964.4L1454.8 965.0L1455.1 965.6L1455.4 966.1L1455.7 966.7L1456.0 967.2L1456.3 967.8L1456.6 968.3L1456.8 968.8L1457.1 969.3L1457.4 969.7L1457.7 970.2L1458.0 970.6L1458.3 971.0L1458.6 971.4L1458.8 971.8L1459.1 972.2L1459.4 972.6L1459.7 972.9L1460.0 973.2L1460.3 973.5L1460.6 973.8L1460.8 973.7L1461.1 973.4L1461.4 973.1L1461.7 972.8L1462.0 972.4L1462.3 972.1L1462.6 971.7L1462.8 971.3L1463.1 970.9L1463.4 970.4L1463.7 970.0L1464.0 969.5L1464.3 969.1L1464.6 968.6L1464.8 968.1L1465.1 967.5L1465.4 967.0L1465.7 966.5L1466.0 965.9L1466.3 965.3L1466.6 964.7L1466.8 964.1L1467.1 963.5L1467.4 962.9L1467.7 962.3L1468.0 961.7L1468.3 961.0L1468.6 960.4L1468.8 959.7L1469.1 959.0L1469.4 958.3L1469.7 957.7L1470.0 957.0L1470.3 956.3L1470.6 955.6L1470.8 954.9L1471.1 954.2L1471.4 953.5L1471.7 952.8L1472.0 952.1L1472.3 951.4L1472.6 950.7L1472.8 950.0L1473.1 949.3L1473.4 948.6L1473.7 947.9L1474.0 947.2L1474.3 946.5L1474.5 945.8L1474.8 945.2L1475.1 944.5L1475.4 943.8L1475.7 943.2L1476.0 942.6L1476.3 941.9L1476.5 941.3L1476.8 940.7L1477.1 940.1L1477.4 939.5L1477.7 938.9L1478.0 938.4L1478.3 937.8L1478.5 937.3L1478.8 936.8L1479.1 936.3L1479.4 935.8L1479.7 935.3L1480.0 934.8L1480.3 934.4L1480.5 934.0L1480.8 933.5L1481.1 933.1L1481.4 932.8L1481.7 932.4L1482.0 932.1L1482.3 931.7L1482.5 931.4L1482.8 931.1L1483.1 930.9L1483.4 931.2L1483.7 931.5L1484.0 931.8L1484.3 932.2L1484.5 932.5L1484.8 932.9L1485.1 933.3L1485.4 933.7L1485.7 934.1L1486.0 934.5L1486.3 935.0L1486.5 935.5L1486.8 935.9L1487.1 936.4L1487.4 937.0L1487.7 937.5L1488.0 938.0L1488.3 938.6L1488.5 939.1L1488.8 939.7L1489.1 940.3L1489.4 940.9L1489.7 941.5L1490.0 942.1L1490.3 942.8L1490.5 943.4L1490.8 944.1L1491.1 944.7L1491.4 945.4L1491.7 946.1L1492.0 946.7L1492.3 947.4L1492.5 948.1L1492.8 948.8L1493.1 949.5L1493.4 950.2L1493.7 950.9L1494.0 951.6L1494.3 952.3L1494.5 953.0L1494.8 953.7L1495.1 954.4L1495.4 955.1L1495.7 955.8L1496.0 956.5L1496.3 957.2L1496.5 957.9L1496.8 958.6L1497.1 959.2L1497.4 959.9L1497.7 960.6L1498.0 961.2L1498.3 961.9L1498.5 962.5L1498.8 963.1L1499.1 963.7L1499.4 964.4L1499.7 964.9L1500.0 965.5L1500.3 966.1L1500.5 966.6L1500.8 967.2L1501.1 967.7L1501.4 968.2L1501.7 968.7L1502.0 969.2L1502.3 969.7L1502.5 970.1L1502.8 970.6L1503.1 971.0L1503.4 971.4L1503.7 971.8L1504.0 972.2L1504.3 972.5L1504.5 972.9L1504.8 973.2L1505.1 973.5L1505.4 973.8L1505.7 973.7L1506.0 973.4L1506.3 973.1L1506.5 972.8L1506.8 972.4L1507.1 972.1L1507.4 971.7L1507.7 971.3L1508.0 970.9L1508.3 970.5L1508.5 970.0L1508.8 969.6L1509.1 969.1L1509.4 968.6L1509.7 968.1L1510.0 967.6L1510.2 967.1L1510.5 966.5L1510.8 965.9L1511.1 965.4L1511.4 964.8L1511.7 964.2L1512.0 963.6L1512.2 963.0L1512.5 962.3L1512.8 961.7L1513.1 961.1L1513.4 960.4L1513.7 959.7L1514.0 959.1L1514.2 958.4L1514.5 957.7L1514.8 957.0L1515.1 956.3L1515.4 955.6L1515.7 954.9L1516.0 954.2L1516.2 953.5L1516.5 952.8L1516.8 952.1L1517.1 951.4L1517.4 950.7L1517.7 950.0L1518.0 949.3L1518.2 948.6L1518.5 947.9L1518.8 947.3L1519.1 946.6L1519.4 945.9L1519.7 945.2L1520.0 944.6L1520.2 943.9L1520.5 943.3L1520.8 942.6L1521.1 942.0L1521.4 941.4L1521.7 940.8L1522.0 940.2L1522.2 939.6L1522.5 939.0L1522.8 938.4L1523.1 937.9L1523.4 937.3L1523.7 936.8L1524.0 936.3L1524.2 935.8L1524.5 935.3L1524.8 934.9L1525.1 934.4L1525.4 934.0L1525.7 933.6L1526.0 933.2L1526.2 932.8L1526.5 932.4L1526.8 932.1L1527.1 931.7L1527.4 931.4L1527.7 931.1L1528.0 930.9L1528.2 931.2L1528.5 931.5L1528.8 931.8L1529.1 932.1L1529.4 932.5L1529.7 932.9L1530.0 933.3L1530.2 933.7L1530.5 934.1L1530.8 934.5L1531.1 935.0L1531.4 935.4L1531.7 935.9L1532.0 936.4L1532.2 936.9L1532.5 937.4L1532.8 938.0L1533.1 938.5L1533.4 939.1L1533.7 939.7L1534.0 940.3L1534.2 940.9L1534.5 941.5L1534.8 942.1L1535.1 942.7L1535.4 943.4L1535.7 944.0L1536.0 944.7L1536.2 945.3L1536.5 946.0L1536.8 946.7L1537.1 947.4L1537.4 948.1L1537.7 948.8L1538.0 949.5L1538.2 950.2L1538.5 950.9L1538.8 951.6L1539.1 952.3L1539.4 953.0L1539.7 953.7L1540.0 954.4L1540.2 955.1L1540.5 955.8L1540.8 956.5L1541.1 957.2L1541.4 957.8L1541.7 958.5L1542.0 959.2L1542.2 959.9L1542.5 960.5L1542.8 961.2L1543.1 961.8L1543.4 962.5L1543.7 963.1L1544.0 963.7L1544.2 964.3L1544.5 964.9L1544.8 965.5L1545.1 966.0L1545.4 966.6L1545.7 967.1L1545.9 967.7L1546.2 968.2L1546.5 968.7L1546.8 969.2L1547.1 969.7L1547.4 970.1L1547.7 970.6L1547.9 971.0L1548.2 971.4L1548.5 971.8L1548.8 972.2L1549.1 972.5L1549.4 972.9L1549.7 973.2L1549.9 973.5L1550.2 973.8L1550.5 973.7L1550.8 973.5L1551.1 973.1L1551.4 972.8L1551.7 972.5L1551.9 972.1L1552.2 971.7L1552.5 971.3L1552.8 970.9L1553.1 970.5L1553.4 970.1L1553.7 969.6L1553.9 969.1L1554.2 968.6L1554.5 968.1L1554.8 967.6L1555.1 967.1L1555.4 966.5L1555.7 966.0L1555.9 965.4L1556.2 964.8L1556.5 964.2L1556.8 963.6L1557.1 963.0L1557.4 962.4L1557.7 961.8L1557.9 961.1L1558.2 960.5L1558.5 959.8L1558.8 959.1L1559.1 958.5L1559.4 957.8L1559.7 957.1L1559.9 956.4L1560.2 955.7L1560.5 955.0L1560.8 954.3L1561.1 953.6L1561.4 952.9L1561.7 952.2L1561.9 951.5L1562.2 950.8L1562.5 950.1L1562.8 949.4L1563.1 948.7L1563.4 948.0L1563.7 947.3L1563.9 946.6L1564.2 945.9L1564.5 945.3L1564.8 944.6L1565.1 944.0L1565.4 943.3L1565.7 942.7L1565.9 942.0L1566.2 941.4L1566.5 940.8L1566.8 940.2L1567.1 939.6L1567.4 939.0L1567.7 938.5L1567.9 937.9L1568.2 937.4L1568.5 936.9L1568.8 936.4L1569.1 935.9L1569.4 935.4L1569.7 934.9L1569.9 934.5L1570.2 934.0L1570.5 933.6L1570.8 933.2L1571.1 932.8L1571.4 932.5L1571.7 932.1L1571.9 931.8L1572.2 931.5L1572.5 931.2L1572.8 930.9L1573.1 931.2L1573.4 931.5L1573.7 931.8L1573.9 932.1L1574.2 932.5L1574.5 932.8L1574.8 933.2L1575.1 933.6L1575.4 934.0L1575.7 934.5L1575.9 934.9L1576.2 935.4L1576.5 935.9L1576.8 936.4L1577.1 936.9L1577.4 937.4L1577.7 937.9L1577.9 938.5L1578.2 939.0L1578.5 939.6L1578.8 940.2L1579.1 940.8L1579.4 941.4L1579.7 942.0L1579.9 942.7L1580.2 943.3L1580.5 944.0L1580.8 944.6L1581.1 945.3L1581.4 946.0L1581.6 946.6L1581.9 947.3L1582.2 948.0L1582.5 948.7L1582.8 949.4L1583.1 950.1L1583.4 950.8L1583.6 951.5L1583.9 952.2L1584.2 952.9L1584.5 953.6L1584.8 954.3L1585.1 955.0L1585.4 955.7L1585.6 956.4L1585.9 957.1L1586.2 957.8L1586.5 958.5L1586.8 959.1L1587.1 959.8L1587.4 960.5L1587.6 961.1L1587.9 961.8L1588.2 962.4L1588.5 963.0L1588.8 963.6L1589.1 964.3L1589.4 964.8L1589.6 965.4L1589.9 966.0L1590.2 966.6L1590.5 967.1L1590.8 967.6L1591.1 968.2L1591.4 968.7L1591.6 969.1L1591.9 969.6L1592.2 970.1L1592.5 970.5L1592.8 970.9L1593.1 971.4L1593.4 971.7L1593.6 972.1L1593.9 972.5L1594.2 972.8L1594.5 973.2L1594.8 973.5L1595.1 973.8L1595.4 973.8L1595.6 973.5L1595.9 973.2L1596.2 972.8L1596.5 972.5L1596.8 972.1L1597.1 971.8L1597.4 971.4L1597.6 971.0L1597.9 970.5L1598.2 970.1L1598.5 969.6" stroke="#0000ff" stroke-width="10" stroke-dasharray="27 25"/>
<path d="M170.5 952.4L170.8 944.7L171.1 937.1L171.4 929.6L171.6 922.3L171.9 915.0L172.2 907.9L172.5 900.9L172.8 894.0L173.1 887.3L173.4 880.7L173.6 874.3L173.9 867.9L174.2 861.7L174.5 855.4L174.8 849.1L175.1 842.7L175.4 836.3L175.6 830.1L175.9 824.1L176.2 818.4L176.5 813.0L176.8 808.0L177.1 803.5L177.4 799.5L177.6 796.1L177.9 793.0L178.2 789.9L178.5 786.9L178.8 784.0L179.1 781.2L179.4 778.4L179.6 775.9L179.9 773.5L180.2 771.4L180.5 769.5L180.8 767.9L181.1 766.6L181.4 765.6L181.6 765.0L181.9 764.8L182.2 765.1L182.5 765.8L182.8 767.0L183.1 768.7L183.4 770.7L183.6 773.1L183.9 775.8L184.2 778.8L184.5 782.1L184.8 785.5L185.1 789.2L185.4 793.0L185.6 796.9L185.9 800.9L186.2 804.9L186.5 808.9L186.8 812.9L187.1 816.8L187.4 821.2L187.6 826.0L187.9 831.2L188.2 836.7L188.5 842.6L188.8 848.7L189.1 855.1L189.3 861.7L189.6 868.6L189.9 875.6L190.2 882.7L190.5 889.9L190.8 897.2L191.1 904.5L191.3 911.8L191.6 919.1L191.9 926.4L192.2 933.5L192.5 940.5L192.8 947.4L193.1 954.1L193.3 960.9L193.6 968.1L193.9 975.5L194.2 983.0L194.5 990.8L194.8 998.6L195.1 1006.5L195.3 1014.4L195.6 1022.2L195.9 1030.0L196.2 1037.6L196.5 1045.0L196.8 1052.3L197.1 1059.2L197.3 1065.8L197.6 1072.1L197.9 1077.9L198.2 1083.3L198.5 1088.2L198.8 1092.5L199.1 1096.2L199.3 1099.6L199.6 1103.0L199.9 1106.4L200.2 1109.7L200.5 1112.9L200.8 1116.0L201.1 1119.0L201.3 1121.8L201.6 1124.5L201.9 1126.9L202.2 1129.1L202.5 1131.0L202.8 1132.6L203.1 1133.9L203.3 1134.9L203.6 1135.5L203.9 1135.7L204.2 1135.3L204.5 1133.9L204.8 1131.8L205.1 1129.0L205.3 1125.6L205.6 1121.5L205.9 1117.0L206.2 1112.1L206.5 1106.8L206.8 1101.3L207.1 1095.6L207.3 1089.8L207.6 1083.9L207.9 1078.1L208.2 1072.4L208.5 1066.9L208.8 1061.6L209.1 1056.7L209.3 1052.2L209.6 1048.2L209.9 1044.3L210.2 1040.7L210.5 1037.0L210.8 1033.2L211.1 1029.2L211.3 1024.8L211.6 1019.9L211.9 1014.1L212.2 1007.8L212.5 1001.3L212.8 995.2L213.1 989.8L213.3 985.0L213.6 980.6L213.9 976.5L214.2 972.3L214.5 967.8L214.8 962.9L215.1 957.2L215.3 950.6L215.6 942.9L215.9 933.9L216.2 923.7L216.5 912.2L216.8 899.6L217.1 885.9L217.3 870.9L217.6 851.8L217.9 828.7L218.2 802.8L218.5 775.7L218.8 748.5L219.1 722.8L219.3 699.8L219.6 679.6L219.9 661.0L220.2 643.2L220.5 625.6L220.8 607.3L221.1 587.7L221.3 566.4L221.6 544.2L221.9 520.8L222.2 495.6L222.5 468.2L222.8 436.7L223.1 396.1L223.3 350.4L223.6 305.1L223.9 265.5L224.2 237.1L224.5 217.1L224.8 199.1L225.0 183.2L225.3 169.2L225.6 157.3L225.9 147.4L226.2 139.5L226.5 132.7L226.8 126.2L227.0 120.1L227.3 114.6L227.6 109.7L227.9 105.8L228.2 102.9L228.5 101.2L228.8 100.8L229.0 102.0L229.3 104.6L229.6 108.3L229.9 113.0L230.2 118.4L230.5 124.3L230.8 130.4L231.0 136.5L231.3 142.6L231.6 149.4L231.9 157.0L232.2 165.3L232.5 174.3L232.8 183.8L233.0 193.8L233.3 204.2L233.6 215.0L233.9 225.9L234.2 237.1L234.5 248.6L234.8 260.9L235.0 273.9L235.3 287.4L235.6 301.4L235.9 315.9L236.2 330.7L236.5 345.8L236.8 361.2L237.0 376.7L237.3 392.3L237.6 407.9L237.9 423.4L238.2 439.4L238.5 456.5L238.8 474.3L239.0 492.8L239.3 511.7L239.6 530.8L239.9 550.1L240.2 569.3L240.5 588.2L240.8 606.6L241.0 624.5L241.3 641.5L241.6 657.6L241.9 672.5L242.2 686.1L242.5 698.1L242.8 708.6L243.0 718.4L243.3 727.7L243.6 736.4L243.9 744.7L244.2 752.6L244.5 760.1L244.8 767.3L245.0 774.2L245.3 780.9L245.6 787.4L245.9 793.7L246.2 799.9L246.5 806.0L246.8 812.1L247.0 818.2L247.3 824.4L247.6 830.7L247.9 837.1L248.2 843.7L248.5 850.5L248.8 857.6L249.0 865.1L249.3 872.8L249.6 881.1L249.9 889.8L250.2 898.9L250.5 908.1L250.8 917.5L251.0 926.7L251.3 935.7L251.6 944.3L251.9 952.4L252.2 960.1L252.5 967.6L252.8 975.0L253.0 982.2L253.3 989.2L253.6 996.0L253.9 1002.6L254.2 1009.1L254.5 1015.2L254.8 1021.2L255.0 1019.3L255.3 1017.3L255.6 1015.2L255.9 1012.9L256.2 1010.5L256.5 1007.9L256.8 1005.2L257.0 1002.4L257.3 999.4L257.6 996.3L257.9 993.1L258.2 989.8L258.5 986.3L258.8 982.7L259.0 979.0L259.3 975.2L259.6 971.4L259.9 967.4L260.2 963.3L260.5 959.2L260.7 954.9L261.0 950.7L261.3 946.3L261.6 941.9L261.9 937.5L262.2 933.0L262.5 928.5L262.7 924.0L263.0 919.4L263.3 914.9L263.6 910.3L263.9 905.8L264.2 901.2L264.5 896.7L264.7 892.3L265.0 887.8L265.3 883.4L265.6 879.1L265.9 874.8L266.2 870.6L266.5 866.4L266.7 862.4L267.0 858.4L267.3 854.5L267.6 850.7L267.9 847.0L268.2 843.5L268.5 840.0L268.7 836.6L269.0 833.4L269.3 830.3L269.6 827.3L269.9 824.5L270.2 821.8L270.5 819.2L270.7 816.8L271.0 814.5L271.3 812.4L271.6 810.4L271.9 808.6L272.2 810.9L272.5 813.3L272.7 815.8L273.0 818.5L273.3 821.3L273.6 824.3L273.9 827.4L274.2 830.6L274.5 833.9L274.7 837.4L275.0 841.0L275.3 844.7L275.6 848.6L275.9 852.5L276.2 856.6L276.5 860.8L276.7 865.1L277.0 869.5L277.3 874.0L277.6 878.6L277.9 883.3L278.2 888.1L278.5 893.0L278.7 898.0L279.0 903.0L279.3 908.1L279.6 913.3L279.9 918.6L280.2 923.9L280.5 929.3L280.7 934.7L281.0 940.2L281.3 945.8L281.6 951.3L281.9 956.9L282.2 962.6L282.5 968.2L282.7 973.9L283.0 979.6L283.3 985.3L283.6 991.0L283.9 996.7L284.2 1002.3L284.5 1008.0L284.7 1013.6L285.0 1019.3L285.3 1024.9L285.6 1030.4L285.9 1035.9L286.2 1041.4L286.5 1046.9L286.7 1052.2L287.0 1057.5L287.3 1062.8L287.6 1068.0L287.9 1073.1L288.2 1078.1L288.5 1083.1L288.7 1087.9L289.0 1092.7L289.3 1097.4L289.6 1102.0L289.9 1106.4L290.2 1110.8L290.5 1115.1L290.7 1119.2L291.0 1123.3L291.3 1127.2L291.6 1131.0L291.9 1134.7L292.2 1138.3L292.5 1141.7L292.7 1145.0L293.0 1148.2L293.3 1151.3L293.6 1154.2L293.9 1157.0L294.2 1159.6L294.5 1162.2L294.7 1164.5L295.0 1165.5L295.3 1162.6L295.6 1159.5L295.9 1156.3L296.2 1152.8L296.4 1149.2L296.7 1145.4L297.0 1141.4L297.3 1137.3L297.6 1133.0L297.9 1128.5L298.2 1123.9L298.4 1119.1L298.7 1114.1L299.0 1109.0L299.3 1103.8L299.6 1098.4L299.9 1092.8L300.2 1087.1L300.4 1081.3L300.7 1075.4L301.0 1069.3L301.3 1063.2L301.6 1056.9L301.9 1050.5L302.2 1044.0L302.4 1037.5L302.7 1030.8L303.0 1024.1L303.3 1017.3L303.6 1010.4L303.9 1003.5L304.2 996.5L304.4 989.5L304.7 982.4L305.0 975.3L305.3 968.2L305.6 961.0L305.9 953.9L306.2 946.8L306.4 939.6L306.7 932.5L307.0 925.4L307.3 918.3L307.6 911.3L307.9 904.3L308.2 897.4L308.4 890.5L308.7 883.7L309.0 876.9L309.3 870.2L309.6 863.6L309.9 857.1L310.2 850.7L310.4 844.4L310.7 838.2L311.0 832.1L311.3 826.2L311.6 820.3L311.9 814.6L312.2 809.0L312.4 803.6L312.7 798.3L313.0 793.2L313.3 788.2L313.6 783.3L313.9 778.7L314.2 774.1L314.4 769.8L314.7 765.6L315.0 761.6L315.3 757.8L315.6 754.1L315.9 750.6L316.2 747.3L316.4 744.2L316.7 741.2L317.0 741.0L317.3 743.7L317.6 746.4L317.9 749.4L318.2 752.4L318.4 755.7L318.7 759.0L319.0 762.6L319.3 766.2L319.6 770.1L319.9 774.0L320.2 778.1L320.4 782.4L320.7 786.7L321.0 791.2L321.3 795.9L321.6 800.6L321.9 805.5L322.2 810.5L322.4 815.6L322.7 820.8L323.0 826.2L323.3 831.6L323.6 837.1L323.9 842.7L324.2 848.4L324.4 854.2L324.7 860.1L325.0 866.0L325.3 872.0L325.6 878.1L325.9 884.2L326.2 890.3L326.4 896.5L326.7 902.8L327.0 909.1L327.3 915.4L327.6 921.7L327.9 928.0L328.2 934.4L328.4 940.7L328.7 947.0L329.0 953.4L329.3 959.7L329.6 966.0L329.9 972.2L330.2 978.4L330.4 984.6L330.7 990.8L331.0 996.9L331.3 1002.9L331.6 1008.9L331.9 1014.8L332.1 1020.6L332.4 1026.3L332.7 1032.0L333.0 1037.6L333.3 1043.0L333.6 1048.4L333.9 1053.7L334.1 1058.8L334.4 1063.9L334.7 1068.8L335.0 1073.7L335.3 1078.4L335.6 1082.9L335.9 1087.4L336.1 1091.7L336.4 1095.8L336.7 1099.9L337.0 1103.8L337.3 1107.5L337.6 1111.1L337.9 1114.5L338.1 1117.8L338.4 1121.0L338.7 1124.0L339.0 1126.9L339.3 1129.5L339.6 1132.1L339.9 1129.7L340.1 1127.1L340.4 1124.3L340.7 1121.5L341.0 1118.4L341.3 1115.2L341.6 1111.9L341.9 1108.5L342.1 1104.8L342.4 1101.1L342.7 1097.2L343.0 1093.2L343.3 1089.0L343.6 1084.8L343.9 1080.3L344.1 1075.8L344.4 1071.2L344.7 1066.4L345.0 1061.5L345.3 1056.5L345.6 1051.4L345.9 1046.3L346.1 1041.0L346.4 1035.6L346.7 1030.1L347.0 1024.6L347.3 1019.0L347.6 1013.3L347.9 1007.6L348.1 1001.8L348.4 995.9L348.7 990.0L349.0 984.0L349.3 978.1L349.6 972.1L349.9 966.0L350.1 960.0L350.4 953.9L350.7 947.8L351.0 941.8L351.3 935.7L351.6 929.6L351.9 923.6L352.1 917.6L352.4 911.6L352.7 905.7L353.0 899.7L353.3 893.9L353.6 888.1L353.9 882.3L354.1 876.7L354.4 871.0L354.7 865.5L355.0 860.0L355.3 854.7L355.6 849.4L355.9 844.2L356.1 839.1L356.4 834.1L356.7 829.2L357.0 824.5L357.3 819.8L357.6 815.3L357.9 810.9L358.1 806.6L358.4 802.5L358.7 798.4L359.0 794.6L359.3 790.8L359.6 787.2L359.9 783.7L360.1 780.4L360.4 777.2L360.7 774.2L361.0 771.3L361.3 768.6L361.6 766.0L361.9 763.6L362.1 766.0L362.4 768.7L362.7 771.4L363.0 774.4L363.3 777.4L363.6 780.7L363.9 784.0L364.1 787.6L364.4 791.2L364.7 795.0L365.0 799.0L365.3 803.1L365.6 807.3L365.9 811.6L366.1 816.1L366.4 820.7L366.7 825.4L367.0 830.3L367.3 835.2L367.6 840.3L367.8 845.4L368.1 850.7L368.4 856.1L368.7 861.5L369.0 867.1L369.3 872.7L369.6 878.4L369.8 884.2L370.1 890.0L370.4 895.9L370.7 901.8L371.0 907.8L371.3 913.9L371.6 920.0L371.8 926.1L372.1 932.2L372.4 938.3L372.7 944.5L373.0 950.7L373.3 956.9L373.6 963.0L373.8 969.2L374.1 975.3L374.4 981.4L374.7 987.5L375.0 993.6L375.3 999.6L375.6 1005.5L375.8 1011.4L376.1 1017.3L376.4 1023.1L376.7 1028.8L377.0 1034.4L377.3 1040.0L377.6 1045.5L377.8 1050.9L378.1 1056.2L378.4 1061.3L378.7 1066.4L379.0 1071.4L379.3 1076.3L379.6 1081.0L379.8 1085.7L380.1 1090.2L380.4 1094.5L380.7 1098.8L381.0 1102.9L381.3 1106.9L381.6 1110.7L381.8 1114.4L382.1 1118.0L382.4 1121.4L382.7 1124.7L383.0 1127.8L383.3 1130.7L383.6 1133.6L383.8 1136.2L384.1 1138.7L384.4 1137.5L384.7 1134.9L385.0 1132.1L385.3 1129.1L385.6 1126.1L385.8 1122.8L386.1 1119.4L386.4 1115.9L386.7 1112.2L387.0 1108.4L387.3 1104.4L387.6 1100.3L387.8 1096.1L388.1 1091.7L388.4 1087.2L388.7 1082.5L389.0 1077.8L389.3 1072.9L389.6 1067.9L389.8 1062.8L390.1 1057.5L390.4 1052.2L390.7 1046.8L391.0 1041.3L391.3 1035.7L391.6 1030.0L391.8 1024.2L392.1 1018.4L392.4 1012.5L392.7 1006.5L393.0 1000.5L393.3 994.4L393.6 988.3L393.8 982.1L394.1 975.9L394.4 969.7L394.7 963.5L395.0 957.2L395.3 951.0L395.6 944.7L395.8 938.5L396.1 932.2L396.4 926.0L396.7 919.8L397.0 913.7L397.3 907.5L397.6 901.5L397.8 895.4L398.1 889.4L398.4 883.5L398.7 877.7L399.0 871.9L399.3 866.2L399.6 860.5L399.8 855.0L400.1 849.5L400.4 844.2L400.7 838.9L401.0 833.8L401.3 828.8L401.6 823.9L401.8 819.1L402.1 814.4L402.4 809.8L402.7 805.4L403.0 801.1L403.3 797.0L403.5 793.0L403.8 789.1L404.1 785.4L404.4 781.8L404.7 778.4L405.0 775.1L405.3 772.0L405.5 769.0L405.8 766.2L406.1 763.6L406.4 761.1L406.7 763.8L407.0 766.5L407.3 769.3L407.5 772.3L407.8 775.4L408.1 778.7L408.4 782.1L408.7 785.7L409.0 789.4L409.3 793.3L409.5 797.3L409.8 801.4L410.1 805.7L410.4 810.1L410.7 814.7L411.0 819.4L411.3 824.1L411.5 829.1L411.8 834.1L412.1 839.2L412.4 844.5L412.7 849.8L413.0 855.2L413.3 860.8L413.5 866.4L413.8 872.1L414.1 877.9L414.4 883.7L414.7 889.7L415.0 895.6L415.3 901.7L415.5 907.7L415.8 913.9L416.1 920.0L416.4 926.2L416.7 932.5L417.0 938.7L417.3 945.0L417.5 951.2L417.8 957.5L418.1 963.7L418.4 970.0L418.7 976.2L419.0 982.4L419.3 988.6L419.5 994.7L419.8 1000.8L420.1 1006.9L420.4 1012.9L420.7 1018.8L421.0 1024.7L421.3 1030.5L421.5 1036.2L421.8 1041.9L422.1 1047.5L422.4 1052.9L422.7 1058.3L423.0 1063.6L423.3 1068.8L423.5 1073.8L423.8 1078.8L424.1 1083.6L424.4 1088.4L424.7 1092.9L425.0 1097.4L425.3 1101.7L425.5 1105.9L425.8 1110.0L426.1 1113.9L426.4 1117.7L426.7 1121.3L427.0 1124.8L427.3 1128.2L427.5 1131.3L427.8 1134.4L428.1 1137.3L428.4 1140.0L428.7 1142.6L429.0 1142.4L429.3 1139.8L429.5 1137.0L429.8 1134.1L430.1 1131.1L430.4 1127.9L430.7 1124.5L431.0 1121.0L431.3 1117.4L431.5 1113.6L431.8 1109.7L432.1 1105.6L432.4 1101.4L432.7 1097.0L433.0 1092.6L433.3 1088.0L433.5 1083.2L433.8 1078.4L434.1 1073.4L434.4 1068.3L434.7 1063.2L435.0 1057.9L435.3 1052.5L435.5 1047.0L435.8 1041.4L436.1 1035.8L436.4 1030.0L436.7 1024.2L437.0 1018.3L437.3 1012.4L437.5 1006.4L437.8 1000.3L438.1 994.2L438.4 988.1L438.7 981.9L439.0 975.7L439.2 969.5L439.5 963.2L439.8 956.9L440.1 950.7L440.4 944.4L440.7 938.2L441.0 931.9L441.2 925.7L441.5 919.5L441.8 913.4L442.1 907.2L442.4 901.2L442.7 895.1L443.0 889.2L443.2 883.2L443.5 877.4L443.8 871.6L444.1 865.9L444.4 860.3L444.7 854.8L445.0 849.3L445.2 844.0L445.5 838.8L445.8 833.7L446.1 828.6L446.4 823.7L446.7 819.0L447.0 814.3L447.2 809.8L447.5 805.4L447.8 801.1L448.1 797.0L448.4 793.0L448.7 789.1L449.0 785.4L449.2 781.8L449.5 778.4L449.8 775.1L450.1 772.0L450.4 769.0L450.7 766.2L451.0 763.6L451.2 761.1L451.5 763.6L451.8 766.2L452.1 769.1L452.4 772.0L452.7 775.1L453.0 778.4L453.2 781.8L453.5 785.4L453.8 789.1L454.1 793.0L454.4 797.0L454.7 801.1L455.0 805.4L455.2 809.8L455.5 814.3L455.8 819.0L456.1 823.8L456.4 828.7L456.7 833.7L457.0 838.8L457.2 844.0L457.5 849.4L457.8 854.8L458.1 860.3L458.4 865.9L458.7 871.6L459.0 877.4L459.2 883.3L459.5 889.2L459.8 895.2L460.1 901.2L460.4 907.3L460.7 913.4L461.0 919.5L461.2 925.7L461.5 932.0L461.8 938.2L462.1 944.5L462.4 950.7L462.7 957.0L463.0 963.2L463.2 969.5L463.5 975.7L463.8 981.9L464.1 988.1L464.4 994.2L464.7 1000.3L465.0 1006.4L465.2 1012.4L465.5 1018.4L465.8 1024.2L466.1 1030.1L466.4 1035.8L466.7 1041.4L467.0 1047.0L467.2 1052.5L467.5 1057.9L467.8 1063.2L468.1 1068.4L468.4 1073.4L468.7 1078.4L469.0 1083.3L469.2 1088.0L469.5 1092.6L469.8 1097.1L470.1 1101.4L470.4 1105.6L470.7 1109.7L471.0 1113.6L471.2 1117.4L471.5 1121.0L471.8 1124.5L472.1 1127.9L472.4 1131.1L472.7 1134.1L473.0 1137.0L473.2 1139.8L473.5 1142.4L473.8 1142.6L474.1 1140.0L474.4 1137.3L474.7 1134.4L474.9 1131.3L475.2 1128.1L475.5 1124.8L475.8 1121.3L476.1 1117.7L476.4 1113.9L476.7 1110.0L476.9 1105.9L477.2 1101.7L477.5 1097.4L477.8 1092.9L478.1 1088.3L478.4 1083.6L478.7 1078.8L478.9 1073.8L479.2 1068.8L479.5 1063.6L479.8 1058.3L480.1 1052.9L480.4 1047.4L480.7 1041.9L480.9 1036.2L481.2 1030.5L481.5 1024.7L481.8 1018.8L482.1 1012.9L482.4 1006.9L482.7 1000.8L482.9 994.7L483.2 988.6L483.5 982.4L483.8 976.2L484.1 969.9L484.4 963.7L484.7 957.4L484.9 951.2L485.2 944.9L485.5 938.7L485.8 932.4L486.1 926.2L486.4 920.0L486.7 913.8L486.9 907.7L487.2 901.6L487.5 895.6L487.8 889.6L488.1 883.7L488.4 877.9L488.7 872.1L488.9 866.4L489.2 860.8L489.5 855.2L489.8 849.8L490.1 844.4L490.4 839.2L490.7 834.1L490.9 829.0L491.2 824.1L491.5 819.3L491.8 814.7L492.1 810.1L492.4 805.7L492.7 801.4L492.9 797.3L493.2 793.3L493.5 789.4L493.8 785.7L494.1 782.1L494.4 778.7L494.7 775.4L494.9 772.3L495.2 769.3L495.5 766.4L495.8 763.8L496.1 761.2L496.4 763.4L496.7 766.0L496.9 768.8L497.2 771.8L497.5 774.9L497.8 778.2L498.1 781.6L498.4 785.1L498.7 788.8L498.9 792.7L499.2 796.6L499.5 800.8L499.8 805.0L500.1 809.4L500.4 814.0L500.7 818.6L500.9 823.4L501.2 828.3L501.5 833.3L501.8 838.4L502.1 843.6L502.4 848.9L502.7 854.4L502.9 859.9L503.2 865.5L503.5 871.2L503.8 877.0L504.1 882.8L504.4 888.7L504.7 894.7L504.9 900.7L505.2 906.8L505.5 912.9L505.8 919.1L506.1 925.2L506.4 931.5L506.7 937.7L506.9 944.0L507.2 950.2L507.5 956.5L507.8 962.7L508.1 969.0L508.4 975.2L508.7 981.4L508.9 987.6L509.2 993.8L509.5 999.9L509.8 1005.9L510.1 1011.9L510.4 1017.9L510.6 1023.8L510.9 1029.6L511.2 1035.3L511.5 1041.0L511.8 1046.6L512.1 1052.1L512.4 1057.5L512.6 1062.8L512.9 1068.0L513.2 1073.0L513.5 1078.0L513.8 1082.9L514.1 1087.6L514.4 1092.2L514.6 1096.7L514.9 1101.1L515.2 1105.3L515.5 1109.4L515.8 1113.3L516.1 1117.1L516.4 1120.8L516.6 1124.3L516.9 1127.6L517.2 1130.8L517.5 1133.9L517.8 1136.8L518.1 1139.6L518.4 1142.2L518.6 1142.8L518.9 1140.2L519.2 1137.5L519.5 1134.6L519.8 1131.6L520.1 1128.4L520.4 1125.1L520.6 1121.6L520.9 1118.0L521.2 1114.2L521.5 1110.3L521.8 1106.2L522.1 1102.1L522.4 1097.7L522.6 1093.3L522.9 1088.7L523.2 1084.0L523.5 1079.2L523.8 1074.2L524.1 1069.2L524.4 1064.0L524.6 1058.7L524.9 1053.3L525.2 1047.9L525.5 1042.3L525.8 1036.7L526.1 1030.9L526.4 1025.1L526.6 1019.3L526.9 1013.3L527.2 1007.3L527.5 1001.3L527.8 995.2L528.1 989.1L528.4 982.9L528.6 976.7L528.9 970.4L529.2 964.2L529.5 957.9L529.8 951.7L530.1 945.4L530.4 939.2L530.6 932.9L530.9 926.7L531.2 920.5L531.5 914.3L531.8 908.2L532.1 902.1L532.4 896.1L532.6 890.1L532.9 884.2L533.2 878.3L533.5 872.5L533.8 866.8L534.1 861.2L534.4 855.7L534.6 850.2L534.9 844.9L535.2 839.6L535.5 834.5L535.8 829.4L536.1 824.5L536.4 819.7L536.6 815.0L536.9 810.5L537.2 806.1L537.5 801.8L537.8 797.6L538.1 793.6L538.4 789.7L538.6 786.0L538.9 782.4L539.2 778.9L539.5 775.6L539.8 772.5L540.1 769.5L540.4 766.7L540.6 764.0L540.9 761.4L541.2 763.2L541.5 765.8L541.8 768.6L542.1 771.5L542.4 774.6L542.6 777.9L542.9 781.3L543.2 784.8L543.5 788.5L543.8 792.4L544.1 796.3L544.4 800.4L544.6 804.7L544.9 809.1L545.2 813.6L545.5 818.2L545.8 823.0L546.1 827.9L546.3 832.9L546.6 838.0L546.9 843.2L547.2 848.5L547.5 853.9L547.8 859.4L548.1 865.0L548.3 870.7L548.6 876.5L548.9 882.3L549.2 888.2L549.5 894.2L549.8 900.2L550.1 906.3L550.3 912.4L550.6 918.6L550.9 924.8L551.2 931.0L551.5 937.2L551.8 943.5L552.1 949.7L552.3 956.0L552.6 962.2L552.9 968.5L553.2 974.7L553.5 980.9L553.8 987.1L554.1 993.3L554.3 999.4L554.6 1005.4L554.9 1011.5L555.2 1017.4L555.5 1023.3L555.8 1029.1L556.1 1034.9L556.3 1040.6L556.6 1046.1L556.9 1051.6L557.2 1057.0L557.5 1062.3L557.8 1067.6L558.1 1072.6L558.3 1077.6L558.6 1082.5L558.9 1087.2L559.2 1091.9L559.5 1096.4L559.8 1100.7L560.1 1104.9L560.3 1109.0L560.6 1113.0L560.9 1116.8L561.2 1120.5L561.5 1124.0L561.8 1127.4L562.1 1130.6L562.3 1133.7L562.6 1136.6L562.9 1139.4L563.2 1142.0L563.5 1143.0L563.8 1140.4L564.1 1137.7L564.3 1134.8L564.6 1131.8L564.9 1128.7L565.2 1125.3L565.5 1121.9L565.8 1118.3L566.1 1114.5L566.3 1110.6L566.6 1106.6L566.9 1102.4L567.2 1098.1L567.5 1093.6L567.8 1089.1L568.1 1084.4L568.3 1079.6L568.6 1074.6L568.9 1069.6L569.2 1064.4L569.5 1059.1L569.8 1053.8L570.1 1048.3L570.3 1042.8L570.6 1037.1L570.9 1031.4L571.2 1025.6L571.5 1019.7L571.8 1013.8L572.1 1007.8L572.3 1001.8L572.6 995.7L572.9 989.5L573.2 983.4L573.5 977.2L573.8 970.9L574.1 964.7L574.3 958.4L574.6 952.2L574.9 945.9L575.2 939.7L575.5 933.4L575.8 927.2L576.1 921.0L576.3 914.8L576.6 908.7L576.9 902.6L577.2 896.6L577.5 890.6L577.8 884.6L578.1 878.8L578.3 873.0L578.6 867.3L578.9 861.6L579.2 856.1L579.5 850.6L579.8 845.3L580.1 840.0L580.3 834.9L580.6 829.8L580.9 824.9L581.2 820.1L581.5 815.4L581.8 810.8L582.0 806.4L582.3 802.1L582.6 797.9L582.9 793.9L583.2 790.0L583.5 786.3L583.8 782.7L584.0 779.2L584.3 775.9L584.6 772.7L584.9 769.7L585.2 766.9L585.5 764.2L585.8 761.6L586.0 763.0L586.3 765.6L586.6 768.4L586.9 771.3L587.2 774.4L587.5 777.6L587.8 781.0L588.0 784.5L588.3 788.2L588.6 792.0L588.9 796.0L589.2 800.1L589.5 804.3L589.8 808.7L590.0 813.2L590.3 817.9L590.6 822.6L590.9 827.5L591.2 832.5L591.5 837.6L591.8 842.8L592.0 848.1L592.3 853.5L592.6 859.0L592.9 864.6L593.2 870.3L593.5 876.0L593.8 881.9L594.0 887.8L594.3 893.7L594.6 899.7L594.9 905.8L595.2 911.9L595.5 918.1L595.8 924.3L596.0 930.5L596.3 936.7L596.6 943.0L596.9 949.2L597.2 955.5L597.5 961.7L597.8 968.0L598.0 974.2L598.3 980.4L598.6 986.6L598.9 992.8L599.2 998.9L599.5 1005.0L599.8 1011.0L600.0 1016.9L600.3 1022.8L600.6 1028.7L600.9 1034.4L601.2 1040.1L601.5 1045.7L601.8 1051.2L602.0 1056.6L602.3 1061.9L602.6 1067.1L602.9 1072.2L603.2 1077.2L603.5 1082.1L603.8 1086.9L604.0 1091.5L604.3 1096.0L604.6 1100.4L604.9 1104.6L605.2 1108.7L605.5 1112.7L605.8 1116.5L606.0 1120.2L606.3 1123.7L606.6 1127.1L606.9 1130.3L607.2 1133.4L607.5 1136.4L607.8 1139.2L608.0 1141.8L608.3 1143.2L608.6 1140.6L608.9 1137.9L609.2 1135.1L609.5 1132.1L609.8 1128.9L610.0 1125.6L610.3 1122.2L610.6 1118.6L610.9 1114.8L611.2 1110.9L611.5 1106.9L611.8 1102.7L612.0 1098.4L612.3 1094.0L612.6 1089.4L612.9 1084.8L613.2 1079.9L613.5 1075.0L613.8 1070.0L614.0 1064.8L614.3 1059.6L614.6 1054.2L614.9 1048.8L615.2 1043.2L615.5 1037.6L615.8 1031.9L616.0 1026.1L616.3 1020.2L616.6 1014.3L616.9 1008.3L617.2 1002.3L617.5 996.2L617.7 990.0L618.0 983.9L618.3 977.7L618.6 971.4L618.9 965.2L619.2 958.9L619.5 952.7L619.7 946.4L620.0 940.2L620.3 933.9L620.6 927.7L620.9 921.5L621.2 915.3L621.5 909.2L621.7 903.1L622.0 897.0L622.3 891.0L622.6 885.1L622.9 879.2L623.2 873.5L623.5 867.7L623.7 862.1L624.0 856.5L624.3 851.1L624.6 845.7L624.9 840.4L625.2 835.3L625.5 830.2L625.7 825.3L626.0 820.5L626.3 815.8L626.6 811.2L626.9 806.7L627.2 802.4L627.5 798.3L627.7 794.2L628.0 790.3L628.3 786.6L628.6 782.9L628.9 779.5L629.2 776.2L629.5 773.0L629.7 770.0L630.0 767.1L630.3 764.4L630.6 761.8L630.9 762.8L631.2 765.4L631.5 768.1L631.7 771.1L632.0 774.1L632.3 777.4L632.6 780.7L632.9 784.3L633.2 787.9L633.5 791.7L633.7 795.7L634.0 799.8L634.3 804.0L634.6 808.4L634.9 812.9L635.2 817.5L635.5 822.2L635.7 827.1L636.0 832.1L636.3 837.2L636.6 842.4L636.9 847.7L637.2 853.1L637.5 858.6L637.7 864.2L638.0 869.8L638.3 875.6L638.6 881.4L638.9 887.3L639.2 893.2L639.5 899.3L639.7 905.3L640.0 911.4L640.3 917.6L640.6 923.8L640.9 930.0L641.2 936.2L641.5 942.5L641.7 948.7L642.0 955.0L642.3 961.2L642.6 967.5L642.9 973.7L643.2 979.9L643.5 986.1L643.7 992.3L644.0 998.4L644.3 1004.5L644.6 1010.5L644.9 1016.5L645.2 1022.4L645.5 1028.2L645.7 1034.0L646.0 1039.7L646.3 1045.3L646.6 1050.8L646.9 1056.2L647.2 1061.5L647.5 1066.7L647.7 1071.8L648.0 1076.8L648.3 1081.7L648.6 1086.5L648.9 1091.1L649.2 1095.6L649.5 1100.0L649.7 1104.3L650.0 1108.4L650.3 1112.4L650.6 1116.2L650.9 1119.9L651.2 1123.4L651.5 1126.8L651.7 1130.1L652.0 1133.2L652.3 1136.1L652.6 1138.9L652.9 1141.6L653.2 1143.4L653.4 1140.8L653.7 1138.1L654.0 1135.3L654.3 1132.3L654.6 1129.2L654.9 1125.9L655.2 1122.4L655.4 1118.9L655.7 1115.1L656.0 1111.2L656.3 1107.2L656.6 1103.1L656.9 1098.8L657.2 1094.4L657.4 1089.8L657.7 1085.1L658.0 1080.3L658.3 1075.4L658.6 1070.4L658.9 1065.2L659.2 1060.0L659.4 1054.6L659.7 1049.2L660.0 1043.7L660.3 1038.0L660.6 1032.3L660.9 1026.5L661.2 1020.7L661.4 1014.8L661.7 1008.8L662.0 1002.7L662.3 996.6L662.6 990.5L662.9 984.4L663.2 978.2L663.4 971.9L663.7 965.7L664.0 959.4L664.3 953.2L664.6 946.9L664.9 940.7L665.2 934.4L665.4 928.2L665.7 922.0L666.0 915.8L666.3 909.7L666.6 903.6L666.9 897.5L667.2 891.5L667.4 885.6L667.7 879.7L668.0 873.9L668.3 868.2L668.6 862.5L668.9 857.0L669.2 851.5L669.4 846.1L669.7 840.9L670.0 835.7L670.3 830.6L670.6 825.7L670.9 820.8L671.2 816.1L671.4 811.6L671.7 807.1L672.0 802.8L672.3 798.6L672.6 794.5L672.9 790.6L673.2 786.9L673.4 783.2L673.7 779.7L674.0 776.4L674.3 773.2L674.6 770.2L674.9 767.3L675.2 764.6L675.4 762.0L675.7 762.6L676.0 765.2L676.3 767.9L676.6 770.8L676.9 773.9L677.2 777.1L677.4 780.5L677.7 784.0L678.0 787.6L678.3 791.4L678.6 795.4L678.9 799.4L679.2 803.7L679.4 808.0L679.7 812.5L680.0 817.1L680.3 821.8L680.6 826.7L680.9 831.7L681.2 836.7L681.4 841.9L681.7 847.2L682.0 852.6L682.3 858.1L682.6 863.7L682.9 869.4L683.2 875.1L683.4 880.9L683.7 886.8L684.0 892.8L684.3 898.8L684.6 904.8L684.9 910.9L685.2 917.1L685.4 923.3L685.7 929.5L686.0 935.7L686.3 942.0L686.6 948.2L686.9 954.5L687.2 960.7L687.4 967.0L687.7 973.2L688.0 979.5L688.3 985.6L688.6 991.8L688.9 997.9L689.1 1004.0L689.4 1010.0L689.7 1016.0L690.0 1021.9L690.3 1027.7L690.6 1033.5L690.9 1039.2L691.1 1044.8L691.4 1050.3L691.7 1055.8L692.0 1061.1L692.3 1066.3L692.6 1071.4L692.9 1076.4L693.1 1081.3L693.4 1086.1L693.7 1090.8L694.0 1095.3L694.3 1099.7L694.6 1103.9L694.9 1108.1L695.1 1112.1L695.4 1115.9L695.7 1119.6L696.0 1123.2L696.3 1126.6L696.6 1129.8L696.9 1133.0L697.1 1135.9L697.4 1138.7L697.7 1141.4L698.0 1143.6L698.3 1141.0L698.6 1138.4L698.9 1135.5L699.1 1132.6L699.4 1129.4L699.7 1126.1L700.0 1122.7L700.3 1119.1L700.6 1115.4L700.9 1111.6L701.1 1107.6L701.4 1103.4L701.7 1099.1L702.0 1094.7L702.3 1090.2L702.6 1085.5L702.9 1080.7L703.1 1075.8L703.4 1070.8L703.7 1065.7L704.0 1060.4L704.3 1055.1L704.6 1049.6L704.9 1044.1L705.1 1038.5L705.4 1032.8L705.7 1027.0L706.0 1021.1L706.3 1015.2L706.6 1009.3L706.9 1003.2L707.1 997.1L707.4 991.0L707.7 984.8L708.0 978.7L708.3 972.4L708.6 966.2L708.9 959.9L709.1 953.7L709.4 947.4L709.7 941.2L710.0 934.9L710.3 928.7L710.6 922.5L710.9 916.3L711.1 910.2L711.4 904.1L711.7 898.0L712.0 892.0L712.3 886.1L712.6 880.2L712.9 874.4L713.1 868.6L713.4 863.0L713.7 857.4L714.0 851.9L714.3 846.6L714.6 841.3L714.9 836.1L715.1 831.0L715.4 826.1L715.7 821.2L716.0 816.5L716.3 811.9L716.6 807.4L716.9 803.1L717.1 798.9L717.4 794.9L717.7 790.9L718.0 787.1L718.3 783.5L718.6 780.0L718.9 776.7L719.1 773.5L719.4 770.4L719.7 767.6L720.0 764.8L720.3 762.2L720.6 762.4L720.9 764.9L721.1 767.7L721.4 770.6L721.7 773.6L722.0 776.8L722.3 780.2L722.6 783.7L722.9 787.3L723.1 791.1L723.4 795.0L723.7 799.1L724.0 803.3L724.3 807.7L724.6 812.1L724.8 816.7L725.1 821.5L725.4 826.3L725.7 831.3L726.0 836.3L726.3 841.5L726.6 846.8L726.8 852.2L727.1 857.7L727.4 863.3L727.7 868.9L728.0 874.7L728.3 880.5L728.6 886.3L728.8 892.3L729.1 898.3L729.4 904.4L729.7 910.5L730.0 916.6L730.3 922.8L730.6 929.0L730.8 935.2L731.1 941.5L731.4 947.7L731.7 954.0L732.0 960.2L732.3 966.5L732.6 972.7L732.8 979.0L733.1 985.1L733.4 991.3L733.7 997.4L734.0 1003.5L734.3 1009.5L734.6 1015.5L734.8 1021.4L735.1 1027.3L735.4 1033.1L735.7 1038.8L736.0 1044.4L736.3 1049.9L736.6 1055.3L736.8 1060.7L737.1 1065.9L737.4 1071.0L737.7 1076.1L738.0 1081.0L738.3 1085.7L738.6 1090.4L738.8 1094.9L739.1 1099.3L739.4 1103.6L739.7 1107.8L740.0 1111.8L740.3 1115.6L740.6 1119.3L740.8 1122.9L741.1 1126.3L741.4 1129.6L741.7 1132.7L742.0 1135.7L742.3 1138.5L742.6 1141.2L742.8 1143.7L743.1 1141.3L743.4 1138.6L743.7 1135.8L744.0 1132.8L744.3 1129.7L744.6 1126.4L744.8 1123.0L745.1 1119.4L745.4 1115.7L745.7 1111.9L746.0 1107.9L746.3 1103.7L746.6 1099.5L746.8 1095.1L747.1 1090.5L747.4 1085.9L747.7 1081.1L748.0 1076.2L748.3 1071.2L748.6 1066.1L748.8 1060.8L749.1 1055.5L749.4 1050.1L749.7 1044.5L750.0 1038.9L750.3 1033.2L750.6 1027.5L750.8 1021.6L751.1 1015.7L751.4 1009.7L751.7 1003.7L752.0 997.6L752.3 991.5L752.6 985.3L752.8 979.1L753.1 972.9L753.4 966.7L753.7 960.4L754.0 954.2L754.3 947.9L754.6 941.7L754.8 935.4L755.1 929.2L755.4 923.0L755.7 916.8L756.0 910.6L756.3 904.5L756.6 898.5L756.8 892.5L757.1 886.5L757.4 880.6L757.7 874.8L758.0 869.1L758.3 863.4L758.6 857.9L758.8 852.4L759.1 847.0L759.4 841.7L759.7 836.5L760.0 831.4L760.3 826.5L760.5 821.6L760.8 816.9L761.1 812.3L761.4 807.8L761.7 803.5L762.0 799.2L762.3 795.2L762.5 791.2L762.8 787.4L763.1 783.8L763.4 780.3L763.7 776.9L764.0 773.7L764.3 770.7L764.5 767.8L764.8 765.0L765.1 762.4L765.4 762.2L765.7 764.7L766.0 767.5L766.3 770.4L766.5 773.4L766.8 776.6L767.1 779.9L767.4 783.4L767.7 787.0L768.0 790.8L768.3 794.7L768.5 798.8L768.8 803.0L769.1 807.3L769.4 811.8L769.7 816.4L770.0 821.1L770.3 825.9L770.5 830.9L770.8 835.9L771.1 841.1L771.4 846.4L771.7 851.8L772.0 857.2L772.3 862.8L772.5 868.5L772.8 874.2L773.1 880.0L773.4 885.9L773.7 891.8L774.0 897.8L774.3 903.9L774.5 910.0L774.8 916.1L775.1 922.3L775.4 928.5L775.7 934.7L776.0 941.0L776.3 947.2L776.5 953.5L776.8 959.7L777.1 966.0L777.4 972.2L777.7 978.5L778.0 984.7L778.3 990.8L778.5 996.9L778.8 1003.0L779.1 1009.1L779.4 1015.0L779.7 1021.0L780.0 1026.8L780.3 1032.6L780.5 1038.3L780.8 1043.9L781.1 1049.5L781.4 1054.9L781.7 1060.2L782.0 1065.5L782.3 1070.6L782.5 1075.7L782.8 1080.6L783.1 1085.4L783.4 1090.0L783.7 1094.6L784.0 1099.0L784.3 1103.3L784.5 1107.4L784.8 1111.4L785.1 1115.3L785.4 1119.0L785.7 1122.6L786.0 1126.0L786.3 1129.3L786.5 1132.5L786.8 1135.5L787.1 1138.3L787.4 1141.0L787.7 1143.5L788.0 1141.5L788.3 1138.8L788.5 1136.0L788.8 1133.0L789.1 1129.9L789.4 1126.7L789.7 1123.3L790.0 1119.7L790.3 1116.0L790.5 1112.2L790.8 1108.2L791.1 1104.1L791.4 1099.8L791.7 1095.4L792.0 1090.9L792.3 1086.3L792.5 1081.5L792.8 1076.6L793.1 1071.6L793.4 1066.5L793.7 1061.3L794.0 1055.9L794.3 1050.5L794.5 1045.0L794.8 1039.4L795.1 1033.7L795.4 1027.9L795.7 1022.1L796.0 1016.2L796.2 1010.2L796.5 1004.2L796.8 998.1L797.1 992.0L797.4 985.8L797.7 979.6L798.0 973.4L798.2 967.2L798.5 960.9L798.8 954.7L799.1 948.4L799.4 942.2L799.7 935.9L800.0 929.7L800.2 923.5L800.5 917.3L800.8 911.1L801.1 905.0L801.4 899.0L801.7 893.0L802.0 887.0L802.2 881.1L802.5 875.3L802.8 869.5L803.1 863.9L803.4 858.3L803.7 852.8L804.0 847.4L804.2 842.1L804.5 836.9L804.8 831.8L805.1 826.8L805.4 822.0L805.7 817.2L806.0 812.6L806.2 808.1L806.5 803.8L806.8 799.6L807.1 795.5L807.4 791.5L807.7 787.7L808.0 784.1L808.2 780.6L808.5 777.2L808.8 774.0L809.1 770.9L809.4 768.0L809.7 765.2L810.0 762.6L810.2 762.0L810.5 764.5L810.8 767.2L811.1 770.1L811.4 773.1L811.7 776.3L812.0 779.6L812.2 783.1L812.5 786.7L812.8 790.5L813.1 794.4L813.4 798.5L813.7 802.6L814.0 807.0L814.2 811.4L814.5 816.0L814.8 820.7L815.1 825.5L815.4 830.5L815.7 835.5L816.0 840.7L816.2 846.0L816.5 851.3L816.8 856.8L817.1 862.4L817.4 868.0L817.7 873.7L818.0 879.5L818.2 885.4L818.5 891.3L818.8 897.3L819.1 903.4L819.4 909.5L819.7 915.6L820.0 921.8L820.2 928.0L820.5 934.2L820.8 940.5L821.1 946.7L821.4 953.0L821.7 959.2L822.0 965.5L822.2 971.7L822.5 978.0L822.8 984.2L823.1 990.3L823.4 996.5L823.7 1002.6L824.0 1008.6L824.2 1014.6L824.5 1020.5L824.8 1026.4L825.1 1032.1L825.4 1037.9L825.7 1043.5L826.0 1049.0L826.2 1054.5L826.5 1059.8L826.8 1065.1L827.1 1070.2L827.4 1075.3L827.7 1080.2L828.0 1085.0L828.2 1089.7L828.5 1094.2L828.8 1098.6L829.1 1102.9L829.4 1107.1L829.7 1111.1L830.0 1115.0L830.2 1118.7L830.5 1122.3L830.8 1125.8L831.1 1129.1L831.4 1132.2L831.7 1135.2L831.9 1138.1L832.2 1140.8L832.5 1143.3L832.8 1141.7L833.1 1139.0L833.4 1136.2L833.7 1133.3L833.9 1130.2L834.2 1126.9L834.5 1123.6L834.8 1120.0L835.1 1116.3L835.4 1112.5L835.7 1108.5L835.9 1104.4L836.2 1100.2L836.5 1095.8L836.8 1091.3L837.1 1086.6L837.4 1081.9L837.7 1077.0L837.9 1072.0L838.2 1066.9L838.5 1061.7L838.8 1056.4L839.1 1050.9L839.4 1045.4L839.7 1039.8L839.9 1034.1L840.2 1028.4L840.5 1022.6L840.8 1016.6L841.1 1010.7L841.4 1004.7L841.7 998.6L841.9 992.5L842.2 986.3L842.5 980.1L842.8 973.9L843.1 967.7L843.4 961.4L843.7 955.2L843.9 948.9L844.2 942.7L844.5 936.4L844.8 930.2L845.1 924.0L845.4 917.8L845.7 911.6L845.9 905.5L846.2 899.4L846.5 893.4L846.8 887.5L847.1 881.6L847.4 875.8L847.7 870.0L847.9 864.3L848.2 858.7L848.5 853.2L848.8 847.8L849.1 842.5L849.4 837.3L849.7 832.2L849.9 827.2L850.2 822.4L850.5 817.6L850.8 813.0L851.1 808.5L851.4 804.1L851.7 799.9L851.9 795.8L852.2 791.9L852.5 788.0L852.8 784.4L853.1 780.8L853.4 777.5L853.7 774.2L853.9 771.2L854.2 768.2L854.5 765.5L854.8 762.8L855.1 761.8L855.4 764.3L855.7 767.0L855.9 769.9L856.2 772.9L856.5 776.1L856.8 779.4L857.1 782.8L857.4 786.4L857.7 790.2L857.9 794.1L858.2 798.1L858.5 802.3L858.8 806.6L859.1 811.1L859.4 815.6L859.7 820.3L859.9 825.1L860.2 830.1L860.5 835.1L860.8 840.3L861.1 845.5L861.4 850.9L861.7 856.4L861.9 861.9L862.2 867.6L862.5 873.3L862.8 879.1L863.1 884.9L863.4 890.9L863.7 896.9L863.9 902.9L864.2 909.0L864.5 915.1L864.8 921.3L865.1 927.5L865.4 933.7L865.7 940.0L865.9 946.2L866.2 952.5L866.5 958.7L866.8 965.0L867.1 971.2L867.4 977.5L867.6 983.7L867.9 989.8L868.2 996.0L868.5 1002.1L868.8 1008.1L869.1 1014.1L869.4 1020.0L869.6 1025.9L869.9 1031.7L870.2 1037.4L870.5 1043.0L870.8 1048.6L871.1 1054.0L871.4 1059.4L871.6 1064.7L871.9 1069.8L872.2 1074.9L872.5 1079.8L872.8 1084.6L873.1 1089.3L873.4 1093.9L873.6 1098.3L873.9 1102.6L874.2 1106.8L874.5 1110.8L874.8 1114.7L875.1 1118.4L875.4 1122.1L875.6 1125.5L875.9 1128.8L876.2 1132.0L876.5 1135.0L876.8 1137.8L877.1 1140.5L877.4 1143.1L877.6 1141.9L877.9 1139.2L878.2 1136.5L878.5 1133.5L878.8 1130.4L879.1 1127.2L879.4 1123.8L879.6 1120.3L879.9 1116.6L880.2 1112.8L880.5 1108.8L880.8 1104.7L881.1 1098.7L881.4 1094.1L881.6 1089.3L881.9 1084.5L882.2 1079.4L882.5 1074.2L882.8 1068.9L883.1 1063.4L883.4 1057.8L883.6 1052.1L883.9 1046.2L884.2 1040.2L884.5 1034.1L884.8 1027.8L885.1 1021.4L885.4 1015.0L885.6 1008.4L885.9 1001.7L886.2 994.9L886.5 988.0L886.8 981.0L887.1 973.9L887.4 966.8L887.6 959.5L887.9 952.3L888.2 944.9L888.5 937.5L888.8 930.1L889.1 922.6L889.4 915.1L889.6 907.6L889.9 900.1L890.2 892.6L890.5 885.1L890.8 877.6L891.1 870.2L891.4 862.8L891.6 855.4L891.9 848.1L892.2 840.9L892.5 833.8L892.8 826.8L893.1 819.9L893.4 813.1L893.6 806.4L893.9 799.9L894.2 793.5L894.5 787.3L894.8 781.3L895.1 775.4L895.4 769.8L895.6 764.3L895.9 759.0L896.2 754.0L896.5 749.2L896.8 744.6L897.1 740.2L897.4 736.1L897.6 732.2L897.9 728.6L898.2 725.2L898.5 722.0L898.8 719.2L899.1 716.5L899.4 714.1L899.6 711.9L899.9 711.0L900.2 714.2L900.5 717.7L900.8 721.3L901.1 725.2L901.4 729.3L901.6 733.7L901.9 738.2L902.2 742.9L902.5 747.9L902.8 753.0L903.1 758.3L903.3 763.7L903.6 769.3L903.9 775.1L904.2 781.0L904.5 787.0L904.8 793.1L905.1 799.4L905.3 805.8L905.6 812.2L905.9 818.8L906.2 825.4L906.5 832.0L906.8 838.8L907.1 845.6L907.3 852.4L907.6 859.2L907.9 866.1L908.2 873.0L908.5 879.9L908.8 886.8L909.1 893.7L909.3 900.6L909.6 907.5L909.9 914.4L910.2 921.2L910.5 928.0L910.8 934.8L911.1 941.5L911.3 948.2L911.6 954.8L911.9 961.4L912.2 967.9L912.5 974.3L912.8 980.7L913.1 987.0L913.3 993.2L913.6 999.4L913.9 1005.4L914.2 1011.4L914.5 1017.3L914.8 1023.1L915.1 1028.8L915.3 1034.4L915.6 1039.8L915.9 1045.2L916.2 1050.5L916.5 1055.7L916.8 1060.8L917.1 1065.7L917.3 1070.5L917.6 1075.3L917.9 1079.9L918.2 1084.4L918.5 1088.7L918.8 1092.9L919.1 1097.0L919.3 1101.0L919.6 1104.9L919.9 1108.6L920.2 1112.2L920.5 1115.7L920.8 1119.0L921.1 1122.2L921.3 1125.2L921.6 1128.1L921.9 1130.9L922.2 1133.6L922.5 1132.8L922.8 1130.3L923.1 1127.7L923.3 1124.9L923.6 1122.0L923.9 1118.9L924.2 1115.7L924.5 1112.4L924.8 1109.0L925.1 1105.4L925.3 1101.6L925.6 1097.8L925.9 1093.8L926.2 1089.6L926.5 1085.4L926.8 1081.0L927.1 1076.5L927.3 1071.9L927.6 1067.2L927.9 1062.4L928.2 1057.4L928.5 1052.3L928.8 1047.2L929.1 1041.9L929.3 1036.6L929.6 1031.1L929.9 1025.6L930.2 1020.0L930.5 1014.3L930.8 1008.6L931.1 1002.8L931.3 996.9L931.6 991.0L931.9 985.0L932.2 979.0L932.5 972.9L932.8 966.8L933.1 960.7L933.3 954.6L933.6 948.5L933.9 942.3L934.2 936.2L934.5 930.0L934.8 923.9L935.1 917.8L935.3 911.8L935.6 905.7L935.9 899.7L936.2 893.8L936.5 887.8L936.8 882.0L937.1 876.2L937.3 870.5L937.6 864.9L937.9 859.3L938.2 853.8L938.5 848.4L938.8 843.1L939.0 837.9L939.3 832.8L939.6 827.9L939.9 823.0L940.2 818.2L940.5 813.6L940.8 809.1L941.0 804.7L941.3 800.5L941.6 796.4L941.9 792.4L942.2 788.6L942.5 784.9L942.8 781.4L943.0 778.0L943.3 774.7L943.6 771.6L943.9 768.7L944.2 765.9L944.5 763.2L944.8 761.4L945.0 763.9L945.3 766.6L945.6 769.4L945.9 772.4L946.2 775.5L946.5 778.8L946.8 782.3L947.0 785.9L947.3 789.6L947.6 793.5L947.9 797.5L948.2 801.6L948.5 805.9L948.8 810.3L949.0 814.9L949.3 819.6L949.6 824.4L949.9 829.3L950.2 834.3L950.5 839.4L950.8 844.7L951.0 850.0L951.3 855.5L951.6 861.0L951.9 866.7L952.2 872.4L952.5 878.1L952.8 884.0L953.0 889.9L953.3 895.9L953.6 901.9L953.9 908.0L954.2 914.1L954.5 920.3L954.8 926.5L955.0 932.7L955.3 939.0L955.6 945.2L955.9 951.5L956.2 957.8L956.5 964.0L956.8 970.3L957.0 976.5L957.3 982.7L957.6 988.9L957.9 995.0L958.2 1001.1L958.5 1007.2L958.8 1013.1L959.0 1019.1L959.3 1025.0L959.6 1030.8L959.9 1036.5L960.2 1042.1L960.5 1047.7L960.8 1053.2L961.0 1058.6L961.3 1063.8L961.6 1069.0L961.9 1074.1L962.2 1079.0L962.5 1083.8L962.8 1088.6L963.0 1093.1L963.3 1097.6L963.6 1101.9L963.9 1106.1L964.2 1110.2L964.5 1114.1L964.8 1117.9L965.0 1121.5L965.3 1125.0L965.6 1128.3L965.9 1131.5L966.2 1134.5L966.5 1137.4L966.8 1140.1L967.0 1142.7L967.3 1142.3L967.6 1139.7L967.9 1136.9L968.2 1134.0L968.5 1130.9L968.8 1127.7L969.0 1124.4L969.3 1120.9L969.6 1117.2L969.9 1113.4L970.2 1109.5L970.5 1105.4L970.8 1101.2L971.0 1096.8L971.3 1092.4L971.6 1087.8L971.9 1083.0L972.2 1078.2L972.5 1073.2L972.8 1068.1L973.0 1062.9L973.3 1057.6L973.6 1052.2L973.9 1046.8L974.2 1041.2L974.5 1035.5L974.7 1029.8L975.0 1024.0L975.3 1018.1L975.6 1012.1L975.9 1006.1L976.2 1000.0L976.5 993.9L976.7 987.8L977.0 981.6L977.3 975.4L977.6 969.2L977.9 962.9L978.2 956.7L978.5 950.4L978.7 944.1L979.0 937.9L979.3 931.7L979.6 925.4L979.9 919.2L980.2 913.1L980.5 907.0L980.7 900.9L981.0 894.9L981.3 888.9L981.6 883.0L981.9 877.1L982.2 871.4L982.5 865.7L982.7 860.1L983.0 854.5L983.3 849.1L983.6 843.8L983.9 838.6L984.2 833.4L984.5 828.4L984.7 823.5L985.0 818.7L985.3 814.1L985.6 809.6L985.9 805.2L986.2 800.9L986.5 796.8L986.7 792.8L987.0 788.9L987.3 785.2L987.6 781.7L987.9 778.3L988.2 775.0L988.5 771.9L988.7 768.9L989.0 766.1L989.3 763.4L989.6 761.2L989.9 763.7L990.2 766.4L990.5 769.2L990.7 772.2L991.0 775.3L991.3 778.6L991.6 782.0L991.9 785.6L992.2 789.3L992.5 793.2L992.7 797.2L993.0 801.3L993.3 805.6L993.6 810.0L993.9 814.5L994.2 819.2L994.5 824.0L994.7 828.9L995.0 833.9L995.3 839.0L995.6 844.3L995.9 849.6L996.2 855.1L996.5 860.6L996.7 866.2L997.0 871.9L997.3 877.7L997.6 883.5L997.9 889.4L998.2 895.4L998.5 901.5L998.7 907.5L999.0 913.7L999.3 919.8L999.6 926.0L999.9 932.2L1000.2 938.5L1000.5 944.7L1000.7 951.0L1001.0 957.3L1001.3 963.5L1001.6 969.8L1001.9 976.0L1002.2 982.2L1002.5 988.4L1002.7 994.5L1003.0 1000.6L1003.3 1006.7L1003.6 1012.7L1003.9 1018.6L1004.2 1024.5L1004.5 1030.3L1004.7 1036.0L1005.0 1041.7L1005.3 1047.3L1005.6 1052.7L1005.9 1058.1L1006.2 1063.4L1006.5 1068.6L1006.7 1073.7L1007.0 1078.6L1007.3 1083.5L1007.6 1088.2L1007.9 1092.8L1008.2 1097.3L1008.5 1101.6L1008.7 1105.8L1009.0 1109.9L1009.3 1113.8L1009.6 1117.6L1009.9 1121.2L1010.2 1124.7L1010.4 1128.0L1010.7 1131.2L1011.0 1134.3L1011.3 1137.2L1011.6 1139.9L1011.9 1142.5L1012.2 1142.5L1012.4 1139.9L1012.7 1137.1L1013.0 1134.2L1013.3 1131.2L1013.6 1128.0L1013.9 1124.6L1014.2 1121.2L1014.4 1117.5L1014.7 1113.7L1015.0 1109.8L1015.3 1105.7L1015.6 1101.5L1015.9 1097.2L1016.2 1092.7L1016.4 1088.1L1016.7 1083.4L1017.0 1078.6L1017.3 1073.6L1017.6 1068.5L1017.9 1063.3L1018.2 1058.1L1018.4 1052.7L1018.7 1047.2L1019.0 1041.6L1019.3 1036.0L1019.6 1030.2L1019.9 1024.4L1020.2 1018.5L1020.4 1012.6L1020.7 1006.6L1021.0 1000.5L1021.3 994.4L1021.6 988.3L1021.9 982.1L1022.2 975.9L1022.4 969.7L1022.7 963.4L1023.0 957.2L1023.3 950.9L1023.6 944.6L1023.9 938.4L1024.2 932.2L1024.4 925.9L1024.7 919.7L1025.0 913.6L1025.3 907.4L1025.6 901.4L1025.9 895.3L1026.2 889.4L1026.4 883.4L1026.7 877.6L1027.0 871.8L1027.3 866.1L1027.6 860.5L1027.9 855.0L1028.2 849.5L1028.4 844.2L1028.7 839.0L1029.0 833.8L1029.3 828.8L1029.6 823.9L1029.9 819.1L1030.2 814.5L1030.4 809.9L1030.7 805.5L1031.0 801.2L1031.3 797.1L1031.6 793.1L1031.9 789.2L1032.2 785.5L1032.4 781.9L1032.7 778.5L1033.0 775.2L1033.3 772.1L1033.6 769.1L1033.9 766.3L1034.2 763.7L1034.4 761.1L1034.7 763.5L1035.0 766.1L1035.3 769.0L1035.6 771.9L1035.9 775.0L1036.2 778.3L1036.4 781.7L1036.7 785.3L1037.0 789.0L1037.3 792.8L1037.6 796.8L1037.9 801.0L1038.2 805.2L1038.4 809.6L1038.7 814.2L1039.0 818.8L1039.3 823.6L1039.6 828.5L1039.9 833.5L1040.2 838.6L1040.4 843.9L1040.7 849.2L1041.0 854.6L1041.3 860.1L1041.6 865.7L1041.9 871.4L1042.2 877.2L1042.4 883.1L1042.7 889.0L1043.0 894.9L1043.3 901.0L1043.6 907.0L1043.9 913.2L1044.2 919.3L1044.4 925.5L1044.7 931.7L1045.0 938.0L1045.3 944.2L1045.6 950.5L1045.9 956.8L1046.1 963.0L1046.4 969.3L1046.7 975.5L1047.0 981.7L1047.3 987.9L1047.6 994.0L1047.9 1000.1L1048.1 1006.2L1048.4 1012.2L1048.7 1018.1L1049.0 1024.0L1049.3 1029.8L1049.6 1035.6L1049.9 1041.3L1050.1 1046.8L1050.4 1052.3L1050.7 1057.7L1051.0 1063.0L1051.3 1068.2L1051.6 1073.3L1051.9 1078.2L1052.1 1083.1L1052.4 1087.8L1052.7 1092.4L1053.0 1096.9L1053.3 1101.2L1053.6 1105.5L1053.9 1109.5L1054.1 1113.5L1054.4 1117.3L1054.7 1120.9L1055.0 1124.4L1055.3 1127.8L1055.6 1131.0L1055.9 1134.0L1056.1 1137.0L1056.4 1139.7L1056.7 1142.3L1057.0 1142.7L1057.3 1140.1L1057.6 1137.4L1057.9 1134.5L1058.1 1131.4L1058.4 1128.3L1058.7 1124.9L1059.0 1121.4L1059.3 1117.8L1059.6 1114.0L1059.9 1110.1L1060.1 1106.1L1060.4 1101.9L1060.7 1097.5L1061.0 1093.1L1061.3 1088.5L1061.6 1083.8L1061.9 1079.0L1062.1 1074.0L1062.4 1068.9L1062.7 1063.8L1063.0 1058.5L1063.3 1053.1L1063.6 1047.6L1063.9 1042.1L1064.1 1036.4L1064.4 1030.7L1064.7 1024.9L1065.0 1019.0L1065.3 1013.1L1065.6 1007.1L1065.9 1001.0L1066.1 994.9L1066.4 988.8L1066.7 982.6L1067.0 976.4L1067.3 970.2L1067.6 963.9L1067.9 957.7L1068.1 951.4L1068.4 945.1L1068.7 938.9L1069.0 932.6L1069.3 926.4L1069.6 920.2L1069.9 914.1L1070.1 907.9L1070.4 901.9L1070.7 895.8L1071.0 889.8L1071.3 883.9L1071.6 878.1L1071.9 872.3L1072.1 866.6L1072.4 860.9L1072.7 855.4L1073.0 850.0L1073.3 844.6L1073.6 839.4L1073.9 834.2L1074.1 829.2L1074.4 824.3L1074.7 819.5L1075.0 814.8L1075.3 810.3L1075.6 805.9L1075.9 801.6L1076.1 797.4L1076.4 793.4L1076.7 789.5L1077.0 785.8L1077.3 782.2L1077.6 778.8L1077.9 775.5L1078.1 772.4L1078.4 769.4L1078.7 766.5L1079.0 763.9L1079.3 761.3L1079.6 763.3L1079.9 765.9L1080.1 768.7L1080.4 771.7L1080.7 774.8L1081.0 778.0L1081.3 781.4L1081.6 785.0L1081.8 788.7L1082.1 792.5L1082.4 796.5L1082.7 800.6L1083.0 804.9L1083.3 809.3L1083.6 813.8L1083.8 818.4L1084.1 823.2L1084.4 828.1L1084.7 833.1L1085.0 838.2L1085.3 843.4L1085.6 848.8L1085.8 854.2L1086.1 859.7L1086.4 865.3L1086.7 871.0L1087.0 876.8L1087.3 882.6L1087.6 888.5L1087.8 894.5L1088.1 900.5L1088.4 906.6L1088.7 912.7L1089.0 918.8L1089.3 925.0L1089.6 931.2L1089.8 937.5L1090.1 943.7L1090.4 950.0L1090.7 956.3L1091.0 962.5L1091.3 968.8L1091.6 975.0L1091.8 981.2L1092.1 987.4L1092.4 993.5L1092.7 999.6L1093.0 1005.7L1093.3 1011.7L1093.6 1017.7L1093.8 1023.6L1094.1 1029.4L1094.4 1035.1L1094.7 1040.8L1095.0 1046.4L1095.3 1051.9L1095.6 1057.3L1095.8 1062.6L1096.1 1067.8L1096.4 1072.9L1096.7 1077.8L1097.0 1082.7L1097.3 1087.4L1097.6 1092.1L1097.8 1096.6L1098.1 1100.9L1098.4 1105.1L1098.7 1109.2L1099.0 1113.2L1099.3 1117.0L1099.6 1120.6L1099.8 1124.2L1100.1 1127.5L1100.4 1130.7L1100.7 1133.8L1101.0 1136.7L1101.3 1139.5L1101.6 1142.1L1101.8 1142.9L1102.1 1140.3L1102.4 1137.6L1102.7 1134.7L1103.0 1131.7L1103.3 1128.5L1103.6 1125.2L1103.8 1121.7L1104.1 1118.1L1104.4 1114.3L1104.7 1110.4L1105.0 1106.4L1105.3 1102.2L1105.6 1097.9L1105.8 1093.4L1106.1 1088.9L1106.4 1084.2L1106.7 1079.3L1107.0 1074.4L1107.3 1069.3L1107.6 1064.2L1107.8 1058.9L1108.1 1053.5L1108.4 1048.1L1108.7 1042.5L1109.0 1036.9L1109.3 1031.1L1109.6 1025.3L1109.8 1019.5L1110.1 1013.5L1110.4 1007.5L1110.7 1001.5L1111.0 995.4L1111.3 989.3L1111.6 983.1L1111.8 976.9L1112.1 970.7L1112.4 964.4L1112.7 958.2L1113.0 951.9L1113.3 945.6L1113.6 939.4L1113.8 933.1L1114.1 926.9L1114.4 920.7L1114.7 914.6L1115.0 908.4L1115.3 902.3L1115.6 896.3L1115.8 890.3L1116.1 884.4L1116.4 878.5L1116.7 872.7L1117.0 867.0L1117.3 861.4L1117.5 855.9L1117.8 850.4L1118.1 845.0L1118.4 839.8L1118.7 834.6L1119.0 829.6L1119.3 824.7L1119.5 819.9L1119.8 815.2L1120.1 810.6L1120.4 806.2L1120.7 801.9L1121.0 797.7L1121.3 793.7L1121.5 789.8L1121.8 786.1L1122.1 782.5L1122.4 779.1L1122.7 775.8L1123.0 772.6L1123.3 769.6L1123.5 766.8L1123.8 764.1L1124.1 761.5L1124.4 763.1L1124.7 765.7L1125.0 768.5L1125.3 771.4L1125.5 774.5L1125.8 777.8L1126.1 781.2L1126.4 784.7L1126.7 788.4L1127.0 792.2L1127.3 796.2L1127.5 800.3L1127.8 804.5L1128.1 808.9L1128.4 813.4L1128.7 818.1L1129.0 822.8L1129.3 827.7L1129.5 832.7L1129.8 837.8L1130.1 843.0L1130.4 848.3L1130.7 853.7L1131.0 859.3L1131.3 864.9L1131.5 870.5L1131.8 876.3L1132.1 882.1L1132.4 888.0L1132.7 894.0L1133.0 900.0L1133.3 906.1L1133.5 912.2L1133.8 918.3L1134.1 924.5L1134.4 930.7L1134.7 937.0L1135.0 943.2L1135.3 949.5L1135.5 955.8L1135.8 962.0L1136.1 968.3L1136.4 974.5L1136.7 980.7L1137.0 986.9L1137.3 993.1L1137.5 999.2L1137.8 1005.2L1138.1 1011.2L1138.4 1017.2L1138.7 1023.1L1139.0 1028.9L1139.3 1034.7L1139.5 1040.4L1139.8 1045.9L1140.1 1051.4L1140.4 1056.9L1140.7 1062.2L1141.0 1067.4L1141.3 1072.5L1141.5 1077.5L1141.8 1082.3L1142.1 1087.1L1142.4 1091.7L1142.7 1096.2L1143.0 1100.6L1143.3 1104.8L1143.5 1108.9L1143.8 1112.9L1144.1 1116.7L1144.4 1120.3L1144.7 1123.9L1145.0 1127.3L1145.3 1130.5L1145.5 1133.6L1145.8 1136.5L1146.1 1139.3L1146.4 1141.9L1146.7 1143.1L1147.0 1140.5L1147.3 1137.8L1147.5 1134.9L1147.8 1131.9L1148.1 1128.8L1148.4 1125.5L1148.7 1122.0L1149.0 1118.4L1149.3 1114.6L1149.5 1110.8L1149.8 1106.7L1150.1 1102.5L1150.4 1098.2L1150.7 1093.8L1151.0 1089.2L1151.3 1084.5L1151.5 1079.7L1151.8 1074.8L1152.1 1069.7L1152.4 1064.6L1152.7 1059.3L1153.0 1054.0L1153.2 1048.5L1153.5 1043.0L1153.8 1037.3L1154.1 1031.6L1154.4 1025.8L1154.7 1019.9L1155.0 1014.0L1155.2 1008.0L1155.5 1002.0L1155.8 995.9L1156.1 989.8L1156.4 983.6L1156.7 977.4L1157.0 971.2L1157.2 964.9L1157.5 958.7L1157.8 952.4L1158.1 946.1L1158.4 939.9L1158.7 933.6L1159.0 927.4L1159.2 921.2L1159.5 915.0L1159.8 908.9L1160.1 902.8L1160.4 896.8L1160.7 890.8L1161.0 884.9L1161.2 879.0L1161.5 873.2L1161.8 867.5L1162.1 861.8L1162.4 856.3L1162.7 850.8L1163.0 845.5L1163.2 840.2L1163.5 835.0L1163.8 830.0L1164.1 825.1L1164.4 820.3L1164.7 815.6L1165.0 811.0L1165.2 806.6L1165.5 802.2L1165.8 798.1L1166.1 794.0L1166.4 790.1L1166.7 786.4L1167.0 782.8L1167.2 779.3L1167.5 776.0L1167.8 772.9L1168.1 769.8L1168.4 767.0L1168.7 764.3L1169.0 761.7L1169.2 762.9L1169.5 765.5L1169.8 768.3L1170.1 771.2L1170.4 774.3L1170.7 777.5L1171.0 780.9L1171.2 784.4L1171.5 788.1L1171.8 791.9L1172.1 795.9L1172.4 800.0L1172.7 804.2L1173.0 808.6L1173.2 813.1L1173.5 817.7L1173.8 822.4L1174.1 827.3L1174.4 832.3L1174.7 837.4L1175.0 842.6L1175.2 847.9L1175.5 853.3L1175.8 858.8L1176.1 864.4L1176.4 870.1L1176.7 875.8L1177.0 881.7L1177.2 887.6L1177.5 893.5L1177.8 899.5L1178.1 905.6L1178.4 911.7L1178.7 917.9L1179.0 924.0L1179.2 930.3L1179.5 936.5L1179.8 942.7L1180.1 949.0L1180.4 955.3L1180.7 961.5L1181.0 967.8L1181.2 974.0L1181.5 980.2L1181.8 986.4L1182.1 992.6L1182.4 998.7L1182.7 1004.7L1183.0 1010.8L1183.2 1016.7L1183.5 1022.6L1183.8 1028.5L1184.1 1034.2L1184.4 1039.9L1184.7 1045.5L1185.0 1051.0L1185.2 1056.4L1185.5 1061.7L1185.8 1067.0L1186.1 1072.1L1186.4 1077.1L1186.7 1081.9L1187.0 1086.7L1187.2 1091.3L1187.5 1095.8L1187.8 1100.2L1188.1 1104.5L1188.4 1108.6L1188.7 1112.5L1188.9 1116.4L1189.2 1120.1L1189.5 1123.6L1189.8 1127.0L1190.1 1130.2L1190.4 1133.3L1190.7 1136.3L1190.9 1139.1L1191.2 1141.7L1191.5 1143.3L1191.8 1140.7L1192.1 1138.0L1192.4 1135.2L1192.7 1132.2L1192.9 1129.0L1193.2 1125.7L1193.5 1122.3L1193.8 1118.7L1194.1 1115.0L1194.4 1111.1L1194.7 1107.0L1194.9 1102.9L1195.2 1098.6L1195.5 1094.2L1195.8 1089.6L1196.1 1084.9L1196.4 1080.1L1196.7 1075.2L1196.9 1070.2L1197.2 1065.0L1197.5 1059.8L1197.8 1054.4L1198.1 1048.9L1198.4 1043.4L1198.7 1037.8L1198.9 1032.1L1199.2 1026.3L1199.5 1020.4L1199.8 1014.5L1200.1 1008.5L1200.4 1002.5L1200.7 996.4L1200.9 990.2L1201.2 984.1L1201.5 977.9L1201.8 971.7L1202.1 965.4L1202.4 959.2L1202.7 952.9L1202.9 946.6L1203.2 940.4L1203.5 934.1L1203.8 927.9L1204.1 921.7L1204.4 915.5L1204.7 909.4L1204.9 903.3L1205.2 897.3L1205.5 891.3L1205.8 885.3L1206.1 879.5L1206.4 873.7L1206.7 867.9L1206.9 862.3L1207.2 856.7L1207.5 851.3L1207.8 845.9L1208.1 840.6L1208.4 835.5L1208.7 830.4L1208.9 825.5L1209.2 820.6L1209.5 815.9L1209.8 811.4L1210.1 806.9L1210.4 802.6L1210.7 798.4L1210.9 794.4L1211.2 790.5L1211.5 786.7L1211.8 783.1L1212.1 779.6L1212.4 776.3L1212.7 773.1L1212.9 770.1L1213.2 767.2L1213.5 764.5L1213.8 761.9L1214.1 762.7L1214.4 765.3L1214.7 768.0L1214.9 771.0L1215.2 774.0L1215.5 777.2L1215.8 780.6L1216.1 784.1L1216.4 787.8L1216.7 791.6L1216.9 795.5L1217.2 799.6L1217.5 803.9L1217.8 808.2L1218.1 812.7L1218.4 817.3L1218.7 822.1L1218.9 826.9L1219.2 831.9L1219.5 837.0L1219.8 842.2L1220.1 847.5L1220.4 852.9L1220.7 858.4L1220.9 864.0L1221.2 869.6L1221.5 875.4L1221.8 881.2L1222.1 887.1L1222.4 893.0L1222.7 899.0L1222.9 905.1L1223.2 911.2L1223.5 917.4L1223.8 923.5L1224.1 929.8L1224.4 936.0L1224.6 942.2L1224.9 948.5L1225.2 954.8L1225.5 961.0L1225.8 967.3L1226.1 973.5L1226.4 979.7L1226.6 985.9L1226.9 992.1L1227.2 998.2L1227.5 1004.3L1227.8 1010.3L1228.1 1016.3L1228.4 1022.2L1228.6 1028.0L1228.9 1033.8L1229.2 1039.5L1229.5 1045.1L1229.8 1050.6L1230.1 1056.0L1230.4 1061.3L1230.6 1066.5L1230.9 1071.7L1231.2 1076.7L1231.5 1081.6L1231.8 1086.3L1232.1 1091.0L1232.4 1095.5L1232.6 1099.9L1232.9 1104.1L1233.2 1108.3L1233.5 1112.2L1233.8 1116.1L1234.1 1119.8L1234.4 1123.3L1234.6 1126.7L1234.9 1130.0L1235.2 1133.1L1235.5 1136.0L1235.8 1138.8L1236.1 1141.5L1236.4 1143.5L1236.6 1140.9L1236.9 1138.2L1237.2 1135.4L1237.5 1132.4L1237.8 1129.3L1238.1 1126.0L1238.4 1122.6L1238.6 1119.0L1238.9 1115.3L1239.2 1111.4L1239.5 1107.4L1239.8 1103.2L1240.1 1098.9L1240.4 1094.5L1240.6 1090.0L1240.9 1085.3L1241.2 1080.5L1241.5 1075.6L1241.8 1070.6L1242.1 1065.4L1242.4 1060.2L1242.6 1054.8L1242.9 1049.4L1243.2 1043.8L1243.5 1038.2L1243.8 1032.5L1244.1 1026.7L1244.4 1020.9L1244.6 1015.0L1244.9 1009.0L1245.2 1002.9L1245.5 996.9L1245.8 990.7L1246.1 984.6L1246.4 978.4L1246.6 972.2L1246.9 965.9L1247.2 959.7L1247.5 953.4L1247.8 947.1L1248.1 940.9L1248.4 934.6L1248.6 928.4L1248.9 922.2L1249.2 916.0L1249.5 909.9L1249.8 903.8L1250.1 897.7L1250.4 891.7L1250.6 885.8L1250.9 879.9L1251.2 874.1L1251.5 868.4L1251.8 862.7L1252.1 857.2L1252.4 851.7L1252.6 846.3L1252.9 841.0L1253.2 835.9L1253.5 830.8L1253.8 825.8L1254.1 821.0L1254.4 816.3L1254.6 811.7L1254.9 807.3L1255.2 802.9L1255.5 798.7L1255.8 794.7L1256.1 790.8L1256.4 787.0L1256.6 783.4L1256.9 779.9L1257.2 776.5L1257.5 773.3L1257.8 770.3L1258.1 767.4L1258.4 764.7L1258.6 762.1L1258.9 762.5L1259.2 765.1L1259.5 767.8L1259.8 770.7L1260.1 773.8L1260.3 777.0L1260.6 780.3L1260.9 783.8L1261.2 787.5L1261.5 791.3L1261.8 795.2L1262.1 799.3L1262.3 803.5L1262.6 807.9L1262.9 812.3L1263.2 816.9L1263.5 821.7L1263.8 826.5L1264.1 831.5L1264.3 836.6L1264.6 841.8L1264.9 847.0L1265.2 852.4L1265.5 857.9L1265.8 863.5L1266.1 869.2L1266.3 874.9L1266.6 880.7L1266.9 886.6L1267.2 892.6L1267.5 898.6L1267.8 904.6L1268.1 910.7L1268.3 916.9L1268.6 923.1L1268.9 929.3L1269.2 935.5L1269.5 941.7L1269.8 948.0L1270.1 954.3L1270.3 960.5L1270.6 966.8L1270.9 973.0L1271.2 979.2L1271.5 985.4L1271.8 991.6L1272.1 997.7L1272.3 1003.8L1272.6 1009.8L1272.9 1015.8L1273.2 1021.7L1273.5 1027.5L1273.8 1033.3L1274.1 1039.0L1274.3 1044.6L1274.6 1050.1L1274.9 1055.6L1275.2 1060.9L1275.5 1066.1L1275.8 1071.3L1276.1 1076.3L1276.3 1081.2L1276.6 1085.9L1276.9 1090.6L1277.2 1095.1L1277.5 1099.5L1277.8 1103.8L1278.1 1107.9L1278.3 1111.9L1278.6 1115.8L1278.9 1119.5L1279.2 1123.0L1279.5 1126.5L1279.8 1129.7L1280.1 1132.8L1280.3 1135.8L1280.6 1138.6L1280.9 1141.3L1281.2 1143.7L1281.5 1141.1L1281.8 1138.5L1282.1 1135.6L1282.3 1132.7L1282.6 1129.5L1282.9 1126.3L1283.2 1122.8L1283.5 1119.3L1283.8 1115.6L1284.1 1111.7L1284.3 1107.7L1284.6 1103.6L1284.9 1099.3L1285.2 1094.9L1285.5 1090.3L1285.8 1085.7L1286.1 1080.9L1286.3 1076.0L1286.6 1071.0L1286.9 1065.8L1287.2 1060.6L1287.5 1055.3L1287.8 1049.8L1288.1 1044.3L1288.3 1038.7L1288.6 1033.0L1288.9 1027.2L1289.2 1021.4L1289.5 1015.4L1289.8 1009.5L1290.1 1003.4L1290.3 997.4L1290.6 991.2L1290.9 985.1L1291.2 978.9L1291.5 972.7L1291.8 966.4L1292.1 960.2L1292.3 953.9L1292.6 947.6L1292.9 941.4L1293.2 935.1L1293.5 928.9L1293.8 922.7L1294.1 916.5L1294.3 910.4L1294.6 904.3L1294.9 898.2L1295.2 892.2L1295.5 886.3L1295.8 880.4L1296.0 874.6L1296.3 868.8L1296.6 863.2L1296.9 857.6L1297.2 852.1L1297.5 846.7L1297.8 841.5L1298.0 836.3L1298.3 831.2L1298.6 826.2L1298.9 821.4L1299.2 816.7L1299.5 812.1L1299.8 807.6L1300.0 803.3L1300.3 799.1L1300.6 795.0L1300.9 791.1L1301.2 787.3L1301.5 783.6L1301.8 780.1L1302.0 776.8L1302.3 773.6L1302.6 770.5L1302.9 767.7L1303.2 764.9L1303.5 762.3L1303.8 762.3L1304.0 764.9L1304.3 767.6L1304.6 770.5L1304.9 773.5L1305.2 776.7L1305.5 780.1L1305.8 783.6L1306.0 787.2L1306.3 791.0L1306.6 794.9L1306.9 799.0L1307.2 803.2L1307.5 807.5L1307.8 812.0L1308.0 816.6L1308.3 821.3L1308.6 826.1L1308.9 831.1L1309.2 836.2L1309.5 841.3L1309.8 846.6L1310.0 852.0L1310.3 857.5L1310.6 863.1L1310.9 868.7L1311.2 874.4L1311.5 880.3L1311.8 886.1L1312.0 892.1L1312.3 898.1L1312.6 904.1L1312.9 910.2L1313.2 916.4L1313.5 922.6L1313.8 928.8L1314.0 935.0L1314.3 941.2L1314.6 947.5L1314.9 953.8L1315.2 960.0L1315.5 966.3L1315.8 972.5L1316.0 978.7L1316.3 984.9L1316.6 991.1L1316.9 997.2L1317.2 1003.3L1317.5 1009.3L1317.8 1015.3L1318.0 1021.2L1318.3 1027.1L1318.6 1032.9L1318.9 1038.6L1319.2 1044.2L1319.5 1049.7L1319.8 1055.1L1320.0 1060.5L1320.3 1065.7L1320.6 1070.9L1320.9 1075.9L1321.2 1080.8L1321.5 1085.6L1321.8 1090.2L1322.0 1094.8L1322.3 1099.2L1322.6 1103.5L1322.9 1107.6L1323.2 1111.6L1323.5 1115.5L1323.8 1119.2L1324.0 1122.8L1324.3 1126.2L1324.6 1129.5L1324.9 1132.6L1325.2 1135.6L1325.5 1138.4L1325.8 1141.1L1326.0 1143.6L1326.3 1141.3L1326.6 1138.7L1326.9 1135.9L1327.2 1132.9L1327.5 1129.8L1327.8 1126.5L1328.0 1123.1L1328.3 1119.6L1328.6 1115.9L1328.9 1112.0L1329.2 1108.0L1329.5 1103.9L1329.8 1099.6L1330.0 1095.2L1330.3 1090.7L1330.6 1086.1L1330.9 1081.3L1331.2 1076.4L1331.5 1071.4L1331.7 1066.2L1332.0 1061.0L1332.3 1055.7L1332.6 1050.3L1332.9 1044.7L1333.2 1039.1L1333.5 1033.4L1333.7 1027.7L1334.0 1021.8L1334.3 1015.9L1334.6 1009.9L1334.9 1003.9L1335.2 997.8L1335.5 991.7L1335.7 985.6L1336.0 979.4L1336.3 973.1L1336.6 966.9L1336.9 960.7L1337.2 954.4L1337.5 948.1L1337.7 941.9L1338.0 935.6L1338.3 929.4L1338.6 923.2L1338.9 917.0L1339.2 910.9L1339.5 904.8L1339.7 898.7L1340.0 892.7L1340.3 886.7L1340.6 880.8L1340.9 875.0L1341.2 869.3L1341.5 863.6L1341.7 858.0L1342.0 852.6L1342.3 847.2L1342.6 841.9L1342.9 836.7L1343.2 831.6L1343.5 826.6L1343.7 821.8L1344.0 817.0L1344.3 812.4L1344.6 808.0L1344.9 803.6L1345.2 799.4L1345.5 795.3L1345.7 791.4L1346.0 787.6L1346.3 783.9L1346.6 780.4L1346.9 777.1L1347.2 773.8L1347.5 770.8L1347.7 767.9L1348.0 765.1L1348.3 762.5L1348.6 762.1L1348.9 764.6L1349.2 767.4L1349.5 770.2L1349.7 773.3L1350.0 776.5L1350.3 779.8L1350.6 783.3L1350.9 786.9L1351.2 790.7L1351.5 794.6L1351.7 798.6L1352.0 802.8L1352.3 807.2L1352.6 811.6L1352.9 816.2L1353.2 820.9L1353.5 825.7L1353.7 830.7L1354.0 835.8L1354.3 840.9L1354.6 846.2L1354.9 851.6L1355.2 857.0L1355.5 862.6L1355.7 868.3L1356.0 874.0L1356.3 879.8L1356.6 885.7L1356.9 891.6L1357.2 897.6L1357.5 903.7L1357.7 909.8L1358.0 915.9L1358.3 922.1L1358.6 928.3L1358.9 934.5L1359.2 940.7L1359.5 947.0L1359.7 953.3L1360.0 959.5L1360.3 965.8L1360.6 972.0L1360.9 978.2L1361.2 984.4L1361.5 990.6L1361.7 996.7L1362.0 1002.8L1362.3 1008.9L1362.6 1014.8L1362.9 1020.8L1363.2 1026.6L1363.5 1032.4L1363.7 1038.1L1364.0 1043.7L1364.3 1049.3L1364.6 1054.7L1364.9 1060.1L1365.2 1065.3L1365.5 1070.5L1365.7 1075.5L1366.0 1080.4L1366.3 1085.2L1366.6 1089.9L1366.9 1094.4L1367.2 1098.8L1367.4 1103.1L1367.7 1107.3L1368.0 1111.3L1368.3 1115.2L1368.6 1118.9L1368.9 1122.5L1369.2 1125.9L1369.4 1129.2L1369.7 1132.4L1370.0 1135.3L1370.3 1138.2L1370.6 1140.9L1370.9 1143.4L1371.2 1141.5L1371.4 1138.9L1371.7 1136.1L1372.0 1133.2L1372.3 1130.1L1372.6 1126.8L1372.9 1123.4L1373.2 1119.9L1373.4 1116.2L1373.7 1112.3L1374.0 1108.3L1374.3 1104.2L1374.6 1100.0L1374.9 1095.6L1375.2 1091.1L1375.4 1086.4L1375.7 1081.7L1376.0 1076.8L1376.3 1071.8L1376.6 1066.7L1376.9 1061.4L1377.2 1056.1L1377.4 1050.7L1377.7 1045.2L1378.0 1039.6L1378.3 1033.9L1378.6 1028.1L1378.9 1022.3L1379.2 1016.4L1379.4 1010.4L1379.7 1004.4L1380.0 998.3L1380.3 992.2L1380.6 986.0L1380.9 979.9L1381.2 973.6L1381.4 967.4L1381.7 961.2L1382.0 954.9L1382.3 948.6L1382.6 942.4L1382.9 936.1L1383.2 929.9L1383.4 923.7L1383.7 917.5L1384.0 911.3L1384.3 905.2L1384.6 899.2L1384.9 893.2L1385.2 887.2L1385.4 881.3L1385.7 875.5L1386.0 869.7L1386.3 864.1L1386.6 858.5L1386.9 853.0L1387.2 847.6L1387.4 842.3L1387.7 837.1L1388.0 832.0L1388.3 827.0L1388.6 822.2L1388.9 817.4L1389.2 812.8L1389.4 808.3L1389.7 803.9L1390.0 799.7L1390.3 795.6L1390.6 791.7L1390.9 787.9L1391.2 784.2L1391.4 780.7L1391.7 777.3L1392.0 774.1L1392.3 771.0L1392.6 768.1L1392.9 765.3L1393.2 762.7L1393.4 761.9L1393.7 764.4L1394.0 767.1L1394.3 770.0L1394.6 773.0L1394.9 776.2L1395.2 779.5L1395.4 783.0L1395.7 786.6L1396.0 790.4L1396.3 794.3L1396.6 798.3L1396.9 802.5L1397.2 806.8L1397.4 811.3L1397.7 815.8L1398.0 820.5L1398.3 825.4L1398.6 830.3L1398.9 835.3L1399.2 840.5L1399.4 845.8L1399.7 851.1L1400.0 856.6L1400.3 862.2L1400.6 867.8L1400.9 873.5L1401.2 879.3L1401.4 885.2L1401.7 891.1L1402.0 897.1L1402.3 903.2L1402.6 909.3L1402.9 915.4L1403.1 921.6L1403.4 927.8L1403.7 934.0L1404.0 940.2L1404.3 946.5L1404.6 952.8L1404.9 959.0L1405.1 965.3L1405.4 971.5L1405.7 977.7L1406.0 983.9L1406.3 990.1L1406.6 996.2L1406.9 1002.3L1407.1 1008.4L1407.4 1014.4L1407.7 1020.3L1408.0 1026.2L1408.3 1031.9L1408.6 1037.7L1408.9 1043.3L1409.1 1048.8L1409.4 1054.3L1409.7 1059.6L1410.0 1064.9L1410.3 1070.0L1410.6 1075.1L1410.9 1080.0L1411.1 1084.8L1411.4 1089.5L1411.7 1094.1L1412.0 1098.5L1412.3 1102.8L1412.6 1107.0L1412.9 1111.0L1413.1 1114.9L1413.4 1118.6L1413.7 1122.2L1414.0 1125.7L1414.3 1129.0L1414.6 1132.1L1414.9 1135.1L1415.1 1138.0L1415.4 1140.7L1415.7 1143.2L1416.0 1141.8L1416.3 1139.1L1416.6 1136.3L1416.9 1133.4L1417.1 1130.3L1417.4 1127.1L1417.7 1123.7L1418.0 1120.1L1418.3 1116.5L1418.6 1112.6L1418.9 1108.7L1419.1 1104.6L1419.4 1100.3L1419.7 1095.9L1420.0 1091.4L1420.3 1086.8L1420.6 1082.0L1420.9 1077.2L1421.1 1072.2L1421.4 1067.1L1421.7 1061.9L1422.0 1056.5L1422.3 1051.1L1422.6 1045.6L1422.9 1040.0L1423.1 1034.3L1423.4 1028.6L1423.7 1022.8L1424.0 1016.9L1424.3 1010.9L1424.6 1004.9L1424.9 998.8L1425.1 992.7L1425.4 986.5L1425.7 980.4L1426.0 974.1L1426.3 967.9L1426.6 961.7L1426.9 955.4L1427.1 949.1L1427.4 942.9L1427.7 936.6L1428.0 930.4L1428.3 924.2L1428.6 918.0L1428.9 911.8L1429.1 905.7L1429.4 899.7L1429.7 893.6L1430.0 887.7L1430.3 881.8L1430.6 876.0L1430.9 870.2L1431.1 864.5L1431.4 858.9L1431.7 853.4L1432.0 848.0L1432.3 842.7L1432.6 837.5L1432.9 832.4L1433.1 827.4L1433.4 822.5L1433.7 817.8L1434.0 813.2L1434.3 808.7L1434.6 804.3L1434.9 800.1L1435.1 796.0L1435.4 792.0L1435.7 788.2L1436.0 784.5L1436.3 781.0L1436.6 777.6L1436.9 774.3L1437.1 771.3L1437.4 768.3L1437.7 765.6L1438.0 762.9L1438.3 761.7L1438.6 764.2L1438.8 766.9L1439.1 769.8L1439.4 772.8L1439.7 775.9L1440.0 779.3L1440.3 782.7L1440.6 786.3L1440.8 790.1L1441.1 794.0L1441.4 798.0L1441.7 802.2L1442.0 806.5L1442.3 810.9L1442.6 815.5L1442.8 820.2L1443.1 825.0L1443.4 829.9L1443.7 834.9L1444.0 840.1L1444.3 845.4L1444.6 850.7L1444.8 856.2L1445.1 861.7L1445.4 867.4L1445.7 873.1L1446.0 878.9L1446.3 884.7L1446.6 890.7L1446.8 896.6L1447.1 902.7L1447.4 908.8L1447.7 914.9L1448.0 921.1L1448.3 927.3L1448.6 933.5L1448.8 939.7L1449.1 946.0L1449.4 952.3L1449.7 958.5L1450.0 964.8L1450.3 971.0L1450.6 977.3L1450.8 983.5L1451.1 989.6L1451.4 995.8L1451.7 1001.9L1452.0 1007.9L1452.3 1013.9L1452.6 1019.8L1452.8 1025.7L1453.1 1031.5L1453.4 1037.2L1453.7 1042.8L1454.0 1048.4L1454.3 1053.9L1454.6 1059.2L1454.8 1064.5L1455.1 1069.6L1455.4 1074.7L1455.7 1079.6L1456.0 1084.4L1456.3 1089.1L1456.6 1093.7L1456.8 1098.1L1457.1 1102.5L1457.4 1106.6L1457.7 1110.7L1458.0 1114.6L1458.3 1118.3L1458.6 1121.9L1458.8 1125.4L1459.1 1128.7L1459.4 1131.9L1459.7 1134.9L1460.0 1137.7L1460.3 1140.5L1460.6 1143.0L1460.8 1142.0L1461.1 1139.3L1461.4 1136.6L1461.7 1133.6L1462.0 1130.6L1462.3 1127.3L1462.6 1124.0L1462.8 1120.4L1463.1 1116.8L1463.4 1112.9L1463.7 1109.0L1464.0 1104.9L1464.3 1100.7L1464.6 1096.3L1464.8 1091.8L1465.1 1087.2L1465.4 1082.4L1465.7 1077.6L1466.0 1072.6L1466.3 1067.5L1466.6 1062.3L1466.8 1057.0L1467.1 1051.6L1467.4 1046.1L1467.7 1040.5L1468.0 1034.8L1468.3 1029.0L1468.6 1023.2L1468.8 1017.3L1469.1 1011.4L1469.4 1005.4L1469.7 999.3L1470.0 993.2L1470.3 987.0L1470.6 980.8L1470.8 974.6L1471.1 968.4L1471.4 962.2L1471.7 955.9L1472.0 949.6L1472.3 943.4L1472.6 937.1L1472.8 930.9L1473.1 924.7L1473.4 918.5L1473.7 912.3L1474.0 906.2L1474.3 900.1L1474.5 894.1L1474.8 888.2L1475.1 882.2L1475.4 876.4L1475.7 870.7L1476.0 865.0L1476.3 859.4L1476.5 853.9L1476.8 848.4L1477.1 843.1L1477.4 837.9L1477.7 832.8L1478.0 827.8L1478.3 822.9L1478.5 818.2L1478.8 813.5L1479.1 809.0L1479.4 804.6L1479.7 800.4L1480.0 796.3L1480.3 792.3L1480.5 788.5L1480.8 784.8L1481.1 781.2L1481.4 777.8L1481.7 774.6L1482.0 771.5L1482.3 768.6L1482.5 765.8L1482.8 763.1L1483.1 761.5L1483.4 764.0L1483.7 766.7L1484.0 769.5L1484.3 772.5L1484.5 775.7L1484.8 779.0L1485.1 782.4L1485.4 786.0L1485.7 789.8L1486.0 793.6L1486.3 797.7L1486.5 801.8L1486.8 806.1L1487.1 810.5L1487.4 815.1L1487.7 819.8L1488.0 824.6L1488.3 829.5L1488.5 834.5L1488.8 839.7L1489.1 844.9L1489.4 850.3L1489.7 855.7L1490.0 861.3L1490.3 866.9L1490.5 872.6L1490.8 878.4L1491.1 884.3L1491.4 890.2L1491.7 896.2L1492.0 902.2L1492.3 908.3L1492.5 914.4L1492.8 920.6L1493.1 926.8L1493.4 933.0L1493.7 939.3L1494.0 945.5L1494.3 951.8L1494.5 958.0L1494.8 964.3L1495.1 970.5L1495.4 976.8L1495.7 983.0L1496.0 989.1L1496.3 995.3L1496.5 1001.4L1496.8 1007.4L1497.1 1013.4L1497.4 1019.3L1497.7 1025.2L1498.0 1031.0L1498.3 1036.7L1498.5 1042.4L1498.8 1048.0L1499.1 1053.4L1499.4 1058.8L1499.7 1064.1L1500.0 1069.2L1500.3 1074.3L1500.5 1079.2L1500.8 1084.1L1501.1 1088.8L1501.4 1093.3L1501.7 1097.8L1502.0 1102.1L1502.3 1106.3L1502.5 1110.4L1502.8 1114.3L1503.1 1118.0L1503.4 1121.6L1503.7 1125.1L1504.0 1128.4L1504.3 1131.6L1504.5 1134.6L1504.8 1137.5L1505.1 1140.2L1505.4 1142.8L1505.7 1142.2L1506.0 1139.5L1506.3 1136.8L1506.5 1133.9L1506.8 1130.8L1507.1 1127.6L1507.4 1124.2L1507.7 1120.7L1508.0 1117.1L1508.3 1113.2L1508.5 1109.3L1508.8 1105.2L1509.1 1101.0L1509.4 1096.6L1509.7 1092.2L1510.0 1087.5L1510.2 1082.8L1510.5 1078.0L1510.8 1073.0L1511.1 1067.9L1511.4 1062.7L1511.7 1057.4L1512.0 1052.0L1512.2 1046.5L1512.5 1040.9L1512.8 1035.3L1513.1 1029.5L1513.4 1023.7L1513.7 1017.8L1514.0 1011.8L1514.2 1005.8L1514.5 999.8L1514.8 993.7L1515.1 987.5L1515.4 981.3L1515.7 975.1L1516.0 968.9L1516.2 962.6L1516.5 956.4L1516.8 950.1L1517.1 943.9L1517.4 937.6L1517.7 931.4L1518.0 925.2L1518.2 919.0L1518.5 912.8L1518.8 906.7L1519.1 900.6L1519.4 894.6L1519.7 888.6L1520.0 882.7L1520.2 876.9L1520.5 871.1L1520.8 865.4L1521.1 859.8L1521.4 854.3L1521.7 848.9L1522.0 843.5L1522.2 838.3L1522.5 833.2L1522.8 828.2L1523.1 823.3L1523.4 818.5L1523.7 813.9L1524.0 809.4L1524.2 805.0L1524.5 800.7L1524.8 796.6L1525.1 792.6L1525.4 788.8L1525.7 785.1L1526.0 781.5L1526.2 778.1L1526.5 774.9L1526.8 771.7L1527.1 768.8L1527.4 766.0L1527.7 763.3L1528.0 761.3L1528.2 763.8L1528.5 766.5L1528.8 769.3L1529.1 772.3L1529.4 775.4L1529.7 778.7L1530.0 782.2L1530.2 785.7L1530.5 789.5L1530.8 793.3L1531.1 797.3L1531.4 801.5L1531.7 805.8L1532.0 810.2L1532.2 814.7L1532.5 819.4L1532.8 824.2L1533.1 829.1L1533.4 834.1L1533.7 839.3L1534.0 844.5L1534.2 849.9L1534.5 855.3L1534.8 860.8L1535.1 866.5L1535.4 872.2L1535.7 877.9L1536.0 883.8L1536.2 889.7L1536.5 895.7L1536.8 901.7L1537.1 907.8L1537.4 913.9L1537.7 920.1L1538.0 926.3L1538.2 932.5L1538.5 938.8L1538.8 945.0L1539.1 951.3L1539.4 957.5L1539.7 963.8L1540.0 970.0L1540.2 976.3L1540.5 982.5L1540.8 988.6L1541.1 994.8L1541.4 1000.9L1541.7 1006.9L1542.0 1012.9L1542.2 1018.9L1542.5 1024.8L1542.8 1030.6L1543.1 1036.3L1543.4 1041.9L1543.7 1047.5L1544.0 1053.0L1544.2 1058.4L1544.5 1063.6L1544.8 1068.8L1545.1 1073.9L1545.4 1078.8L1545.7 1083.7L1545.9 1088.4L1546.2 1093.0L1546.5 1097.4L1546.8 1101.8L1547.1 1106.0L1547.4 1110.0L1547.7 1114.0L1547.9 1117.7L1548.2 1121.4L1548.5 1124.8L1548.8 1128.2L1549.1 1131.4L1549.4 1134.4L1549.7 1137.3L1549.9 1140.0L1550.2 1142.6L1550.5 1142.4L1550.8 1139.8L1551.1 1137.0L1551.4 1134.1L1551.7 1131.1L1551.9 1127.9L1552.2 1124.5L1552.5 1121.0L1552.8 1117.3L1553.1 1113.6L1553.4 1109.6L1553.7 1105.6L1553.9 1101.3L1554.2 1097.0L1554.5 1092.5L1554.8 1087.9L1555.1 1083.2L1555.4 1078.3L1555.7 1073.4L1555.9 1068.3L1556.2 1063.1L1556.5 1057.8L1556.8 1052.4L1557.1 1046.9L1557.4 1041.4L1557.7 1035.7L1557.9 1030.0L1558.2 1024.2L1558.5 1018.3L1558.8 1012.3L1559.1 1006.3L1559.4 1000.3L1559.7 994.2L1559.9 988.0L1560.2 981.8L1560.5 975.6L1560.8 969.4L1561.1 963.1L1561.4 956.9L1561.7 950.6L1561.9 944.4L1562.2 938.1L1562.5 931.9L1562.8 925.7L1563.1 919.5L1563.4 913.3L1563.7 907.2L1563.9 901.1L1564.2 895.1L1564.5 889.1L1564.8 883.2L1565.1 877.3L1565.4 871.6L1565.7 865.9L1565.9 860.3L1566.2 854.7L1566.5 849.3L1566.8 844.0L1567.1 838.7L1567.4 833.6L1567.7 828.6L1567.9 823.7L1568.2 818.9L1568.5 814.3L1568.8 809.7L1569.1 805.3L1569.4 801.1L1569.7 796.9L1569.9 792.9L1570.2 789.1L1570.5 785.4L1570.8 781.8L1571.1 778.4L1571.4 775.1L1571.7 772.0L1571.9 769.0L1572.2 766.2L1572.5 763.5L1572.8 761.1L1573.1 763.6L1573.4 766.3L1573.7 769.1L1573.9 772.1L1574.2 775.2L1574.5 778.5L1574.8 781.9L1575.1 785.4L1575.4 789.2L1575.7 793.0L1575.9 797.0L1576.2 801.1L1576.5 805.4L1576.8 809.8L1577.1 814.4L1577.4 819.0L1577.7 823.8L1577.9 828.7L1578.2 833.7L1578.5 838.9L1578.8 844.1L1579.1 849.4L1579.4 854.9L1579.7 860.4L1579.9 866.0L1580.2 871.7L1580.5 877.5L1580.8 883.3L1581.1 889.2L1581.4 895.2L1581.6 901.2L1581.9 907.3L1582.2 913.4L1582.5 919.6L1582.8 925.8L1583.1 932.0L1583.4 938.3L1583.6 944.5L1583.9 950.8L1584.2 957.0L1584.5 963.3L1584.8 969.5L1585.1 975.8L1585.4 982.0L1585.6 988.2L1585.9 994.3L1586.2 1000.4L1586.5 1006.5L1586.8 1012.5L1587.1 1018.4L1587.4 1024.3L1587.6 1030.1L1587.9 1035.8L1588.2 1041.5L1588.5 1047.1L1588.8 1052.6L1589.1 1057.9L1589.4 1063.2L1589.6 1068.4L1589.9 1073.5L1590.2 1078.5L1590.5 1083.3L1590.8 1088.0L1591.1 1092.6L1591.4 1097.1L1591.6 1101.4L1591.9 1105.6L1592.2 1109.7L1592.5 1113.6L1592.8 1117.4L1593.1 1121.1L1593.4 1124.6L1593.6 1127.9L1593.9 1131.1L1594.2 1134.2L1594.5 1137.1L1594.8 1139.8L1595.1 1142.4L1595.4 1142.6L1595.6 1140.0L1595.9 1137.2L1596.2 1134.3L1596.5 1131.3L1596.8 1128.1L1597.1 1124.8L1597.4 1121.3L1597.6 1117.6L1597.9 1113.9L1598.2 1109.9L1598.5 1105.9" stroke="#006400" stroke-width="10" stroke-dasharray="7.6 5.5" stroke-dashoffset="4.25"/>
</g>
<path d="M203.5 1203.6V80.2" stroke="#000" stroke-width="9" stroke-dasharray="27 25.62" fill="none"/>
<path d="M885.0 1203.6V80.2" stroke="#000" stroke-width="9" stroke-dasharray="27 25.62" fill="none"/>
<text x="171.5" y="1269.8" font-size="52.5" fill="#262626" text-anchor="middle">0</text>
<text x="528.5" y="1269.8" font-size="52.5" fill="#262626" text-anchor="middle">50</text>
<text x="885.5" y="1269.8" font-size="52.5" fill="#262626" text-anchor="middle">100</text>
<text x="1242.5" y="1269.8" font-size="52.5" fill="#262626" text-anchor="middle">150</text>
<text x="1599.5" y="1269.8" font-size="52.5" fill="#262626" text-anchor="middle">200</text>
<text x="150.5" y="1220.3" font-size="53" fill="#262626" text-anchor="end">-2</text>
<text x="150.5" y="1095.2" font-size="53" fill="#262626" text-anchor="end">-1</text>
<text x="150.5" y="970.2" font-size="53" fill="#262626" text-anchor="end">0</text>
<text x="150.5" y="845.1" font-size="53" fill="#262626" text-anchor="end">1</text>
<text x="150.5" y="720.1" font-size="53" fill="#262626" text-anchor="end">2</text>
<text x="150.5" y="595.0" font-size="53" fill="#262626" text-anchor="end">3</text>
<text x="150.5" y="470.0" font-size="53" fill="#262626" text-anchor="end">4</text>
<text x="150.5" y="344.9" font-size="53" fill="#262626" text-anchor="end">5</text>
<text x="150.5" y="219.9" font-size="53" fill="#262626" text-anchor="end">6</text>
<text x="150.5" y="94.8" font-size="53" fill="#262626" text-anchor="end">7</text>
<text x="884.2" y="52" font-size="58.5" font-weight="bold" fill="#000" text-anchor="middle" textLength="429" lengthAdjust="spacing">Generator Power</text>
<text x="884.6" y="1344" font-size="58" font-weight="bold" fill="#262626" text-anchor="middle">Time (sec)</text>
<g transform="translate(54.8 754.6) rotate(-90)" font-weight="bold" fill="#262626"><text x="0" y="0" font-size="58.5">P</text><text x="35.5" y="27.6" font-size="47">g</text><text x="76" y="0" font-size="58.5">(MW)</text></g>
<g stroke="#000" stroke-width="2.7" fill="none">
<path d="M213 233L472 264.6"/><path d="M880 235.6L567 268.7"/>
</g>
<path d="M504.3 268.1L461 246.3L471.8 264.5L456.8 278.6Z" fill="#000" stroke="#000" stroke-width="1.8" stroke-linejoin="round"/>
<path d="M534.3 270.8L578.2 249.9L567.5 268.6L580.8 284Z" fill="#000" stroke="#000" stroke-width="1.8" stroke-linejoin="round"/>
<rect x="333.2" y="274.4" width="387.6" height="86.4" fill="none" stroke="#000" stroke-width="3.2"/>
<text x="356.6" y="333.7" font-size="47.5" fill="#ff0000" textLength="335" lengthAdjust="spacing">Fault Start Times</text>
<rect x="1046" y="77" width="552.5" height="187.5" fill="#fff"/>
<path d="M1046 75V266" stroke="#262626" stroke-width="4" fill="none"/>
<path d="M1044 264.5H1600M1598.5 75V266" stroke="#262626" stroke-width="3" fill="none"/>
<path d="M1044 77H1600" stroke="#262626" stroke-width="4" fill="none"/>
<path d="M1059 112H1192" stroke="#ff0000" stroke-width="10"/>
<path d="M1059 171H1192" stroke="#0000ff" stroke-width="10" stroke-dasharray="27.5 25"/>
<path d="M1059 229.5H1192.3" stroke="#006400" stroke-width="9" stroke-dasharray="7.4 5.65"/>
<text x="1202" y="123" font-size="53" fill="#000" stroke="#000" stroke-width="0.7" textLength="313" lengthAdjust="spacing">Adaptive-SMC</text>
<text x="1200.5" y="183.5" font-size="50" fill="#000" stroke="#000" stroke-width="1.2" font-family="'DejaVu Sans',sans-serif" font-style="italic">ℒ</text>
<text x="1236" y="190" font-size="33" fill="#000" stroke="#000" stroke-width="0.7">1</text>
<text x="1270" y="183.3" font-size="53" fill="#000" stroke="#000" stroke-width="0.7" textLength="313" lengthAdjust="spacing">Adaptive-SMC</text>
<text x="1202" y="240.3" font-size="53" fill="#000" stroke="#000" stroke-width="0.7" textLength="366" lengthAdjust="spacing">Adaptive Control</text>
</svg>
</body></html>
